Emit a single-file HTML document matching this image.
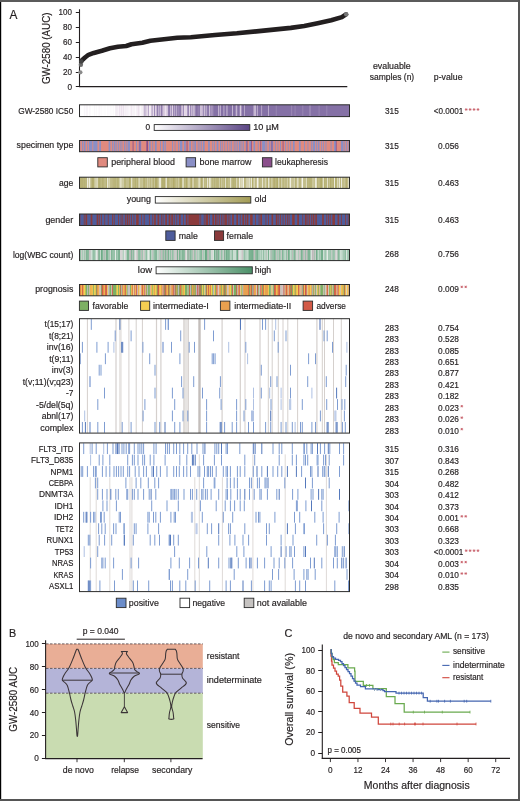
<!DOCTYPE html><html><head><meta charset="utf-8"><style>html,body{margin:0;padding:0;background:#fff}svg{display:block;will-change:transform}text{font-family:"Liberation Sans",sans-serif;stroke:#231f20;stroke-width:0.18px}</style></head><body><svg width="520" height="801" viewBox="0 0 520 801" font-family="Liberation Sans, sans-serif">
<rect width="520" height="801" fill="#ffffff"/>
<text x="9.40" y="19.10" font-size="12.2" textLength="7.90" lengthAdjust="spacingAndGlyphs" fill="#231f20">A</text>
<text transform="translate(50.2,48.3) rotate(-90)" font-size="10.6" text-anchor="middle" textLength="71.5" lengthAdjust="spacingAndGlyphs" fill="#231f20">GW-2580 (AUC)</text>
<text x="72.00" y="89.80" font-size="9.2" text-anchor="end" textLength="4.60" lengthAdjust="spacingAndGlyphs" fill="#231f20">0</text>
<line x1="75.8" y1="86.50" x2="79.5" y2="86.50" stroke="#231f20" stroke-width="1"/>
<text x="72.00" y="74.92" font-size="9.2" text-anchor="end" textLength="9.00" lengthAdjust="spacingAndGlyphs" fill="#231f20">20</text>
<line x1="75.8" y1="72.50" x2="79.5" y2="72.50" stroke="#231f20" stroke-width="1"/>
<text x="72.00" y="60.04" font-size="9.2" text-anchor="end" textLength="9.00" lengthAdjust="spacingAndGlyphs" fill="#231f20">40</text>
<line x1="75.8" y1="57.50" x2="79.5" y2="57.50" stroke="#231f20" stroke-width="1"/>
<text x="72.00" y="45.16" font-size="9.2" text-anchor="end" textLength="9.00" lengthAdjust="spacingAndGlyphs" fill="#231f20">60</text>
<line x1="75.8" y1="42.50" x2="79.5" y2="42.50" stroke="#231f20" stroke-width="1"/>
<text x="72.00" y="30.28" font-size="9.2" text-anchor="end" textLength="9.00" lengthAdjust="spacingAndGlyphs" fill="#231f20">80</text>
<line x1="75.8" y1="27.50" x2="79.5" y2="27.50" stroke="#231f20" stroke-width="1"/>
<text x="72.00" y="15.40" font-size="9.2" text-anchor="end" textLength="13.40" lengthAdjust="spacingAndGlyphs" fill="#231f20">100</text>
<line x1="75.8" y1="12.50" x2="79.5" y2="12.50" stroke="#231f20" stroke-width="1"/>
<line x1="79.5" y1="9.3" x2="79.5" y2="86.9" stroke="#231f20" stroke-width="1.1"/>
<line x1="79" y1="86.6" x2="347.3" y2="86.6" stroke="#231f20" stroke-width="1.1"/>
<path d="M82.0,60.2 L85.0,57.5 L88.5,54.8 L93.8,52.9 L101.9,50.8 L110.0,48.3 L118.0,46.7 L126.2,46.0 L131.5,44.2 L142.3,42.7 L150.4,40.7 L163.9,39.2 L177.3,37.8 L190.8,37.2 L204.2,36.0 L215.0,35.0 L236.9,33.3 L263.8,30.6 L290.8,27.9 L304.2,26.0 L317.7,23.3 L331.2,20.3 L341.9,17.1 L346.0,14.4" fill="none" stroke="#231f20" stroke-width="4.6" stroke-linecap="round" stroke-linejoin="round"/>
<circle cx="80.4" cy="72.3" r="2.1" fill="#8a8a8a"/>
<circle cx="80.9" cy="64.8" r="2.2" fill="#6a6a6a"/>
<circle cx="81.4" cy="61.5" r="2.3" fill="#444"/>
<circle cx="346.2" cy="14.3" r="2.2" fill="#777"/>
<text x="391.80" y="69.10" font-size="9.0" text-anchor="middle" textLength="37.80" lengthAdjust="spacingAndGlyphs" fill="#231f20">evaluable</text>
<text x="392.00" y="79.70" font-size="9.0" text-anchor="middle" textLength="44.40" lengthAdjust="spacingAndGlyphs" fill="#231f20">samples (n)</text>
<text x="448.20" y="79.70" font-size="9.0" text-anchor="middle" textLength="28.70" lengthAdjust="spacingAndGlyphs" fill="#231f20">p-value</text>
<rect x="79.50" y="104.80" width="1.56" height="11.80" fill="#fdfcfd"/><rect x="80.36" y="104.80" width="1.56" height="11.80" fill="#fbf9fc"/><rect x="81.21" y="104.80" width="3.27" height="11.80" fill="#ffffff"/><rect x="83.79" y="104.80" width="1.56" height="11.80" fill="#f8f4f9"/><rect x="84.64" y="104.80" width="1.56" height="11.80" fill="#fbf9fc"/><rect x="85.50" y="104.80" width="1.56" height="11.80" fill="#fefefe"/><rect x="86.36" y="104.80" width="1.56" height="11.80" fill="#f5f0f6"/><rect x="87.21" y="104.80" width="1.56" height="11.80" fill="#faf7fa"/><rect x="88.07" y="104.80" width="1.56" height="11.80" fill="#fefefe"/><rect x="88.93" y="104.80" width="2.41" height="11.80" fill="#faf7fa"/><rect x="90.64" y="104.80" width="2.41" height="11.80" fill="#ffffff"/><rect x="92.36" y="104.80" width="2.41" height="11.80" fill="#fefefe"/><rect x="94.07" y="104.80" width="1.56" height="11.80" fill="#faf7fa"/><rect x="94.93" y="104.80" width="1.56" height="11.80" fill="#fefefe"/><rect x="95.79" y="104.80" width="1.56" height="11.80" fill="#faf7fa"/><rect x="96.64" y="104.80" width="1.56" height="11.80" fill="#fdfcfd"/><rect x="97.50" y="104.80" width="1.56" height="11.80" fill="#ffffff"/><rect x="98.36" y="104.80" width="2.41" height="11.80" fill="#faf7fa"/><rect x="100.07" y="104.80" width="1.56" height="11.80" fill="#fdfcfd"/><rect x="100.93" y="104.80" width="1.56" height="11.80" fill="#fbf9fc"/><rect x="101.79" y="104.80" width="2.41" height="11.80" fill="#fefefe"/><rect x="103.50" y="104.80" width="3.27" height="11.80" fill="#fdfcfd"/><rect x="106.07" y="104.80" width="1.56" height="11.80" fill="#ffffff"/><rect x="106.93" y="104.80" width="1.56" height="11.80" fill="#fbf9fc"/><rect x="107.79" y="104.80" width="1.56" height="11.80" fill="#fdfcfd"/><rect x="108.64" y="104.80" width="1.56" height="11.80" fill="#fbf9fc"/><rect x="109.50" y="104.80" width="1.56" height="11.80" fill="#ffffff"/><rect x="110.36" y="104.80" width="1.56" height="11.80" fill="#faf7fa"/><rect x="111.21" y="104.80" width="2.41" height="11.80" fill="#fdfcfd"/><rect x="112.93" y="104.80" width="1.56" height="11.80" fill="#faf7fa"/><rect x="113.79" y="104.80" width="1.56" height="11.80" fill="#ffffff"/><rect x="114.64" y="104.80" width="1.56" height="11.80" fill="#fdfcfd"/><rect x="115.50" y="104.80" width="1.56" height="11.80" fill="#ebe0ec"/><rect x="116.36" y="104.80" width="1.56" height="11.80" fill="#f6f1f6"/><rect x="117.21" y="104.80" width="1.56" height="11.80" fill="#f3ecf4"/><rect x="118.07" y="104.80" width="1.56" height="11.80" fill="#faf6fa"/><rect x="118.93" y="104.80" width="1.56" height="11.80" fill="#ebdfec"/><rect x="119.79" y="104.80" width="1.56" height="11.80" fill="#f8f4f8"/><rect x="120.64" y="104.80" width="1.56" height="11.80" fill="#f0e7f1"/><rect x="121.50" y="104.80" width="1.56" height="11.80" fill="#eadeeb"/><rect x="122.36" y="104.80" width="1.56" height="11.80" fill="#faf7fa"/><rect x="123.21" y="104.80" width="1.56" height="11.80" fill="#e9ddea"/><rect x="124.07" y="104.80" width="1.56" height="11.80" fill="#f8f4f8"/><rect x="124.93" y="104.80" width="2.41" height="11.80" fill="#f4eef5"/><rect x="126.64" y="104.80" width="1.56" height="11.80" fill="#f8f5f9"/><rect x="127.50" y="104.80" width="1.56" height="11.80" fill="#f4eef5"/><rect x="128.36" y="104.80" width="1.56" height="11.80" fill="#fbf8fb"/><rect x="129.21" y="104.80" width="1.56" height="11.80" fill="#faf7fa"/><rect x="130.07" y="104.80" width="1.56" height="11.80" fill="#f8f4f8"/><rect x="130.93" y="104.80" width="1.56" height="11.80" fill="#efe5ef"/><rect x="131.79" y="104.80" width="1.56" height="11.80" fill="#f8f4f9"/><rect x="132.64" y="104.80" width="1.56" height="11.80" fill="#f7f2f7"/><rect x="133.50" y="104.80" width="1.56" height="11.80" fill="#f6f1f6"/><rect x="134.36" y="104.80" width="1.56" height="11.80" fill="#f7f2f7"/><rect x="135.21" y="104.80" width="1.56" height="11.80" fill="#fcfafc"/><rect x="136.07" y="104.80" width="1.56" height="11.80" fill="#f5eff6"/><rect x="136.93" y="104.80" width="1.56" height="11.80" fill="#f5eff5"/><rect x="137.79" y="104.80" width="1.56" height="11.80" fill="#eee3ee"/><rect x="138.64" y="104.80" width="1.56" height="11.80" fill="#ebe0ec"/><rect x="139.50" y="104.80" width="1.56" height="11.80" fill="#fbf9fc"/><rect x="140.36" y="104.80" width="1.56" height="11.80" fill="#fbf8fb"/><rect x="141.21" y="104.80" width="3.27" height="11.80" fill="#f4eef4"/><rect x="143.79" y="104.80" width="1.56" height="11.80" fill="#b09fc3"/><rect x="144.64" y="104.80" width="1.56" height="11.80" fill="#ede2ee"/><rect x="145.50" y="104.80" width="1.56" height="11.80" fill="#b09fc3"/><rect x="146.36" y="104.80" width="1.56" height="11.80" fill="#f4eef4"/><rect x="147.21" y="104.80" width="1.56" height="11.80" fill="#e2d4e5"/><rect x="148.07" y="104.80" width="1.56" height="11.80" fill="#b09fc3"/><rect x="148.93" y="104.80" width="2.41" height="11.80" fill="#f4eef4"/><rect x="150.64" y="104.80" width="1.56" height="11.80" fill="#ede2ee"/><rect x="151.50" y="104.80" width="1.56" height="11.80" fill="#b09fc3"/><rect x="152.36" y="104.80" width="1.56" height="11.80" fill="#ccbdd7"/><rect x="153.21" y="104.80" width="1.56" height="11.80" fill="#ede2ee"/><rect x="154.07" y="104.80" width="1.56" height="11.80" fill="#9380b0"/><rect x="154.93" y="104.80" width="2.41" height="11.80" fill="#e2d4e5"/><rect x="156.64" y="104.80" width="2.41" height="11.80" fill="#9481b0"/><rect x="158.36" y="104.80" width="1.56" height="11.80" fill="#dccee1"/><rect x="159.21" y="104.80" width="1.56" height="11.80" fill="#9d8bb7"/><rect x="160.07" y="104.80" width="1.56" height="11.80" fill="#cdbed7"/><rect x="160.93" y="104.80" width="1.56" height="11.80" fill="#8e7aac"/><rect x="161.79" y="104.80" width="1.56" height="11.80" fill="#9c89b5"/><rect x="162.64" y="104.80" width="1.56" height="11.80" fill="#e3d5e6"/><rect x="163.50" y="104.80" width="1.56" height="11.80" fill="#c3b3d0"/><rect x="164.36" y="104.80" width="1.56" height="11.80" fill="#e6d9e8"/><rect x="165.21" y="104.80" width="1.56" height="11.80" fill="#eee3ee"/><rect x="166.07" y="104.80" width="1.56" height="11.80" fill="#dacce0"/><rect x="166.93" y="104.80" width="1.56" height="11.80" fill="#e3d6e6"/><rect x="167.79" y="104.80" width="1.56" height="11.80" fill="#927faf"/><rect x="168.64" y="104.80" width="1.56" height="11.80" fill="#8f7cad"/><rect x="169.50" y="104.80" width="1.56" height="11.80" fill="#8b77aa"/><rect x="170.36" y="104.80" width="1.56" height="11.80" fill="#ebdfec"/><rect x="171.21" y="104.80" width="1.56" height="11.80" fill="#9683b2"/><rect x="172.07" y="104.80" width="1.56" height="11.80" fill="#eadeeb"/><rect x="172.93" y="104.80" width="1.56" height="11.80" fill="#8d79ab"/><rect x="173.79" y="104.80" width="1.56" height="11.80" fill="#cabbd5"/><rect x="174.64" y="104.80" width="1.56" height="11.80" fill="#9c8ab6"/><rect x="175.50" y="104.80" width="1.56" height="11.80" fill="#9885b3"/><rect x="176.36" y="104.80" width="1.56" height="11.80" fill="#cebfd8"/><rect x="177.21" y="104.80" width="1.56" height="11.80" fill="#8672a6"/><rect x="178.07" y="104.80" width="1.56" height="11.80" fill="#9f8cb7"/><rect x="178.93" y="104.80" width="1.56" height="11.80" fill="#9885b3"/><rect x="179.79" y="104.80" width="1.56" height="11.80" fill="#8571a6"/><rect x="180.64" y="104.80" width="1.56" height="11.80" fill="#a290b9"/><rect x="181.50" y="104.80" width="1.56" height="11.80" fill="#e4d6e6"/><rect x="182.36" y="104.80" width="1.56" height="11.80" fill="#c8b8d3"/><rect x="183.21" y="104.80" width="1.56" height="11.80" fill="#9684b2"/><rect x="184.07" y="104.80" width="1.56" height="11.80" fill="#eadeeb"/><rect x="184.93" y="104.80" width="1.56" height="11.80" fill="#ded1e3"/><rect x="185.79" y="104.80" width="1.56" height="11.80" fill="#eee4ef"/><rect x="186.64" y="104.80" width="1.56" height="11.80" fill="#cebfd8"/><rect x="187.50" y="104.80" width="1.56" height="11.80" fill="#8c79ab"/><rect x="188.36" y="104.80" width="1.56" height="11.80" fill="#9d8bb6"/><rect x="189.21" y="104.80" width="1.56" height="11.80" fill="#f0e6f0"/><rect x="190.07" y="104.80" width="1.56" height="11.80" fill="#9481b0"/><rect x="190.93" y="104.80" width="1.56" height="11.80" fill="#d4c6dc"/><rect x="191.79" y="104.80" width="1.56" height="11.80" fill="#9481b0"/><rect x="192.64" y="104.80" width="1.56" height="11.80" fill="#ece0ed"/><rect x="193.50" y="104.80" width="1.56" height="11.80" fill="#a18fb9"/><rect x="194.36" y="104.80" width="1.56" height="11.80" fill="#cebfd7"/><rect x="195.21" y="104.80" width="1.56" height="11.80" fill="#8c79ab"/><rect x="196.07" y="104.80" width="1.56" height="11.80" fill="#8571a6"/><rect x="196.93" y="104.80" width="1.56" height="11.80" fill="#8975a8"/><rect x="197.79" y="104.80" width="1.56" height="11.80" fill="#9b89b5"/><rect x="198.64" y="104.80" width="1.56" height="11.80" fill="#8c78ab"/><rect x="199.50" y="104.80" width="1.56" height="11.80" fill="#927faf"/><rect x="200.36" y="104.80" width="1.56" height="11.80" fill="#efe5ef"/><rect x="201.21" y="104.80" width="1.56" height="11.80" fill="#c4b4d1"/><rect x="202.07" y="104.80" width="1.56" height="11.80" fill="#c9b9d4"/><rect x="202.93" y="104.80" width="1.56" height="11.80" fill="#8a76a9"/><rect x="203.79" y="104.80" width="1.56" height="11.80" fill="#ece2ed"/><rect x="204.64" y="104.80" width="1.56" height="11.80" fill="#9380b0"/><rect x="205.50" y="104.80" width="2.41" height="11.80" fill="#b7a7c8"/><rect x="207.21" y="104.80" width="2.41" height="11.80" fill="#8571a6"/><rect x="208.93" y="104.80" width="1.56" height="11.80" fill="#e1d4e5"/><rect x="209.79" y="104.80" width="1.56" height="11.80" fill="#8571a6"/><rect x="210.64" y="104.80" width="1.56" height="11.80" fill="#c7b7d3"/><rect x="211.50" y="104.80" width="1.56" height="11.80" fill="#8571a6"/><rect x="212.36" y="104.80" width="1.56" height="11.80" fill="#b09fc3"/><rect x="213.21" y="104.80" width="5.84" height="11.80" fill="#8571a6"/><rect x="218.36" y="104.80" width="1.56" height="11.80" fill="#e5d8e7"/><rect x="219.21" y="104.80" width="1.56" height="11.80" fill="#8571a6"/><rect x="220.07" y="104.80" width="1.56" height="11.80" fill="#c2b2d0"/><rect x="220.93" y="104.80" width="3.27" height="11.80" fill="#8571a6"/><rect x="223.50" y="104.80" width="1.56" height="11.80" fill="#c8b9d4"/><rect x="224.36" y="104.80" width="2.41" height="11.80" fill="#8571a6"/><rect x="226.07" y="104.80" width="1.56" height="11.80" fill="#ad9cc1"/><rect x="226.93" y="104.80" width="1.56" height="11.80" fill="#b09fc3"/><rect x="227.79" y="104.80" width="4.99" height="11.80" fill="#8571a6"/><rect x="232.07" y="104.80" width="1.56" height="11.80" fill="#cdbfd7"/><rect x="232.93" y="104.80" width="3.27" height="11.80" fill="#8571a6"/><rect x="235.50" y="104.80" width="1.56" height="11.80" fill="#ad9bc1"/><rect x="236.36" y="104.80" width="1.56" height="11.80" fill="#d1c3da"/><rect x="237.21" y="104.80" width="3.27" height="11.80" fill="#8571a6"/><rect x="239.79" y="104.80" width="1.56" height="11.80" fill="#e3d6e6"/><rect x="240.64" y="104.80" width="1.56" height="11.80" fill="#c5b6d2"/><rect x="241.50" y="104.80" width="3.27" height="11.80" fill="#8571a6"/><rect x="244.07" y="104.80" width="1.56" height="11.80" fill="#bbabcb"/><rect x="244.93" y="104.80" width="9.27" height="11.80" fill="#8571a6"/><rect x="253.50" y="104.80" width="1.56" height="11.80" fill="#c8b8d3"/><rect x="254.36" y="104.80" width="1.56" height="11.80" fill="#c3b3d0"/><rect x="255.21" y="104.80" width="1.56" height="11.80" fill="#c9bad4"/><rect x="256.07" y="104.80" width="1.56" height="11.80" fill="#8571a6"/><rect x="256.93" y="104.80" width="1.56" height="11.80" fill="#c5b5d1"/><rect x="257.79" y="104.80" width="4.13" height="11.80" fill="#8571a6"/><rect x="261.21" y="104.80" width="1.56" height="11.80" fill="#bbabcb"/><rect x="262.07" y="104.80" width="6.70" height="11.80" fill="#8571a6"/><rect x="268.07" y="104.80" width="1.56" height="11.80" fill="#c1b1cf"/><rect x="268.93" y="104.80" width="7.56" height="11.80" fill="#8571a6"/><rect x="275.79" y="104.80" width="1.56" height="11.80" fill="#9a88b5"/><rect x="276.64" y="104.80" width="15.27" height="11.80" fill="#8571a6"/><rect x="291.21" y="104.80" width="1.56" height="11.80" fill="#9a88b5"/><rect x="292.07" y="104.80" width="3.27" height="11.80" fill="#8571a6"/><rect x="294.64" y="104.80" width="1.56" height="11.80" fill="#9a88b5"/><rect x="295.50" y="104.80" width="7.56" height="11.80" fill="#8571a6"/><rect x="302.36" y="104.80" width="1.56" height="11.80" fill="#9a88b5"/><rect x="303.21" y="104.80" width="6.70" height="11.80" fill="#8571a6"/><rect x="309.21" y="104.80" width="2.41" height="11.80" fill="#9a88b5"/><rect x="310.93" y="104.80" width="8.41" height="11.80" fill="#8571a6"/><rect x="318.64" y="104.80" width="1.56" height="11.80" fill="#9a88b5"/><rect x="319.50" y="104.80" width="7.56" height="11.80" fill="#8571a6"/><rect x="326.36" y="104.80" width="1.56" height="11.80" fill="#9a88b5"/><rect x="327.21" y="104.80" width="22.29" height="11.80" fill="#8571a6"/>
<rect x="79.50" y="104.80" width="270.00" height="11.80" fill="none" stroke="#2b2b2b" stroke-width="1"/>
<text x="73.30" y="114.00" font-size="9.0" text-anchor="end" textLength="55.10" lengthAdjust="spacingAndGlyphs" fill="#231f20">GW-2580 IC50</text>
<text x="391.90" y="114.20" font-size="9.4" text-anchor="middle" textLength="13.80" lengthAdjust="spacingAndGlyphs" fill="#231f20">315</text>
<text x="433.70" y="114.20" font-size="9.4" textLength="29.60" lengthAdjust="spacingAndGlyphs" fill="#231f20">&lt;0.0001</text>
<g stroke="#c65a64" stroke-width="0.75" stroke-linecap="butt"><line x1="464.85" y1="109.50" x2="467.55" y2="109.50"/><line x1="465.52" y1="108.33" x2="466.88" y2="110.67"/><line x1="466.88" y1="108.33" x2="465.52" y2="110.67"/></g>
<g stroke="#c65a64" stroke-width="0.75" stroke-linecap="butt"><line x1="468.78" y1="109.50" x2="471.48" y2="109.50"/><line x1="469.45" y1="108.33" x2="470.81" y2="110.67"/><line x1="470.81" y1="108.33" x2="469.45" y2="110.67"/></g>
<g stroke="#c65a64" stroke-width="0.75" stroke-linecap="butt"><line x1="472.71" y1="109.50" x2="475.41" y2="109.50"/><line x1="473.38" y1="108.33" x2="474.74" y2="110.67"/><line x1="474.74" y1="108.33" x2="473.38" y2="110.67"/></g>
<g stroke="#c65a64" stroke-width="0.75" stroke-linecap="butt"><line x1="476.64" y1="109.50" x2="479.34" y2="109.50"/><line x1="477.31" y1="108.33" x2="478.67" y2="110.67"/><line x1="478.67" y1="108.33" x2="477.31" y2="110.67"/></g>
<text x="150.00" y="130.00" font-size="8.3" text-anchor="end" fill="#231f20">0</text>
<defs><linearGradient id="gIC" x1="0" x2="1"><stop offset="0" stop-color="#ffffff"/><stop offset="1" stop-color="#5b4585"/></linearGradient><linearGradient id="gAge" x1="0" x2="1"><stop offset="0" stop-color="#ffffff"/><stop offset="1" stop-color="#a39c55"/></linearGradient><linearGradient id="gWBC" x1="0" x2="1"><stop offset="0" stop-color="#ffffff"/><stop offset="1" stop-color="#4b9068"/></linearGradient></defs>
<rect x="154.2" y="124.6" width="95.6" height="5.8" fill="url(#gIC)" stroke="#2b2b2b" stroke-width="0.9"/>
<text x="253.30" y="130.00" font-size="8.3" textLength="25.50" lengthAdjust="spacingAndGlyphs" fill="#231f20">10 µM</text>
<rect x="79.50" y="140.50" width="1.56" height="11.20" fill="#8a8fc6"/><rect x="80.36" y="140.50" width="2.41" height="11.20" fill="#e08a7f"/><rect x="82.07" y="140.50" width="1.56" height="11.20" fill="#8a8fc6"/><rect x="82.93" y="140.50" width="1.56" height="11.20" fill="#e08a7f"/><rect x="83.79" y="140.50" width="2.41" height="11.20" fill="#8a8fc6"/><rect x="85.50" y="140.50" width="2.41" height="11.20" fill="#e08a7f"/><rect x="87.21" y="140.50" width="1.56" height="11.20" fill="#8a8fc6"/><rect x="88.07" y="140.50" width="1.56" height="11.20" fill="#e08a7f"/><rect x="88.93" y="140.50" width="4.13" height="11.20" fill="#8a8fc6"/><rect x="92.36" y="140.50" width="1.56" height="11.20" fill="#e08a7f"/><rect x="93.21" y="140.50" width="4.99" height="11.20" fill="#8a8fc6"/><rect x="97.50" y="140.50" width="2.41" height="11.20" fill="#e08a7f"/><rect x="99.21" y="140.50" width="2.41" height="11.20" fill="#8a8fc6"/><rect x="100.93" y="140.50" width="8.41" height="11.20" fill="#e08a7f"/><rect x="108.64" y="140.50" width="2.41" height="11.20" fill="#8a8fc6"/><rect x="110.36" y="140.50" width="2.41" height="11.20" fill="#e08a7f"/><rect x="112.07" y="140.50" width="1.56" height="11.20" fill="#8a8fc6"/><rect x="112.93" y="140.50" width="1.56" height="11.20" fill="#e08a7f"/><rect x="113.79" y="140.50" width="2.41" height="11.20" fill="#8a8fc6"/><rect x="115.50" y="140.50" width="1.56" height="11.20" fill="#e08a7f"/><rect x="116.36" y="140.50" width="1.56" height="11.20" fill="#8a8fc6"/><rect x="117.21" y="140.50" width="1.56" height="11.20" fill="#e08a7f"/><rect x="118.07" y="140.50" width="1.56" height="11.20" fill="#8a8fc6"/><rect x="118.93" y="140.50" width="1.56" height="11.20" fill="#e08a7f"/><rect x="119.79" y="140.50" width="1.56" height="11.20" fill="#8a8fc6"/><rect x="120.64" y="140.50" width="1.56" height="11.20" fill="#e08a7f"/><rect x="121.50" y="140.50" width="1.56" height="11.20" fill="#8a8fc6"/><rect x="122.36" y="140.50" width="2.41" height="11.20" fill="#e08a7f"/><rect x="124.07" y="140.50" width="1.56" height="11.20" fill="#8a8fc6"/><rect x="124.93" y="140.50" width="1.56" height="11.20" fill="#e08a7f"/><rect x="125.79" y="140.50" width="1.56" height="11.20" fill="#8a8fc6"/><rect x="126.64" y="140.50" width="1.56" height="11.20" fill="#e08a7f"/><rect x="127.50" y="140.50" width="3.27" height="11.20" fill="#8a8fc6"/><rect x="130.07" y="140.50" width="3.27" height="11.20" fill="#e08a7f"/><rect x="132.64" y="140.50" width="1.56" height="11.20" fill="#8b4f8c"/><rect x="133.50" y="140.50" width="3.27" height="11.20" fill="#e08a7f"/><rect x="136.07" y="140.50" width="1.56" height="11.20" fill="#8a8fc6"/><rect x="136.93" y="140.50" width="2.41" height="11.20" fill="#e08a7f"/><rect x="138.64" y="140.50" width="1.56" height="11.20" fill="#8a8fc6"/><rect x="139.50" y="140.50" width="1.56" height="11.20" fill="#8b4f8c"/><rect x="140.36" y="140.50" width="1.56" height="11.20" fill="#8a8fc6"/><rect x="141.21" y="140.50" width="5.84" height="11.20" fill="#e08a7f"/><rect x="146.36" y="140.50" width="2.41" height="11.20" fill="#8b4f8c"/><rect x="148.07" y="140.50" width="1.56" height="11.20" fill="#e08a7f"/><rect x="148.93" y="140.50" width="2.41" height="11.20" fill="#8a8fc6"/><rect x="150.64" y="140.50" width="2.41" height="11.20" fill="#e08a7f"/><rect x="152.36" y="140.50" width="1.56" height="11.20" fill="#8a8fc6"/><rect x="153.21" y="140.50" width="2.41" height="11.20" fill="#e08a7f"/><rect x="154.93" y="140.50" width="2.41" height="11.20" fill="#8a8fc6"/><rect x="156.64" y="140.50" width="4.13" height="11.20" fill="#e08a7f"/><rect x="160.07" y="140.50" width="1.56" height="11.20" fill="#8a8fc6"/><rect x="160.93" y="140.50" width="2.41" height="11.20" fill="#e08a7f"/><rect x="162.64" y="140.50" width="2.41" height="11.20" fill="#8a8fc6"/><rect x="164.36" y="140.50" width="1.56" height="11.20" fill="#e08a7f"/><rect x="165.21" y="140.50" width="1.56" height="11.20" fill="#8a8fc6"/><rect x="166.07" y="140.50" width="6.70" height="11.20" fill="#e08a7f"/><rect x="172.07" y="140.50" width="1.56" height="11.20" fill="#8a8fc6"/><rect x="172.93" y="140.50" width="2.41" height="11.20" fill="#e08a7f"/><rect x="174.64" y="140.50" width="1.56" height="11.20" fill="#8a8fc6"/><rect x="175.50" y="140.50" width="3.27" height="11.20" fill="#e08a7f"/><rect x="178.07" y="140.50" width="1.56" height="11.20" fill="#8a8fc6"/><rect x="178.93" y="140.50" width="1.56" height="11.20" fill="#e08a7f"/><rect x="179.79" y="140.50" width="3.27" height="11.20" fill="#8a8fc6"/><rect x="182.36" y="140.50" width="2.41" height="11.20" fill="#e08a7f"/><rect x="184.07" y="140.50" width="2.41" height="11.20" fill="#8a8fc6"/><rect x="185.79" y="140.50" width="1.56" height="11.20" fill="#e08a7f"/><rect x="186.64" y="140.50" width="1.56" height="11.20" fill="#8b4f8c"/><rect x="187.50" y="140.50" width="2.41" height="11.20" fill="#e08a7f"/><rect x="189.21" y="140.50" width="2.41" height="11.20" fill="#8a8fc6"/><rect x="190.93" y="140.50" width="2.41" height="11.20" fill="#e08a7f"/><rect x="192.64" y="140.50" width="1.56" height="11.20" fill="#8a8fc6"/><rect x="193.50" y="140.50" width="1.56" height="11.20" fill="#e08a7f"/><rect x="194.36" y="140.50" width="2.41" height="11.20" fill="#8a8fc6"/><rect x="196.07" y="140.50" width="2.41" height="11.20" fill="#e08a7f"/><rect x="197.79" y="140.50" width="1.56" height="11.20" fill="#8a8fc6"/><rect x="198.64" y="140.50" width="1.56" height="11.20" fill="#e08a7f"/><rect x="199.50" y="140.50" width="1.56" height="11.20" fill="#8a8fc6"/><rect x="200.36" y="140.50" width="1.56" height="11.20" fill="#e08a7f"/><rect x="201.21" y="140.50" width="1.56" height="11.20" fill="#8a8fc6"/><rect x="202.07" y="140.50" width="1.56" height="11.20" fill="#e08a7f"/><rect x="202.93" y="140.50" width="2.41" height="11.20" fill="#8a8fc6"/><rect x="204.64" y="140.50" width="4.13" height="11.20" fill="#e08a7f"/><rect x="208.07" y="140.50" width="2.41" height="11.20" fill="#8a8fc6"/><rect x="209.79" y="140.50" width="3.27" height="11.20" fill="#e08a7f"/><rect x="212.36" y="140.50" width="1.56" height="11.20" fill="#8a8fc6"/><rect x="213.21" y="140.50" width="1.56" height="11.20" fill="#e08a7f"/><rect x="214.07" y="140.50" width="1.56" height="11.20" fill="#8a8fc6"/><rect x="214.93" y="140.50" width="2.41" height="11.20" fill="#e08a7f"/><rect x="216.64" y="140.50" width="2.41" height="11.20" fill="#8a8fc6"/><rect x="218.36" y="140.50" width="2.41" height="11.20" fill="#e08a7f"/><rect x="220.07" y="140.50" width="1.56" height="11.20" fill="#8a8fc6"/><rect x="220.93" y="140.50" width="1.56" height="11.20" fill="#e08a7f"/><rect x="221.79" y="140.50" width="1.56" height="11.20" fill="#8a8fc6"/><rect x="222.64" y="140.50" width="2.41" height="11.20" fill="#e08a7f"/><rect x="224.36" y="140.50" width="1.56" height="11.20" fill="#8a8fc6"/><rect x="225.21" y="140.50" width="2.41" height="11.20" fill="#e08a7f"/><rect x="226.93" y="140.50" width="1.56" height="11.20" fill="#8a8fc6"/><rect x="227.79" y="140.50" width="2.41" height="11.20" fill="#e08a7f"/><rect x="229.50" y="140.50" width="1.56" height="11.20" fill="#8a8fc6"/><rect x="230.36" y="140.50" width="1.56" height="11.20" fill="#e08a7f"/><rect x="231.21" y="140.50" width="1.56" height="11.20" fill="#8a8fc6"/><rect x="232.07" y="140.50" width="2.41" height="11.20" fill="#e08a7f"/><rect x="233.79" y="140.50" width="1.56" height="11.20" fill="#8a8fc6"/><rect x="234.64" y="140.50" width="1.56" height="11.20" fill="#e08a7f"/><rect x="235.50" y="140.50" width="1.56" height="11.20" fill="#8a8fc6"/><rect x="236.36" y="140.50" width="1.56" height="11.20" fill="#e08a7f"/><rect x="237.21" y="140.50" width="1.56" height="11.20" fill="#8a8fc6"/><rect x="238.07" y="140.50" width="1.56" height="11.20" fill="#e08a7f"/><rect x="238.93" y="140.50" width="2.41" height="11.20" fill="#8a8fc6"/><rect x="240.64" y="140.50" width="1.56" height="11.20" fill="#e08a7f"/><rect x="241.50" y="140.50" width="1.56" height="11.20" fill="#8a8fc6"/><rect x="242.36" y="140.50" width="1.56" height="11.20" fill="#e08a7f"/><rect x="243.21" y="140.50" width="1.56" height="11.20" fill="#8a8fc6"/><rect x="244.07" y="140.50" width="2.41" height="11.20" fill="#e08a7f"/><rect x="245.79" y="140.50" width="1.56" height="11.20" fill="#8a8fc6"/><rect x="246.64" y="140.50" width="1.56" height="11.20" fill="#8b4f8c"/><rect x="247.50" y="140.50" width="2.41" height="11.20" fill="#e08a7f"/><rect x="249.21" y="140.50" width="2.41" height="11.20" fill="#8a8fc6"/><rect x="250.93" y="140.50" width="1.56" height="11.20" fill="#8b4f8c"/><rect x="251.79" y="140.50" width="2.41" height="11.20" fill="#e08a7f"/><rect x="253.50" y="140.50" width="2.41" height="11.20" fill="#8a8fc6"/><rect x="255.21" y="140.50" width="3.27" height="11.20" fill="#e08a7f"/><rect x="257.79" y="140.50" width="1.56" height="11.20" fill="#8a8fc6"/><rect x="258.64" y="140.50" width="2.41" height="11.20" fill="#e08a7f"/><rect x="260.36" y="140.50" width="1.56" height="11.20" fill="#8b4f8c"/><rect x="261.21" y="140.50" width="1.56" height="11.20" fill="#e08a7f"/><rect x="262.07" y="140.50" width="4.13" height="11.20" fill="#8a8fc6"/><rect x="265.50" y="140.50" width="1.56" height="11.20" fill="#e08a7f"/><rect x="266.36" y="140.50" width="1.56" height="11.20" fill="#8a8fc6"/><rect x="267.21" y="140.50" width="2.41" height="11.20" fill="#e08a7f"/><rect x="268.93" y="140.50" width="1.56" height="11.20" fill="#8a8fc6"/><rect x="269.79" y="140.50" width="1.56" height="11.20" fill="#e08a7f"/><rect x="270.64" y="140.50" width="1.56" height="11.20" fill="#8a8fc6"/><rect x="271.50" y="140.50" width="1.56" height="11.20" fill="#8b4f8c"/><rect x="272.36" y="140.50" width="1.56" height="11.20" fill="#8a8fc6"/><rect x="273.21" y="140.50" width="2.41" height="11.20" fill="#e08a7f"/><rect x="274.93" y="140.50" width="1.56" height="11.20" fill="#8a8fc6"/><rect x="275.79" y="140.50" width="2.41" height="11.20" fill="#e08a7f"/><rect x="277.50" y="140.50" width="1.56" height="11.20" fill="#8a8fc6"/><rect x="278.36" y="140.50" width="2.41" height="11.20" fill="#e08a7f"/><rect x="280.07" y="140.50" width="1.56" height="11.20" fill="#8a8fc6"/><rect x="280.93" y="140.50" width="2.41" height="11.20" fill="#e08a7f"/><rect x="282.64" y="140.50" width="1.56" height="11.20" fill="#8b4f8c"/><rect x="283.50" y="140.50" width="2.41" height="11.20" fill="#e08a7f"/><rect x="285.21" y="140.50" width="1.56" height="11.20" fill="#8a8fc6"/><rect x="286.07" y="140.50" width="2.41" height="11.20" fill="#e08a7f"/><rect x="287.79" y="140.50" width="1.56" height="11.20" fill="#8a8fc6"/><rect x="288.64" y="140.50" width="2.41" height="11.20" fill="#e08a7f"/><rect x="290.36" y="140.50" width="1.56" height="11.20" fill="#8a8fc6"/><rect x="291.21" y="140.50" width="2.41" height="11.20" fill="#e08a7f"/><rect x="292.93" y="140.50" width="2.41" height="11.20" fill="#8a8fc6"/><rect x="294.64" y="140.50" width="4.99" height="11.20" fill="#e08a7f"/><rect x="298.93" y="140.50" width="2.41" height="11.20" fill="#8a8fc6"/><rect x="300.64" y="140.50" width="4.13" height="11.20" fill="#e08a7f"/><rect x="304.07" y="140.50" width="1.56" height="11.20" fill="#8a8fc6"/><rect x="304.93" y="140.50" width="3.27" height="11.20" fill="#e08a7f"/><rect x="307.50" y="140.50" width="1.56" height="11.20" fill="#8a8fc6"/><rect x="308.36" y="140.50" width="3.27" height="11.20" fill="#e08a7f"/><rect x="310.93" y="140.50" width="1.56" height="11.20" fill="#8a8fc6"/><rect x="311.79" y="140.50" width="1.56" height="11.20" fill="#e08a7f"/><rect x="312.64" y="140.50" width="3.27" height="11.20" fill="#8a8fc6"/><rect x="315.21" y="140.50" width="1.56" height="11.20" fill="#e08a7f"/><rect x="316.07" y="140.50" width="1.56" height="11.20" fill="#8a8fc6"/><rect x="316.93" y="140.50" width="1.56" height="11.20" fill="#e08a7f"/><rect x="317.79" y="140.50" width="2.41" height="11.20" fill="#8a8fc6"/><rect x="319.50" y="140.50" width="2.41" height="11.20" fill="#e08a7f"/><rect x="321.21" y="140.50" width="1.56" height="11.20" fill="#8a8fc6"/><rect x="322.07" y="140.50" width="1.56" height="11.20" fill="#e08a7f"/><rect x="322.93" y="140.50" width="1.56" height="11.20" fill="#8a8fc6"/><rect x="323.79" y="140.50" width="2.41" height="11.20" fill="#e08a7f"/><rect x="325.50" y="140.50" width="1.56" height="11.20" fill="#8a8fc6"/><rect x="326.36" y="140.50" width="4.99" height="11.20" fill="#e08a7f"/><rect x="330.64" y="140.50" width="1.56" height="11.20" fill="#8a8fc6"/><rect x="331.50" y="140.50" width="3.27" height="11.20" fill="#e08a7f"/><rect x="334.07" y="140.50" width="2.41" height="11.20" fill="#8a8fc6"/><rect x="335.79" y="140.50" width="1.56" height="11.20" fill="#8b4f8c"/><rect x="336.64" y="140.50" width="4.99" height="11.20" fill="#e08a7f"/><rect x="340.93" y="140.50" width="3.27" height="11.20" fill="#8a8fc6"/><rect x="343.50" y="140.50" width="1.56" height="11.20" fill="#e08a7f"/><rect x="344.36" y="140.50" width="1.56" height="11.20" fill="#8a8fc6"/><rect x="345.21" y="140.50" width="1.56" height="11.20" fill="#e08a7f"/><rect x="346.07" y="140.50" width="1.56" height="11.20" fill="#8a8fc6"/><rect x="346.93" y="140.50" width="1.56" height="11.20" fill="#e08a7f"/><rect x="347.79" y="140.50" width="1.56" height="11.20" fill="#8a8fc6"/><rect x="348.64" y="140.50" width="0.86" height="11.20" fill="#e08a7f"/>
<rect x="79.50" y="140.50" width="270.00" height="11.20" fill="none" stroke="#2b2b2b" stroke-width="1"/>
<text x="73.30" y="148.00" font-size="9.0" text-anchor="end" textLength="56.70" lengthAdjust="spacingAndGlyphs" fill="#231f20">specimen type</text>
<text x="391.90" y="148.60" font-size="9.4" text-anchor="middle" textLength="13.80" lengthAdjust="spacingAndGlyphs" fill="#231f20">315</text>
<text x="438.10" y="148.60" font-size="9.4" textLength="20.80" lengthAdjust="spacingAndGlyphs" fill="#231f20">0.056</text>
<rect x="97.80" y="157.70" width="9.50" height="9.20" fill="#e08a7f" stroke="#2b2b2b" stroke-width="0.9"/>
<text x="111.20" y="165.20" font-size="9.0" textLength="63.80" lengthAdjust="spacingAndGlyphs" fill="#231f20">peripheral blood</text>
<rect x="186.10" y="157.70" width="9.50" height="9.20" fill="#8a8fc6" stroke="#2b2b2b" stroke-width="0.9"/>
<text x="199.50" y="165.20" font-size="9.0" textLength="52.00" lengthAdjust="spacingAndGlyphs" fill="#231f20">bone marrow</text>
<rect x="262.40" y="157.70" width="9.50" height="9.20" fill="#8b4f8c" stroke="#2b2b2b" stroke-width="0.9"/>
<text x="275.10" y="165.20" font-size="9.0" textLength="52.90" lengthAdjust="spacingAndGlyphs" fill="#231f20">leukapheresis</text>
<rect x="79.50" y="177.20" width="1.56" height="11.20" fill="#bbb57c"/><rect x="80.36" y="177.20" width="1.56" height="11.20" fill="#b4ae70"/><rect x="81.21" y="177.20" width="2.41" height="11.20" fill="#b7b174"/><rect x="82.93" y="177.20" width="1.56" height="11.20" fill="#bcb77e"/><rect x="83.79" y="177.20" width="1.56" height="11.20" fill="#b3ad6d"/><rect x="84.64" y="177.20" width="1.56" height="11.20" fill="#c0bb86"/><rect x="85.50" y="177.20" width="1.56" height="11.20" fill="#b7b175"/><rect x="86.36" y="177.20" width="1.56" height="11.20" fill="#bdb880"/><rect x="87.21" y="177.20" width="1.56" height="11.20" fill="#faf9f5"/><rect x="88.07" y="177.20" width="1.56" height="11.20" fill="#ccc89d"/><rect x="88.93" y="177.20" width="1.56" height="11.20" fill="#f4f3ea"/><rect x="89.79" y="177.20" width="1.56" height="11.20" fill="#cdcaa0"/><rect x="90.64" y="177.20" width="1.56" height="11.20" fill="#c7c394"/><rect x="91.50" y="177.20" width="1.56" height="11.20" fill="#b3ac6c"/><rect x="92.36" y="177.20" width="1.56" height="11.20" fill="#b5af71"/><rect x="93.21" y="177.20" width="1.56" height="11.20" fill="#b4ae6e"/><rect x="94.07" y="177.20" width="1.56" height="11.20" fill="#c8c495"/><rect x="94.93" y="177.20" width="1.56" height="11.20" fill="#d6d2af"/><rect x="95.79" y="177.20" width="1.56" height="11.20" fill="#c4bf8d"/><rect x="96.64" y="177.20" width="1.56" height="11.20" fill="#f4f3ea"/><rect x="97.50" y="177.20" width="1.56" height="11.20" fill="#c1bc87"/><rect x="98.36" y="177.20" width="1.56" height="11.20" fill="#b2ac6b"/><rect x="99.21" y="177.20" width="1.56" height="11.20" fill="#b3ad6e"/><rect x="100.07" y="177.20" width="1.56" height="11.20" fill="#b9b479"/><rect x="100.93" y="177.20" width="1.56" height="11.20" fill="#c1bb87"/><rect x="101.79" y="177.20" width="1.56" height="11.20" fill="#b6b073"/><rect x="102.64" y="177.20" width="1.56" height="11.20" fill="#b8b378"/><rect x="103.50" y="177.20" width="1.56" height="11.20" fill="#bbb57c"/><rect x="104.36" y="177.20" width="1.56" height="11.20" fill="#c2bd8b"/><rect x="105.21" y="177.20" width="1.56" height="11.20" fill="#bfba85"/><rect x="106.07" y="177.20" width="1.56" height="11.20" fill="#afa966"/><rect x="106.93" y="177.20" width="1.56" height="11.20" fill="#f7f6ef"/><rect x="107.79" y="177.20" width="1.56" height="11.20" fill="#bab57b"/><rect x="108.64" y="177.20" width="1.56" height="11.20" fill="#f6f5ed"/><rect x="109.50" y="177.20" width="1.56" height="11.20" fill="#b4ae6e"/><rect x="110.36" y="177.20" width="1.56" height="11.20" fill="#cac69a"/><rect x="111.21" y="177.20" width="1.56" height="11.20" fill="#beb982"/><rect x="112.07" y="177.20" width="1.56" height="11.20" fill="#bfb983"/><rect x="112.93" y="177.20" width="1.56" height="11.20" fill="#bbb57c"/><rect x="113.79" y="177.20" width="1.56" height="11.20" fill="#bfba84"/><rect x="114.64" y="177.20" width="1.56" height="11.20" fill="#b1ab69"/><rect x="115.50" y="177.20" width="1.56" height="11.20" fill="#c2be8b"/><rect x="116.36" y="177.20" width="1.56" height="11.20" fill="#bfba84"/><rect x="117.21" y="177.20" width="1.56" height="11.20" fill="#b6b073"/><rect x="118.07" y="177.20" width="1.56" height="11.20" fill="#bab57b"/><rect x="118.93" y="177.20" width="1.56" height="11.20" fill="#c4bf8d"/><rect x="119.79" y="177.20" width="1.56" height="11.20" fill="#f6f5ed"/><rect x="120.64" y="177.20" width="1.56" height="11.20" fill="#bcb77e"/><rect x="121.50" y="177.20" width="1.56" height="11.20" fill="#f6f5ed"/><rect x="122.36" y="177.20" width="1.56" height="11.20" fill="#b7b275"/><rect x="123.21" y="177.20" width="1.56" height="11.20" fill="#d4d1ad"/><rect x="124.07" y="177.20" width="1.56" height="11.20" fill="#b9b479"/><rect x="124.93" y="177.20" width="1.56" height="11.20" fill="#b7b175"/><rect x="125.79" y="177.20" width="1.56" height="11.20" fill="#ccc89e"/><rect x="126.64" y="177.20" width="1.56" height="11.20" fill="#b7b174"/><rect x="127.50" y="177.20" width="1.56" height="11.20" fill="#d2cea8"/><rect x="128.36" y="177.20" width="1.56" height="11.20" fill="#bdb780"/><rect x="129.21" y="177.20" width="1.56" height="11.20" fill="#afa965"/><rect x="130.07" y="177.20" width="1.56" height="11.20" fill="#b5af70"/><rect x="130.93" y="177.20" width="1.56" height="11.20" fill="#e9e7d5"/><rect x="131.79" y="177.20" width="1.56" height="11.20" fill="#d1cda6"/><rect x="132.64" y="177.20" width="1.56" height="11.20" fill="#b7b175"/><rect x="133.50" y="177.20" width="1.56" height="11.20" fill="#c3be8c"/><rect x="134.36" y="177.20" width="1.56" height="11.20" fill="#bab47a"/><rect x="135.21" y="177.20" width="1.56" height="11.20" fill="#b3ad6e"/><rect x="136.07" y="177.20" width="1.56" height="11.20" fill="#c1bc87"/><rect x="136.93" y="177.20" width="1.56" height="11.20" fill="#b6b073"/><rect x="137.79" y="177.20" width="1.56" height="11.20" fill="#beb983"/><rect x="138.64" y="177.20" width="1.56" height="11.20" fill="#ecebdb"/><rect x="139.50" y="177.20" width="1.56" height="11.20" fill="#c3be8b"/><rect x="140.36" y="177.20" width="1.56" height="11.20" fill="#c8c496"/><rect x="141.21" y="177.20" width="1.56" height="11.20" fill="#c3bf8d"/><rect x="142.07" y="177.20" width="1.56" height="11.20" fill="#cac699"/><rect x="142.93" y="177.20" width="1.56" height="11.20" fill="#bcb67e"/><rect x="143.79" y="177.20" width="1.56" height="11.20" fill="#b0aa68"/><rect x="144.64" y="177.20" width="1.56" height="11.20" fill="#c1bc87"/><rect x="145.50" y="177.20" width="1.56" height="11.20" fill="#c2bd8a"/><rect x="146.36" y="177.20" width="1.56" height="11.20" fill="#bcb77f"/><rect x="147.21" y="177.20" width="1.56" height="11.20" fill="#d6d2b0"/><rect x="148.07" y="177.20" width="1.56" height="11.20" fill="#c1bc88"/><rect x="148.93" y="177.20" width="1.56" height="11.20" fill="#d1cda7"/><rect x="149.79" y="177.20" width="1.56" height="11.20" fill="#b0aa68"/><rect x="150.64" y="177.20" width="1.56" height="11.20" fill="#d5d1ae"/><rect x="151.50" y="177.20" width="1.56" height="11.20" fill="#c0bb87"/><rect x="152.36" y="177.20" width="1.56" height="11.20" fill="#c2be8b"/><rect x="153.21" y="177.20" width="1.56" height="11.20" fill="#b4ae6f"/><rect x="154.07" y="177.20" width="1.56" height="11.20" fill="#cac699"/><rect x="154.93" y="177.20" width="1.56" height="11.20" fill="#b2ac6c"/><rect x="155.79" y="177.20" width="1.56" height="11.20" fill="#b1aa69"/><rect x="156.64" y="177.20" width="1.56" height="11.20" fill="#b7b175"/><rect x="157.50" y="177.20" width="1.56" height="11.20" fill="#c2bd8a"/><rect x="158.36" y="177.20" width="1.56" height="11.20" fill="#ccc89d"/><rect x="159.21" y="177.20" width="1.56" height="11.20" fill="#edebdc"/><rect x="160.07" y="177.20" width="1.56" height="11.20" fill="#edecdd"/><rect x="160.93" y="177.20" width="1.56" height="11.20" fill="#c0bb86"/><rect x="161.79" y="177.20" width="1.56" height="11.20" fill="#b8b277"/><rect x="162.64" y="177.20" width="1.56" height="11.20" fill="#b0aa68"/><rect x="163.50" y="177.20" width="1.56" height="11.20" fill="#bcb77f"/><rect x="164.36" y="177.20" width="1.56" height="11.20" fill="#b0a967"/><rect x="165.21" y="177.20" width="1.56" height="11.20" fill="#d4d1ad"/><rect x="166.07" y="177.20" width="1.56" height="11.20" fill="#e8e7d3"/><rect x="166.93" y="177.20" width="1.56" height="11.20" fill="#b6b073"/><rect x="167.79" y="177.20" width="1.56" height="11.20" fill="#bcb67e"/><rect x="168.64" y="177.20" width="1.56" height="11.20" fill="#b2ac6b"/><rect x="169.50" y="177.20" width="1.56" height="11.20" fill="#cdc89e"/><rect x="170.36" y="177.20" width="1.56" height="11.20" fill="#bfb983"/><rect x="171.21" y="177.20" width="1.56" height="11.20" fill="#bcb77f"/><rect x="172.07" y="177.20" width="1.56" height="11.20" fill="#c0bb86"/><rect x="172.93" y="177.20" width="1.56" height="11.20" fill="#afa966"/><rect x="173.79" y="177.20" width="1.56" height="11.20" fill="#bbb57c"/><rect x="174.64" y="177.20" width="1.56" height="11.20" fill="#b3ad6d"/><rect x="175.50" y="177.20" width="1.56" height="11.20" fill="#cac599"/><rect x="176.36" y="177.20" width="1.56" height="11.20" fill="#c2be8b"/><rect x="177.21" y="177.20" width="1.56" height="11.20" fill="#bcb77f"/><rect x="178.07" y="177.20" width="1.56" height="11.20" fill="#cfcba3"/><rect x="178.93" y="177.20" width="1.56" height="11.20" fill="#c3be8c"/><rect x="179.79" y="177.20" width="1.56" height="11.20" fill="#b1aa68"/><rect x="180.64" y="177.20" width="1.56" height="11.20" fill="#b5af71"/><rect x="181.50" y="177.20" width="1.56" height="11.20" fill="#b4ae6f"/><rect x="182.36" y="177.20" width="1.56" height="11.20" fill="#ecebdb"/><rect x="183.21" y="177.20" width="1.56" height="11.20" fill="#d7d4b3"/><rect x="184.07" y="177.20" width="1.56" height="11.20" fill="#b7b175"/><rect x="184.93" y="177.20" width="1.56" height="11.20" fill="#c2bd89"/><rect x="185.79" y="177.20" width="1.56" height="11.20" fill="#b1ab6a"/><rect x="186.64" y="177.20" width="1.56" height="11.20" fill="#b3ad6d"/><rect x="187.50" y="177.20" width="1.56" height="11.20" fill="#ccc89d"/><rect x="188.36" y="177.20" width="1.56" height="11.20" fill="#d4d1ac"/><rect x="189.21" y="177.20" width="1.56" height="11.20" fill="#cdc99f"/><rect x="190.07" y="177.20" width="1.56" height="11.20" fill="#bdb880"/><rect x="190.93" y="177.20" width="1.56" height="11.20" fill="#b1ab69"/><rect x="191.79" y="177.20" width="1.56" height="11.20" fill="#bfb983"/><rect x="192.64" y="177.20" width="1.56" height="11.20" fill="#f0efe3"/><rect x="193.50" y="177.20" width="1.56" height="11.20" fill="#b7b175"/><rect x="194.36" y="177.20" width="1.56" height="11.20" fill="#bcb77f"/><rect x="195.21" y="177.20" width="1.56" height="11.20" fill="#bbb67d"/><rect x="196.07" y="177.20" width="1.56" height="11.20" fill="#beb982"/><rect x="196.93" y="177.20" width="1.56" height="11.20" fill="#bcb77e"/><rect x="197.79" y="177.20" width="1.56" height="11.20" fill="#d3d0ab"/><rect x="198.64" y="177.20" width="1.56" height="11.20" fill="#d7d4b2"/><rect x="199.50" y="177.20" width="1.56" height="11.20" fill="#e6e4ce"/><rect x="200.36" y="177.20" width="1.56" height="11.20" fill="#b9b379"/><rect x="201.21" y="177.20" width="1.56" height="11.20" fill="#b1ab6a"/><rect x="202.07" y="177.20" width="1.56" height="11.20" fill="#b9b378"/><rect x="202.93" y="177.20" width="1.56" height="11.20" fill="#ebe9d8"/><rect x="203.79" y="177.20" width="1.56" height="11.20" fill="#bcb77e"/><rect x="204.64" y="177.20" width="1.56" height="11.20" fill="#c1bc88"/><rect x="205.50" y="177.20" width="1.56" height="11.20" fill="#c2bd8a"/><rect x="206.36" y="177.20" width="1.56" height="11.20" fill="#b7b175"/><rect x="207.21" y="177.20" width="1.56" height="11.20" fill="#f4f3ea"/><rect x="208.07" y="177.20" width="1.56" height="11.20" fill="#bdb881"/><rect x="208.93" y="177.20" width="1.56" height="11.20" fill="#e8e6d2"/><rect x="209.79" y="177.20" width="1.56" height="11.20" fill="#e7e5d1"/><rect x="210.64" y="177.20" width="1.56" height="11.20" fill="#cbc79b"/><rect x="211.50" y="177.20" width="1.56" height="11.20" fill="#beb982"/><rect x="212.36" y="177.20" width="1.56" height="11.20" fill="#bbb67d"/><rect x="213.21" y="177.20" width="1.56" height="11.20" fill="#c3be8c"/><rect x="214.07" y="177.20" width="1.56" height="11.20" fill="#b7b175"/><rect x="214.93" y="177.20" width="1.56" height="11.20" fill="#c3be8b"/><rect x="215.79" y="177.20" width="1.56" height="11.20" fill="#bdb881"/><rect x="216.64" y="177.20" width="1.56" height="11.20" fill="#b9b378"/><rect x="217.50" y="177.20" width="1.56" height="11.20" fill="#beb881"/><rect x="218.36" y="177.20" width="1.56" height="11.20" fill="#bcb77f"/><rect x="219.21" y="177.20" width="1.56" height="11.20" fill="#d5d2af"/><rect x="220.07" y="177.20" width="1.56" height="11.20" fill="#b3ad6d"/><rect x="220.93" y="177.20" width="1.56" height="11.20" fill="#d0cca5"/><rect x="221.79" y="177.20" width="1.56" height="11.20" fill="#c1bc88"/><rect x="222.64" y="177.20" width="1.56" height="11.20" fill="#beb983"/><rect x="223.50" y="177.20" width="1.56" height="11.20" fill="#c7c394"/><rect x="224.36" y="177.20" width="1.56" height="11.20" fill="#b3ad6d"/><rect x="225.21" y="177.20" width="1.56" height="11.20" fill="#eeecde"/><rect x="226.07" y="177.20" width="1.56" height="11.20" fill="#b7b275"/><rect x="226.93" y="177.20" width="1.56" height="11.20" fill="#bab47a"/><rect x="227.79" y="177.20" width="1.56" height="11.20" fill="#c4bf8d"/><rect x="228.64" y="177.20" width="1.56" height="11.20" fill="#c3bf8c"/><rect x="229.50" y="177.20" width="1.56" height="11.20" fill="#c1bb87"/><rect x="230.36" y="177.20" width="1.56" height="11.20" fill="#f8f8f2"/><rect x="231.21" y="177.20" width="1.56" height="11.20" fill="#b6b073"/><rect x="232.07" y="177.20" width="1.56" height="11.20" fill="#bbb67d"/><rect x="232.93" y="177.20" width="1.56" height="11.20" fill="#b6b174"/><rect x="233.79" y="177.20" width="1.56" height="11.20" fill="#bbb67d"/><rect x="234.64" y="177.20" width="1.56" height="11.20" fill="#b9b479"/><rect x="235.50" y="177.20" width="1.56" height="11.20" fill="#b7b174"/><rect x="236.36" y="177.20" width="1.56" height="11.20" fill="#ebe9d8"/><rect x="237.21" y="177.20" width="1.56" height="11.20" fill="#b9b378"/><rect x="238.07" y="177.20" width="1.56" height="11.20" fill="#bbb57c"/><rect x="238.93" y="177.20" width="1.56" height="11.20" fill="#f9f8f3"/><rect x="239.79" y="177.20" width="1.56" height="11.20" fill="#c0bb86"/><rect x="240.64" y="177.20" width="1.56" height="11.20" fill="#f5f4ec"/><rect x="241.50" y="177.20" width="1.56" height="11.20" fill="#c1bc88"/><rect x="242.36" y="177.20" width="1.56" height="11.20" fill="#e7e5d0"/><rect x="243.21" y="177.20" width="1.56" height="11.20" fill="#f5f4ec"/><rect x="244.07" y="177.20" width="1.56" height="11.20" fill="#b7b174"/><rect x="244.93" y="177.20" width="1.56" height="11.20" fill="#b6b072"/><rect x="245.79" y="177.20" width="1.56" height="11.20" fill="#e6e3ce"/><rect x="246.64" y="177.20" width="1.56" height="11.20" fill="#b0aa68"/><rect x="247.50" y="177.20" width="1.56" height="11.20" fill="#f9f8f3"/><rect x="248.36" y="177.20" width="1.56" height="11.20" fill="#c0bb87"/><rect x="249.21" y="177.20" width="1.56" height="11.20" fill="#e8e7d4"/><rect x="250.07" y="177.20" width="1.56" height="11.20" fill="#c1bb87"/><rect x="250.93" y="177.20" width="1.56" height="11.20" fill="#f6f6ef"/><rect x="251.79" y="177.20" width="1.56" height="11.20" fill="#b7b275"/><rect x="252.64" y="177.20" width="1.56" height="11.20" fill="#b2ac6b"/><rect x="253.50" y="177.20" width="1.56" height="11.20" fill="#e5e3ce"/><rect x="254.36" y="177.20" width="1.56" height="11.20" fill="#cfcba2"/><rect x="255.21" y="177.20" width="1.56" height="11.20" fill="#b9b378"/><rect x="256.07" y="177.20" width="1.56" height="11.20" fill="#c3be8c"/><rect x="256.93" y="177.20" width="1.56" height="11.20" fill="#f6f5ed"/><rect x="257.79" y="177.20" width="1.56" height="11.20" fill="#e9e8d6"/><rect x="258.64" y="177.20" width="1.56" height="11.20" fill="#b8b276"/><rect x="259.50" y="177.20" width="1.56" height="11.20" fill="#c0bb87"/><rect x="260.36" y="177.20" width="1.56" height="11.20" fill="#c2bd89"/><rect x="261.21" y="177.20" width="1.56" height="11.20" fill="#c0bb87"/><rect x="262.07" y="177.20" width="1.56" height="11.20" fill="#ebead9"/><rect x="262.93" y="177.20" width="1.56" height="11.20" fill="#c1bc88"/><rect x="263.79" y="177.20" width="2.41" height="11.20" fill="#c3be8c"/><rect x="265.50" y="177.20" width="1.56" height="11.20" fill="#eae8d7"/><rect x="266.36" y="177.20" width="1.56" height="11.20" fill="#b0aa67"/><rect x="267.21" y="177.20" width="1.56" height="11.20" fill="#b6b073"/><rect x="268.07" y="177.20" width="1.56" height="11.20" fill="#eae9d7"/><rect x="268.93" y="177.20" width="1.56" height="11.20" fill="#d1cda7"/><rect x="269.79" y="177.20" width="1.56" height="11.20" fill="#c0ba85"/><rect x="270.64" y="177.20" width="1.56" height="11.20" fill="#b0aa67"/><rect x="271.50" y="177.20" width="1.56" height="11.20" fill="#eae9d7"/><rect x="272.36" y="177.20" width="1.56" height="11.20" fill="#b4ae6f"/><rect x="273.21" y="177.20" width="1.56" height="11.20" fill="#bab47a"/><rect x="274.07" y="177.20" width="1.56" height="11.20" fill="#b3ad6e"/><rect x="274.93" y="177.20" width="1.56" height="11.20" fill="#beb882"/><rect x="275.79" y="177.20" width="1.56" height="11.20" fill="#beb983"/><rect x="276.64" y="177.20" width="1.56" height="11.20" fill="#b0aa68"/><rect x="277.50" y="177.20" width="1.56" height="11.20" fill="#b4ae6f"/><rect x="278.36" y="177.20" width="1.56" height="11.20" fill="#eae8d7"/><rect x="279.21" y="177.20" width="1.56" height="11.20" fill="#bab47a"/><rect x="280.07" y="177.20" width="1.56" height="11.20" fill="#b4ae70"/><rect x="280.93" y="177.20" width="1.56" height="11.20" fill="#d7d4b3"/><rect x="281.79" y="177.20" width="1.56" height="11.20" fill="#c2bd8a"/><rect x="282.64" y="177.20" width="1.56" height="11.20" fill="#c3be8c"/><rect x="283.50" y="177.20" width="1.56" height="11.20" fill="#b5af71"/><rect x="284.36" y="177.20" width="1.56" height="11.20" fill="#cecaa1"/><rect x="285.21" y="177.20" width="1.56" height="11.20" fill="#bbb57c"/><rect x="286.07" y="177.20" width="1.56" height="11.20" fill="#beb982"/><rect x="286.93" y="177.20" width="1.56" height="11.20" fill="#d7d4b2"/><rect x="287.79" y="177.20" width="1.56" height="11.20" fill="#c2bd8a"/><rect x="288.64" y="177.20" width="1.56" height="11.20" fill="#b3ac6c"/><rect x="289.50" y="177.20" width="1.56" height="11.20" fill="#eeecde"/><rect x="290.36" y="177.20" width="1.56" height="11.20" fill="#efeee1"/><rect x="291.21" y="177.20" width="1.56" height="11.20" fill="#c1bb87"/><rect x="292.07" y="177.20" width="1.56" height="11.20" fill="#c8c395"/><rect x="292.93" y="177.20" width="1.56" height="11.20" fill="#c0bb87"/><rect x="293.79" y="177.20" width="1.56" height="11.20" fill="#eae8d7"/><rect x="294.64" y="177.20" width="1.56" height="11.20" fill="#afa966"/><rect x="295.50" y="177.20" width="1.56" height="11.20" fill="#c2bd89"/><rect x="296.36" y="177.20" width="1.56" height="11.20" fill="#c2bd8a"/><rect x="297.21" y="177.20" width="1.56" height="11.20" fill="#e7e5d1"/><rect x="298.07" y="177.20" width="1.56" height="11.20" fill="#d1cda6"/><rect x="298.93" y="177.20" width="1.56" height="11.20" fill="#bcb77f"/><rect x="299.79" y="177.20" width="1.56" height="11.20" fill="#bbb57c"/><rect x="300.64" y="177.20" width="1.56" height="11.20" fill="#c0bb87"/><rect x="301.50" y="177.20" width="1.56" height="11.20" fill="#edebdc"/><rect x="302.36" y="177.20" width="1.56" height="11.20" fill="#f8f7f1"/><rect x="303.21" y="177.20" width="1.56" height="11.20" fill="#b5b072"/><rect x="304.07" y="177.20" width="1.56" height="11.20" fill="#c3be8c"/><rect x="304.93" y="177.20" width="1.56" height="11.20" fill="#b9b379"/><rect x="305.79" y="177.20" width="1.56" height="11.20" fill="#f1f0e4"/><rect x="306.64" y="177.20" width="1.56" height="11.20" fill="#bdb880"/><rect x="307.50" y="177.20" width="1.56" height="11.20" fill="#b5b072"/><rect x="308.36" y="177.20" width="1.56" height="11.20" fill="#bfba84"/><rect x="309.21" y="177.20" width="1.56" height="11.20" fill="#b6b174"/><rect x="310.07" y="177.20" width="1.56" height="11.20" fill="#b9b479"/><rect x="310.93" y="177.20" width="1.56" height="11.20" fill="#b4ae6f"/><rect x="311.79" y="177.20" width="1.56" height="11.20" fill="#cdc99f"/><rect x="312.64" y="177.20" width="1.56" height="11.20" fill="#c7c293"/><rect x="313.50" y="177.20" width="1.56" height="11.20" fill="#cdc9a0"/><rect x="314.36" y="177.20" width="1.56" height="11.20" fill="#bfba84"/><rect x="315.21" y="177.20" width="1.56" height="11.20" fill="#f5f4ec"/><rect x="316.07" y="177.20" width="1.56" height="11.20" fill="#e5e3cd"/><rect x="316.93" y="177.20" width="1.56" height="11.20" fill="#b6b073"/><rect x="317.79" y="177.20" width="1.56" height="11.20" fill="#c1bc87"/><rect x="318.64" y="177.20" width="1.56" height="11.20" fill="#beb881"/><rect x="319.50" y="177.20" width="1.56" height="11.20" fill="#beb982"/><rect x="320.36" y="177.20" width="1.56" height="11.20" fill="#b1ab69"/><rect x="321.21" y="177.20" width="1.56" height="11.20" fill="#b1ab6a"/><rect x="322.07" y="177.20" width="1.56" height="11.20" fill="#c4bf8d"/><rect x="322.93" y="177.20" width="1.56" height="11.20" fill="#f1f0e4"/><rect x="323.79" y="177.20" width="1.56" height="11.20" fill="#afa966"/><rect x="324.64" y="177.20" width="1.56" height="11.20" fill="#c3bf8d"/><rect x="325.50" y="177.20" width="1.56" height="11.20" fill="#b4ae70"/><rect x="326.36" y="177.20" width="1.56" height="11.20" fill="#bfba84"/><rect x="327.21" y="177.20" width="1.56" height="11.20" fill="#ebead9"/><rect x="328.07" y="177.20" width="1.56" height="11.20" fill="#b6b074"/><rect x="328.93" y="177.20" width="1.56" height="11.20" fill="#ccc89e"/><rect x="329.79" y="177.20" width="1.56" height="11.20" fill="#b2ab6a"/><rect x="330.64" y="177.20" width="1.56" height="11.20" fill="#b8b276"/><rect x="331.50" y="177.20" width="1.56" height="11.20" fill="#c0bb86"/><rect x="332.36" y="177.20" width="1.56" height="11.20" fill="#bbb57c"/><rect x="333.21" y="177.20" width="1.56" height="11.20" fill="#b5af71"/><rect x="334.07" y="177.20" width="1.56" height="11.20" fill="#f5f5ed"/><rect x="334.93" y="177.20" width="1.56" height="11.20" fill="#b5af71"/><rect x="335.79" y="177.20" width="1.56" height="11.20" fill="#b2ac6b"/><rect x="336.64" y="177.20" width="1.56" height="11.20" fill="#c3bf8d"/><rect x="337.50" y="177.20" width="1.56" height="11.20" fill="#efeee1"/><rect x="338.36" y="177.20" width="1.56" height="11.20" fill="#b2ab6a"/><rect x="339.21" y="177.20" width="1.56" height="11.20" fill="#f4f3e9"/><rect x="340.07" y="177.20" width="1.56" height="11.20" fill="#b2ac6c"/><rect x="340.93" y="177.20" width="1.56" height="11.20" fill="#f8f8f2"/><rect x="341.79" y="177.20" width="1.56" height="11.20" fill="#bfba85"/><rect x="342.64" y="177.20" width="1.56" height="11.20" fill="#c7c394"/><rect x="343.50" y="177.20" width="1.56" height="11.20" fill="#bdb77f"/><rect x="344.36" y="177.20" width="1.56" height="11.20" fill="#d0cca5"/><rect x="345.21" y="177.20" width="1.56" height="11.20" fill="#bab47a"/><rect x="346.07" y="177.20" width="1.56" height="11.20" fill="#b3ad6e"/><rect x="346.93" y="177.20" width="1.56" height="11.20" fill="#bdb780"/><rect x="347.79" y="177.20" width="1.56" height="11.20" fill="#d0cca5"/><rect x="348.64" y="177.20" width="0.86" height="11.20" fill="#f7f6ef"/>
<rect x="79.50" y="177.20" width="270.00" height="11.20" fill="none" stroke="#2b2b2b" stroke-width="1"/>
<text x="73.30" y="185.90" font-size="9.0" text-anchor="end" textLength="14.30" lengthAdjust="spacingAndGlyphs" fill="#231f20">age</text>
<text x="391.90" y="185.80" font-size="9.4" text-anchor="middle" textLength="13.80" lengthAdjust="spacingAndGlyphs" fill="#231f20">315</text>
<text x="438.10" y="185.80" font-size="9.4" textLength="20.80" lengthAdjust="spacingAndGlyphs" fill="#231f20">0.463</text>
<text x="151.00" y="202.40" font-size="9.0" text-anchor="end" textLength="24.30" lengthAdjust="spacingAndGlyphs" fill="#231f20">young</text>
<rect x="155.3" y="196.6" width="95.5" height="6.5" fill="url(#gAge)" stroke="#2b2b2b" stroke-width="0.9"/>
<text x="254.60" y="202.40" font-size="9.0" textLength="12.00" lengthAdjust="spacingAndGlyphs" fill="#231f20">old</text>
<rect x="79.50" y="214.00" width="1.56" height="11.50" fill="#8a3a3b"/><rect x="80.36" y="214.00" width="4.13" height="11.50" fill="#4e5c9c"/><rect x="83.79" y="214.00" width="1.56" height="11.50" fill="#8a3a3b"/><rect x="84.64" y="214.00" width="1.56" height="11.50" fill="#4e5c9c"/><rect x="85.50" y="214.00" width="2.41" height="11.50" fill="#8a3a3b"/><rect x="87.21" y="214.00" width="4.13" height="11.50" fill="#4e5c9c"/><rect x="90.64" y="214.00" width="2.41" height="11.50" fill="#8a3a3b"/><rect x="92.36" y="214.00" width="4.99" height="11.50" fill="#4e5c9c"/><rect x="96.64" y="214.00" width="2.41" height="11.50" fill="#8a3a3b"/><rect x="98.36" y="214.00" width="1.56" height="11.50" fill="#4e5c9c"/><rect x="99.21" y="214.00" width="1.56" height="11.50" fill="#8a3a3b"/><rect x="100.07" y="214.00" width="1.56" height="11.50" fill="#4e5c9c"/><rect x="100.93" y="214.00" width="1.56" height="11.50" fill="#8a3a3b"/><rect x="101.79" y="214.00" width="3.27" height="11.50" fill="#4e5c9c"/><rect x="104.36" y="214.00" width="1.56" height="11.50" fill="#8a3a3b"/><rect x="105.21" y="214.00" width="3.27" height="11.50" fill="#4e5c9c"/><rect x="107.79" y="214.00" width="1.56" height="11.50" fill="#8a3a3b"/><rect x="108.64" y="214.00" width="4.13" height="11.50" fill="#4e5c9c"/><rect x="112.07" y="214.00" width="1.56" height="11.50" fill="#8a3a3b"/><rect x="112.93" y="214.00" width="1.56" height="11.50" fill="#4e5c9c"/><rect x="113.79" y="214.00" width="1.56" height="11.50" fill="#8a3a3b"/><rect x="114.64" y="214.00" width="4.13" height="11.50" fill="#4e5c9c"/><rect x="118.07" y="214.00" width="1.56" height="11.50" fill="#8a3a3b"/><rect x="118.93" y="214.00" width="2.41" height="11.50" fill="#4e5c9c"/><rect x="120.64" y="214.00" width="1.56" height="11.50" fill="#8a3a3b"/><rect x="121.50" y="214.00" width="1.56" height="11.50" fill="#4e5c9c"/><rect x="122.36" y="214.00" width="1.56" height="11.50" fill="#8a3a3b"/><rect x="123.21" y="214.00" width="2.41" height="11.50" fill="#4e5c9c"/><rect x="124.93" y="214.00" width="1.56" height="11.50" fill="#8a3a3b"/><rect x="125.79" y="214.00" width="1.56" height="11.50" fill="#4e5c9c"/><rect x="126.64" y="214.00" width="2.41" height="11.50" fill="#8a3a3b"/><rect x="128.36" y="214.00" width="1.56" height="11.50" fill="#4e5c9c"/><rect x="129.21" y="214.00" width="1.56" height="11.50" fill="#8a3a3b"/><rect x="130.07" y="214.00" width="1.56" height="11.50" fill="#4e5c9c"/><rect x="130.93" y="214.00" width="1.56" height="11.50" fill="#8a3a3b"/><rect x="131.79" y="214.00" width="2.41" height="11.50" fill="#4e5c9c"/><rect x="133.50" y="214.00" width="1.56" height="11.50" fill="#8a3a3b"/><rect x="134.36" y="214.00" width="2.41" height="11.50" fill="#4e5c9c"/><rect x="136.07" y="214.00" width="3.27" height="11.50" fill="#8a3a3b"/><rect x="138.64" y="214.00" width="3.27" height="11.50" fill="#4e5c9c"/><rect x="141.21" y="214.00" width="1.56" height="11.50" fill="#8a3a3b"/><rect x="142.07" y="214.00" width="2.41" height="11.50" fill="#4e5c9c"/><rect x="143.79" y="214.00" width="1.56" height="11.50" fill="#8a3a3b"/><rect x="144.64" y="214.00" width="4.99" height="11.50" fill="#4e5c9c"/><rect x="148.93" y="214.00" width="1.56" height="11.50" fill="#8a3a3b"/><rect x="149.79" y="214.00" width="3.27" height="11.50" fill="#4e5c9c"/><rect x="152.36" y="214.00" width="1.56" height="11.50" fill="#8a3a3b"/><rect x="153.21" y="214.00" width="1.56" height="11.50" fill="#4e5c9c"/><rect x="154.07" y="214.00" width="2.41" height="11.50" fill="#8a3a3b"/><rect x="155.79" y="214.00" width="2.41" height="11.50" fill="#4e5c9c"/><rect x="157.50" y="214.00" width="2.41" height="11.50" fill="#8a3a3b"/><rect x="159.21" y="214.00" width="2.41" height="11.50" fill="#4e5c9c"/><rect x="160.93" y="214.00" width="1.56" height="11.50" fill="#8a3a3b"/><rect x="161.79" y="214.00" width="1.56" height="11.50" fill="#4e5c9c"/><rect x="162.64" y="214.00" width="1.56" height="11.50" fill="#8a3a3b"/><rect x="163.50" y="214.00" width="2.41" height="11.50" fill="#4e5c9c"/><rect x="165.21" y="214.00" width="2.41" height="11.50" fill="#8a3a3b"/><rect x="166.93" y="214.00" width="2.41" height="11.50" fill="#4e5c9c"/><rect x="168.64" y="214.00" width="2.41" height="11.50" fill="#8a3a3b"/><rect x="170.36" y="214.00" width="1.56" height="11.50" fill="#4e5c9c"/><rect x="171.21" y="214.00" width="2.41" height="11.50" fill="#8a3a3b"/><rect x="172.93" y="214.00" width="1.56" height="11.50" fill="#4e5c9c"/><rect x="173.79" y="214.00" width="1.56" height="11.50" fill="#8a3a3b"/><rect x="174.64" y="214.00" width="2.41" height="11.50" fill="#4e5c9c"/><rect x="176.36" y="214.00" width="1.56" height="11.50" fill="#8a3a3b"/><rect x="177.21" y="214.00" width="2.41" height="11.50" fill="#4e5c9c"/><rect x="178.93" y="214.00" width="2.41" height="11.50" fill="#8a3a3b"/><rect x="180.64" y="214.00" width="3.27" height="11.50" fill="#4e5c9c"/><rect x="183.21" y="214.00" width="1.56" height="11.50" fill="#8a3a3b"/><rect x="184.07" y="214.00" width="2.41" height="11.50" fill="#4e5c9c"/><rect x="185.79" y="214.00" width="2.41" height="11.50" fill="#8a3a3b"/><rect x="187.50" y="214.00" width="1.56" height="11.50" fill="#4e5c9c"/><rect x="188.36" y="214.00" width="11.84" height="11.50" fill="#8a3a3b"/><rect x="199.50" y="214.00" width="1.56" height="11.50" fill="#4e5c9c"/><rect x="200.36" y="214.00" width="1.56" height="11.50" fill="#8a3a3b"/><rect x="201.21" y="214.00" width="3.27" height="11.50" fill="#4e5c9c"/><rect x="203.79" y="214.00" width="1.56" height="11.50" fill="#8a3a3b"/><rect x="204.64" y="214.00" width="1.56" height="11.50" fill="#4e5c9c"/><rect x="205.50" y="214.00" width="3.27" height="11.50" fill="#8a3a3b"/><rect x="208.07" y="214.00" width="1.56" height="11.50" fill="#4e5c9c"/><rect x="208.93" y="214.00" width="1.56" height="11.50" fill="#8a3a3b"/><rect x="209.79" y="214.00" width="3.27" height="11.50" fill="#4e5c9c"/><rect x="212.36" y="214.00" width="2.41" height="11.50" fill="#8a3a3b"/><rect x="214.07" y="214.00" width="1.56" height="11.50" fill="#4e5c9c"/><rect x="214.93" y="214.00" width="2.41" height="11.50" fill="#8a3a3b"/><rect x="216.64" y="214.00" width="1.56" height="11.50" fill="#4e5c9c"/><rect x="217.50" y="214.00" width="1.56" height="11.50" fill="#8a3a3b"/><rect x="218.36" y="214.00" width="1.56" height="11.50" fill="#4e5c9c"/><rect x="219.21" y="214.00" width="1.56" height="11.50" fill="#8a3a3b"/><rect x="220.07" y="214.00" width="1.56" height="11.50" fill="#4e5c9c"/><rect x="220.93" y="214.00" width="1.56" height="11.50" fill="#8a3a3b"/><rect x="221.79" y="214.00" width="1.56" height="11.50" fill="#4e5c9c"/><rect x="222.64" y="214.00" width="1.56" height="11.50" fill="#8a3a3b"/><rect x="223.50" y="214.00" width="1.56" height="11.50" fill="#4e5c9c"/><rect x="224.36" y="214.00" width="3.27" height="11.50" fill="#8a3a3b"/><rect x="226.93" y="214.00" width="1.56" height="11.50" fill="#4e5c9c"/><rect x="227.79" y="214.00" width="1.56" height="11.50" fill="#8a3a3b"/><rect x="228.64" y="214.00" width="1.56" height="11.50" fill="#4e5c9c"/><rect x="229.50" y="214.00" width="1.56" height="11.50" fill="#8a3a3b"/><rect x="230.36" y="214.00" width="2.41" height="11.50" fill="#4e5c9c"/><rect x="232.07" y="214.00" width="2.41" height="11.50" fill="#8a3a3b"/><rect x="233.79" y="214.00" width="3.27" height="11.50" fill="#4e5c9c"/><rect x="236.36" y="214.00" width="2.41" height="11.50" fill="#8a3a3b"/><rect x="238.07" y="214.00" width="2.41" height="11.50" fill="#4e5c9c"/><rect x="239.79" y="214.00" width="1.56" height="11.50" fill="#8a3a3b"/><rect x="240.64" y="214.00" width="2.41" height="11.50" fill="#4e5c9c"/><rect x="242.36" y="214.00" width="2.41" height="11.50" fill="#8a3a3b"/><rect x="244.07" y="214.00" width="1.56" height="11.50" fill="#4e5c9c"/><rect x="244.93" y="214.00" width="1.56" height="11.50" fill="#8a3a3b"/><rect x="245.79" y="214.00" width="1.56" height="11.50" fill="#4e5c9c"/><rect x="246.64" y="214.00" width="2.41" height="11.50" fill="#8a3a3b"/><rect x="248.36" y="214.00" width="2.41" height="11.50" fill="#4e5c9c"/><rect x="250.07" y="214.00" width="3.27" height="11.50" fill="#8a3a3b"/><rect x="252.64" y="214.00" width="3.27" height="11.50" fill="#4e5c9c"/><rect x="255.21" y="214.00" width="1.56" height="11.50" fill="#8a3a3b"/><rect x="256.07" y="214.00" width="3.27" height="11.50" fill="#4e5c9c"/><rect x="258.64" y="214.00" width="1.56" height="11.50" fill="#8a3a3b"/><rect x="259.50" y="214.00" width="1.56" height="11.50" fill="#4e5c9c"/><rect x="260.36" y="214.00" width="2.41" height="11.50" fill="#8a3a3b"/><rect x="262.07" y="214.00" width="4.13" height="11.50" fill="#4e5c9c"/><rect x="265.50" y="214.00" width="1.56" height="11.50" fill="#8a3a3b"/><rect x="266.36" y="214.00" width="2.41" height="11.50" fill="#4e5c9c"/><rect x="268.07" y="214.00" width="1.56" height="11.50" fill="#8a3a3b"/><rect x="268.93" y="214.00" width="3.27" height="11.50" fill="#4e5c9c"/><rect x="271.50" y="214.00" width="2.41" height="11.50" fill="#8a3a3b"/><rect x="273.21" y="214.00" width="3.27" height="11.50" fill="#4e5c9c"/><rect x="275.79" y="214.00" width="2.41" height="11.50" fill="#8a3a3b"/><rect x="277.50" y="214.00" width="1.56" height="11.50" fill="#4e5c9c"/><rect x="278.36" y="214.00" width="1.56" height="11.50" fill="#8a3a3b"/><rect x="279.21" y="214.00" width="1.56" height="11.50" fill="#4e5c9c"/><rect x="280.07" y="214.00" width="1.56" height="11.50" fill="#8a3a3b"/><rect x="280.93" y="214.00" width="2.41" height="11.50" fill="#4e5c9c"/><rect x="282.64" y="214.00" width="1.56" height="11.50" fill="#8a3a3b"/><rect x="283.50" y="214.00" width="2.41" height="11.50" fill="#4e5c9c"/><rect x="285.21" y="214.00" width="1.56" height="11.50" fill="#8a3a3b"/><rect x="286.07" y="214.00" width="1.56" height="11.50" fill="#4e5c9c"/><rect x="286.93" y="214.00" width="1.56" height="11.50" fill="#8a3a3b"/><rect x="287.79" y="214.00" width="1.56" height="11.50" fill="#4e5c9c"/><rect x="288.64" y="214.00" width="1.56" height="11.50" fill="#8a3a3b"/><rect x="289.50" y="214.00" width="3.27" height="11.50" fill="#4e5c9c"/><rect x="292.07" y="214.00" width="3.27" height="11.50" fill="#8a3a3b"/><rect x="294.64" y="214.00" width="3.27" height="11.50" fill="#4e5c9c"/><rect x="297.21" y="214.00" width="2.41" height="11.50" fill="#8a3a3b"/><rect x="298.93" y="214.00" width="4.13" height="11.50" fill="#4e5c9c"/><rect x="302.36" y="214.00" width="1.56" height="11.50" fill="#8a3a3b"/><rect x="303.21" y="214.00" width="2.41" height="11.50" fill="#4e5c9c"/><rect x="304.93" y="214.00" width="2.41" height="11.50" fill="#8a3a3b"/><rect x="306.64" y="214.00" width="1.56" height="11.50" fill="#4e5c9c"/><rect x="307.50" y="214.00" width="1.56" height="11.50" fill="#8a3a3b"/><rect x="308.36" y="214.00" width="1.56" height="11.50" fill="#4e5c9c"/><rect x="309.21" y="214.00" width="1.56" height="11.50" fill="#8a3a3b"/><rect x="310.07" y="214.00" width="1.56" height="11.50" fill="#4e5c9c"/><rect x="310.93" y="214.00" width="1.56" height="11.50" fill="#8a3a3b"/><rect x="311.79" y="214.00" width="1.56" height="11.50" fill="#4e5c9c"/><rect x="312.64" y="214.00" width="2.41" height="11.50" fill="#8a3a3b"/><rect x="314.36" y="214.00" width="1.56" height="11.50" fill="#4e5c9c"/><rect x="315.21" y="214.00" width="2.41" height="11.50" fill="#8a3a3b"/><rect x="316.93" y="214.00" width="5.84" height="11.50" fill="#4e5c9c"/><rect x="322.07" y="214.00" width="2.41" height="11.50" fill="#8a3a3b"/><rect x="323.79" y="214.00" width="3.27" height="11.50" fill="#4e5c9c"/><rect x="326.36" y="214.00" width="1.56" height="11.50" fill="#8a3a3b"/><rect x="327.21" y="214.00" width="1.56" height="11.50" fill="#4e5c9c"/><rect x="328.07" y="214.00" width="1.56" height="11.50" fill="#8a3a3b"/><rect x="328.93" y="214.00" width="1.56" height="11.50" fill="#4e5c9c"/><rect x="329.79" y="214.00" width="1.56" height="11.50" fill="#8a3a3b"/><rect x="330.64" y="214.00" width="2.41" height="11.50" fill="#4e5c9c"/><rect x="332.36" y="214.00" width="3.27" height="11.50" fill="#8a3a3b"/><rect x="334.93" y="214.00" width="3.27" height="11.50" fill="#4e5c9c"/><rect x="337.50" y="214.00" width="2.41" height="11.50" fill="#8a3a3b"/><rect x="339.21" y="214.00" width="2.41" height="11.50" fill="#4e5c9c"/><rect x="340.93" y="214.00" width="1.56" height="11.50" fill="#8a3a3b"/><rect x="341.79" y="214.00" width="4.13" height="11.50" fill="#4e5c9c"/><rect x="345.21" y="214.00" width="1.56" height="11.50" fill="#8a3a3b"/><rect x="346.07" y="214.00" width="2.41" height="11.50" fill="#4e5c9c"/><rect x="347.79" y="214.00" width="1.56" height="11.50" fill="#8a3a3b"/><rect x="348.64" y="214.00" width="0.86" height="11.50" fill="#4e5c9c"/>
<rect x="79.50" y="214.00" width="270.00" height="11.50" fill="none" stroke="#2b2b2b" stroke-width="1"/>
<text x="73.30" y="223.00" font-size="9.0" text-anchor="end" textLength="27.90" lengthAdjust="spacingAndGlyphs" fill="#231f20">gender</text>
<text x="391.90" y="222.70" font-size="9.4" text-anchor="middle" textLength="13.80" lengthAdjust="spacingAndGlyphs" fill="#231f20">315</text>
<text x="438.10" y="222.70" font-size="9.4" textLength="20.80" lengthAdjust="spacingAndGlyphs" fill="#231f20">0.463</text>
<rect x="165.80" y="230.90" width="9.30" height="9.50" fill="#4e5c9c" stroke="#2b2b2b" stroke-width="0.9"/>
<text x="178.80" y="238.60" font-size="9.0" textLength="19.00" lengthAdjust="spacingAndGlyphs" fill="#231f20">male</text>
<rect x="214.50" y="230.90" width="9.10" height="9.50" fill="#8a3a3b" stroke="#2b2b2b" stroke-width="0.9"/>
<text x="226.60" y="238.60" font-size="9.0" textLength="26.60" lengthAdjust="spacingAndGlyphs" fill="#231f20">female</text>
<rect x="79.50" y="249.50" width="1.56" height="11.10" fill="#7cb393"/><rect x="80.36" y="249.50" width="1.56" height="11.10" fill="#9bc3ac"/><rect x="81.21" y="249.50" width="1.56" height="11.10" fill="#d2cece"/><rect x="82.07" y="249.50" width="1.56" height="11.10" fill="#a3c8b2"/><rect x="82.93" y="249.50" width="1.56" height="11.10" fill="#cddfd4"/><rect x="83.79" y="249.50" width="1.56" height="11.10" fill="#90bda3"/><rect x="84.64" y="249.50" width="1.56" height="11.10" fill="#d2cece"/><rect x="85.50" y="249.50" width="1.56" height="11.10" fill="#a1c7b0"/><rect x="86.36" y="249.50" width="1.56" height="11.10" fill="#6fac88"/><rect x="87.21" y="249.50" width="1.56" height="11.10" fill="#8bbb9f"/><rect x="88.07" y="249.50" width="1.56" height="11.10" fill="#86b89b"/><rect x="88.93" y="249.50" width="1.56" height="11.10" fill="#c9c5c5"/><rect x="89.79" y="249.50" width="1.56" height="11.10" fill="#bdbaba"/><rect x="90.64" y="249.50" width="1.56" height="11.10" fill="#d4e2da"/><rect x="91.50" y="249.50" width="1.56" height="11.10" fill="#ccded3"/><rect x="92.36" y="249.50" width="1.56" height="11.10" fill="#a0c6b0"/><rect x="93.21" y="249.50" width="1.56" height="11.10" fill="#8dbca1"/><rect x="94.07" y="249.50" width="1.56" height="11.10" fill="#96c1a8"/><rect x="94.93" y="249.50" width="1.56" height="11.10" fill="#accdb9"/><rect x="95.79" y="249.50" width="1.56" height="11.10" fill="#eaefec"/><rect x="96.64" y="249.50" width="1.56" height="11.10" fill="#d3e2d9"/><rect x="97.50" y="249.50" width="1.56" height="11.10" fill="#c9c5c5"/><rect x="98.36" y="249.50" width="1.56" height="11.10" fill="#72ad8a"/><rect x="99.21" y="249.50" width="1.56" height="11.10" fill="#88b99c"/><rect x="100.07" y="249.50" width="1.56" height="11.10" fill="#ccded3"/><rect x="100.93" y="249.50" width="1.56" height="11.10" fill="#6caa85"/><rect x="101.79" y="249.50" width="1.56" height="11.10" fill="#75af8d"/><rect x="102.64" y="249.50" width="1.56" height="11.10" fill="#9fc6af"/><rect x="103.50" y="249.50" width="1.56" height="11.10" fill="#c9c5c5"/><rect x="104.36" y="249.50" width="1.56" height="11.10" fill="#96c1a8"/><rect x="105.21" y="249.50" width="1.56" height="11.10" fill="#c9c5c5"/><rect x="106.07" y="249.50" width="1.56" height="11.10" fill="#71ad8a"/><rect x="106.93" y="249.50" width="1.56" height="11.10" fill="#6caa85"/><rect x="107.79" y="249.50" width="1.56" height="11.10" fill="#adcdbb"/><rect x="108.64" y="249.50" width="1.56" height="11.10" fill="#94c0a6"/><rect x="109.50" y="249.50" width="1.56" height="11.10" fill="#c9c5c5"/><rect x="110.36" y="249.50" width="1.56" height="11.10" fill="#d4e3da"/><rect x="111.21" y="249.50" width="1.56" height="11.10" fill="#6ba985"/><rect x="112.07" y="249.50" width="1.56" height="11.10" fill="#95c0a7"/><rect x="112.93" y="249.50" width="1.56" height="11.10" fill="#a6cab5"/><rect x="113.79" y="249.50" width="1.56" height="11.10" fill="#68a883"/><rect x="114.64" y="249.50" width="1.56" height="11.10" fill="#eaefec"/><rect x="115.50" y="249.50" width="1.56" height="11.10" fill="#dde8e2"/><rect x="116.36" y="249.50" width="1.56" height="11.10" fill="#6fab88"/><rect x="117.21" y="249.50" width="1.56" height="11.10" fill="#afcebc"/><rect x="118.07" y="249.50" width="1.56" height="11.10" fill="#7db394"/><rect x="118.93" y="249.50" width="1.56" height="11.10" fill="#69a883"/><rect x="119.79" y="249.50" width="1.56" height="11.10" fill="#c9c5c5"/><rect x="120.64" y="249.50" width="1.56" height="11.10" fill="#ecefed"/><rect x="121.50" y="249.50" width="1.56" height="11.10" fill="#bdbaba"/><rect x="122.36" y="249.50" width="1.56" height="11.10" fill="#d3e2d9"/><rect x="123.21" y="249.50" width="1.56" height="11.10" fill="#aaccb8"/><rect x="124.07" y="249.50" width="1.56" height="11.10" fill="#e1eae5"/><rect x="124.93" y="249.50" width="1.56" height="11.10" fill="#d2cece"/><rect x="125.79" y="249.50" width="1.56" height="11.10" fill="#dae6df"/><rect x="126.64" y="249.50" width="1.56" height="11.10" fill="#6eab87"/><rect x="127.50" y="249.50" width="1.56" height="11.10" fill="#8fbda2"/><rect x="128.36" y="249.50" width="1.56" height="11.10" fill="#77b08e"/><rect x="129.21" y="249.50" width="1.56" height="11.10" fill="#c9c5c5"/><rect x="130.07" y="249.50" width="1.56" height="11.10" fill="#bdbaba"/><rect x="130.93" y="249.50" width="1.56" height="11.10" fill="#70ac89"/><rect x="131.79" y="249.50" width="1.56" height="11.10" fill="#d2cece"/><rect x="132.64" y="249.50" width="1.56" height="11.10" fill="#6daa87"/><rect x="133.50" y="249.50" width="1.56" height="11.10" fill="#b0cfbd"/><rect x="134.36" y="249.50" width="1.56" height="11.10" fill="#d2cece"/><rect x="135.21" y="249.50" width="1.56" height="11.10" fill="#e2eae5"/><rect x="136.07" y="249.50" width="1.56" height="11.10" fill="#d2cece"/><rect x="136.93" y="249.50" width="1.56" height="11.10" fill="#c9c5c5"/><rect x="137.79" y="249.50" width="1.56" height="11.10" fill="#a5c9b4"/><rect x="138.64" y="249.50" width="1.56" height="11.10" fill="#70ac89"/><rect x="139.50" y="249.50" width="1.56" height="11.10" fill="#a7cab5"/><rect x="140.36" y="249.50" width="1.56" height="11.10" fill="#a0c6b0"/><rect x="141.21" y="249.50" width="1.56" height="11.10" fill="#bdbaba"/><rect x="142.07" y="249.50" width="1.56" height="11.10" fill="#99c2aa"/><rect x="142.93" y="249.50" width="2.41" height="11.10" fill="#d2cece"/><rect x="144.64" y="249.50" width="1.56" height="11.10" fill="#aacbb8"/><rect x="145.50" y="249.50" width="1.56" height="11.10" fill="#aecebb"/><rect x="146.36" y="249.50" width="1.56" height="11.10" fill="#80b596"/><rect x="147.21" y="249.50" width="1.56" height="11.10" fill="#d8e5dd"/><rect x="148.07" y="249.50" width="1.56" height="11.10" fill="#e1eae5"/><rect x="148.93" y="249.50" width="1.56" height="11.10" fill="#dde7e1"/><rect x="149.79" y="249.50" width="1.56" height="11.10" fill="#68a882"/><rect x="150.64" y="249.50" width="1.56" height="11.10" fill="#abccb9"/><rect x="151.50" y="249.50" width="1.56" height="11.10" fill="#c7dbcf"/><rect x="152.36" y="249.50" width="1.56" height="11.10" fill="#bdbaba"/><rect x="153.21" y="249.50" width="1.56" height="11.10" fill="#a7cab6"/><rect x="154.07" y="249.50" width="1.56" height="11.10" fill="#91bea4"/><rect x="154.93" y="249.50" width="1.56" height="11.10" fill="#8cbba0"/><rect x="155.79" y="249.50" width="1.56" height="11.10" fill="#77b08f"/><rect x="156.64" y="249.50" width="1.56" height="11.10" fill="#9dc4ad"/><rect x="157.50" y="249.50" width="1.56" height="11.10" fill="#eaefec"/><rect x="158.36" y="249.50" width="1.56" height="11.10" fill="#9dc5ae"/><rect x="159.21" y="249.50" width="1.56" height="11.10" fill="#c9c5c5"/><rect x="160.07" y="249.50" width="1.56" height="11.10" fill="#a1c7b1"/><rect x="160.93" y="249.50" width="1.56" height="11.10" fill="#bdbaba"/><rect x="161.79" y="249.50" width="1.56" height="11.10" fill="#c9c5c5"/><rect x="162.64" y="249.50" width="1.56" height="11.10" fill="#7cb292"/><rect x="163.50" y="249.50" width="1.56" height="11.10" fill="#a5c9b4"/><rect x="164.36" y="249.50" width="1.56" height="11.10" fill="#bdbaba"/><rect x="165.21" y="249.50" width="1.56" height="11.10" fill="#76af8d"/><rect x="166.07" y="249.50" width="1.56" height="11.10" fill="#a3c8b2"/><rect x="166.93" y="249.50" width="1.56" height="11.10" fill="#bdbaba"/><rect x="167.79" y="249.50" width="1.56" height="11.10" fill="#74ae8c"/><rect x="168.64" y="249.50" width="1.56" height="11.10" fill="#8cbb9f"/><rect x="169.50" y="249.50" width="1.56" height="11.10" fill="#e0e9e4"/><rect x="170.36" y="249.50" width="1.56" height="11.10" fill="#6caa85"/><rect x="171.21" y="249.50" width="1.56" height="11.10" fill="#d2cece"/><rect x="172.07" y="249.50" width="1.56" height="11.10" fill="#8fbda2"/><rect x="172.93" y="249.50" width="1.56" height="11.10" fill="#9ec5ae"/><rect x="173.79" y="249.50" width="1.56" height="11.10" fill="#d2cece"/><rect x="174.64" y="249.50" width="1.56" height="11.10" fill="#bdbaba"/><rect x="175.50" y="249.50" width="1.56" height="11.10" fill="#d3e2d9"/><rect x="176.36" y="249.50" width="1.56" height="11.10" fill="#bdbaba"/><rect x="177.21" y="249.50" width="1.56" height="11.10" fill="#6aa984"/><rect x="178.07" y="249.50" width="1.56" height="11.10" fill="#d2cece"/><rect x="178.93" y="249.50" width="1.56" height="11.10" fill="#75af8d"/><rect x="179.79" y="249.50" width="1.56" height="11.10" fill="#9ac3ab"/><rect x="180.64" y="249.50" width="1.56" height="11.10" fill="#96c1a7"/><rect x="181.50" y="249.50" width="1.56" height="11.10" fill="#adcebb"/><rect x="182.36" y="249.50" width="1.56" height="11.10" fill="#6ba985"/><rect x="183.21" y="249.50" width="1.56" height="11.10" fill="#8cbb9f"/><rect x="184.07" y="249.50" width="1.56" height="11.10" fill="#8aba9e"/><rect x="184.93" y="249.50" width="1.56" height="11.10" fill="#c9c5c5"/><rect x="185.79" y="249.50" width="1.56" height="11.10" fill="#e4ebe7"/><rect x="186.64" y="249.50" width="1.56" height="11.10" fill="#d2cece"/><rect x="187.50" y="249.50" width="1.56" height="11.10" fill="#6ba985"/><rect x="188.36" y="249.50" width="1.56" height="11.10" fill="#bdbaba"/><rect x="189.21" y="249.50" width="1.56" height="11.10" fill="#9fc5af"/><rect x="190.07" y="249.50" width="1.56" height="11.10" fill="#83b698"/><rect x="190.93" y="249.50" width="1.56" height="11.10" fill="#a0c6b0"/><rect x="191.79" y="249.50" width="1.56" height="11.10" fill="#98c2a9"/><rect x="192.64" y="249.50" width="2.41" height="11.10" fill="#c9c5c5"/><rect x="194.36" y="249.50" width="1.56" height="11.10" fill="#86b89b"/><rect x="195.21" y="249.50" width="1.56" height="11.10" fill="#aaccb8"/><rect x="196.07" y="249.50" width="1.56" height="11.10" fill="#c9c5c5"/><rect x="196.93" y="249.50" width="1.56" height="11.10" fill="#a1c7b1"/><rect x="197.79" y="249.50" width="1.56" height="11.10" fill="#d0e0d7"/><rect x="198.64" y="249.50" width="1.56" height="11.10" fill="#95c0a6"/><rect x="199.50" y="249.50" width="1.56" height="11.10" fill="#b1cfbd"/><rect x="200.36" y="249.50" width="1.56" height="11.10" fill="#7eb495"/><rect x="201.21" y="249.50" width="1.56" height="11.10" fill="#85b89a"/><rect x="202.07" y="249.50" width="1.56" height="11.10" fill="#c9c5c5"/><rect x="202.93" y="249.50" width="1.56" height="11.10" fill="#99c2aa"/><rect x="203.79" y="249.50" width="1.56" height="11.10" fill="#dee8e2"/><rect x="204.64" y="249.50" width="1.56" height="11.10" fill="#69a883"/><rect x="205.50" y="249.50" width="1.56" height="11.10" fill="#6eab87"/><rect x="206.36" y="249.50" width="1.56" height="11.10" fill="#73ae8b"/><rect x="207.21" y="249.50" width="2.41" height="11.10" fill="#bdbaba"/><rect x="208.93" y="249.50" width="1.56" height="11.10" fill="#9fc6af"/><rect x="209.79" y="249.50" width="1.56" height="11.10" fill="#83b698"/><rect x="210.64" y="249.50" width="1.56" height="11.10" fill="#d6e4dc"/><rect x="211.50" y="249.50" width="1.56" height="11.10" fill="#d2cece"/><rect x="212.36" y="249.50" width="1.56" height="11.10" fill="#d0e0d7"/><rect x="213.21" y="249.50" width="1.56" height="11.10" fill="#dae6df"/><rect x="214.07" y="249.50" width="1.56" height="11.10" fill="#68a882"/><rect x="214.93" y="249.50" width="1.56" height="11.10" fill="#afcebc"/><rect x="215.79" y="249.50" width="1.56" height="11.10" fill="#6aa984"/><rect x="216.64" y="249.50" width="1.56" height="11.10" fill="#bdbaba"/><rect x="217.50" y="249.50" width="1.56" height="11.10" fill="#6eab87"/><rect x="218.36" y="249.50" width="1.56" height="11.10" fill="#83b799"/><rect x="219.21" y="249.50" width="1.56" height="11.10" fill="#afcfbc"/><rect x="220.07" y="249.50" width="1.56" height="11.10" fill="#c9c5c5"/><rect x="220.93" y="249.50" width="1.56" height="11.10" fill="#92bea4"/><rect x="221.79" y="249.50" width="1.56" height="11.10" fill="#9dc4ad"/><rect x="222.64" y="249.50" width="1.56" height="11.10" fill="#d1e1d8"/><rect x="223.50" y="249.50" width="1.56" height="11.10" fill="#bdbaba"/><rect x="224.36" y="249.50" width="1.56" height="11.10" fill="#6eab87"/><rect x="225.21" y="249.50" width="1.56" height="11.10" fill="#accdb9"/><rect x="226.07" y="249.50" width="1.56" height="11.10" fill="#6daa86"/><rect x="226.93" y="249.50" width="1.56" height="11.10" fill="#8cbba0"/><rect x="227.79" y="249.50" width="1.56" height="11.10" fill="#6eab87"/><rect x="228.64" y="249.50" width="1.56" height="11.10" fill="#9ec5ae"/><rect x="229.50" y="249.50" width="1.56" height="11.10" fill="#7bb292"/><rect x="230.36" y="249.50" width="1.56" height="11.10" fill="#d9e5de"/><rect x="231.21" y="249.50" width="1.56" height="11.10" fill="#a2c7b1"/><rect x="232.07" y="249.50" width="1.56" height="11.10" fill="#89ba9d"/><rect x="232.93" y="249.50" width="1.56" height="11.10" fill="#c7dbcf"/><rect x="233.79" y="249.50" width="1.56" height="11.10" fill="#d8e5dd"/><rect x="234.64" y="249.50" width="1.56" height="11.10" fill="#b0cfbd"/><rect x="235.50" y="249.50" width="1.56" height="11.10" fill="#e4ebe7"/><rect x="236.36" y="249.50" width="1.56" height="11.10" fill="#6aa984"/><rect x="237.21" y="249.50" width="1.56" height="11.10" fill="#6dab87"/><rect x="238.07" y="249.50" width="1.56" height="11.10" fill="#c9c5c5"/><rect x="238.93" y="249.50" width="1.56" height="11.10" fill="#dee8e2"/><rect x="239.79" y="249.50" width="1.56" height="11.10" fill="#c8dcd0"/><rect x="240.64" y="249.50" width="1.56" height="11.10" fill="#e9eeeb"/><rect x="241.50" y="249.50" width="1.56" height="11.10" fill="#bdbaba"/><rect x="242.36" y="249.50" width="1.56" height="11.10" fill="#d2cece"/><rect x="243.21" y="249.50" width="1.56" height="11.10" fill="#adcdbb"/><rect x="244.07" y="249.50" width="1.56" height="11.10" fill="#91bea4"/><rect x="244.93" y="249.50" width="1.56" height="11.10" fill="#aaccb8"/><rect x="245.79" y="249.50" width="1.56" height="11.10" fill="#c4dacd"/><rect x="246.64" y="249.50" width="1.56" height="11.10" fill="#a7cab5"/><rect x="247.50" y="249.50" width="1.56" height="11.10" fill="#dde8e1"/><rect x="248.36" y="249.50" width="1.56" height="11.10" fill="#84b799"/><rect x="249.21" y="249.50" width="1.56" height="11.10" fill="#75af8d"/><rect x="250.07" y="249.50" width="1.56" height="11.10" fill="#7bb292"/><rect x="250.93" y="249.50" width="1.56" height="11.10" fill="#7ab191"/><rect x="251.79" y="249.50" width="1.56" height="11.10" fill="#78b08f"/><rect x="252.64" y="249.50" width="1.56" height="11.10" fill="#6eab87"/><rect x="253.50" y="249.50" width="1.56" height="11.10" fill="#c9c5c5"/><rect x="254.36" y="249.50" width="1.56" height="11.10" fill="#bdbaba"/><rect x="255.21" y="249.50" width="1.56" height="11.10" fill="#8dbca0"/><rect x="256.07" y="249.50" width="1.56" height="11.10" fill="#88b99c"/><rect x="256.93" y="249.50" width="1.56" height="11.10" fill="#78b08f"/><rect x="257.79" y="249.50" width="1.56" height="11.10" fill="#85b79a"/><rect x="258.64" y="249.50" width="1.56" height="11.10" fill="#d9e5de"/><rect x="259.50" y="249.50" width="1.56" height="11.10" fill="#7cb393"/><rect x="260.36" y="249.50" width="1.56" height="11.10" fill="#dce7e0"/><rect x="261.21" y="249.50" width="1.56" height="11.10" fill="#95c0a7"/><rect x="262.07" y="249.50" width="1.56" height="11.10" fill="#cbded3"/><rect x="262.93" y="249.50" width="1.56" height="11.10" fill="#8dbca0"/><rect x="263.79" y="249.50" width="1.56" height="11.10" fill="#a4c9b3"/><rect x="264.64" y="249.50" width="1.56" height="11.10" fill="#e6ece8"/><rect x="265.50" y="249.50" width="1.56" height="11.10" fill="#87b89b"/><rect x="266.36" y="249.50" width="1.56" height="11.10" fill="#d2cece"/><rect x="267.21" y="249.50" width="1.56" height="11.10" fill="#c9ddd1"/><rect x="268.07" y="249.50" width="1.56" height="11.10" fill="#6ba985"/><rect x="268.93" y="249.50" width="1.56" height="11.10" fill="#dae6df"/><rect x="269.79" y="249.50" width="1.56" height="11.10" fill="#b1d0be"/><rect x="270.64" y="249.50" width="1.56" height="11.10" fill="#bdbaba"/><rect x="271.50" y="249.50" width="1.56" height="11.10" fill="#9cc4ac"/><rect x="272.36" y="249.50" width="1.56" height="11.10" fill="#9bc3ac"/><rect x="273.21" y="249.50" width="1.56" height="11.10" fill="#92bea4"/><rect x="274.07" y="249.50" width="1.56" height="11.10" fill="#7cb393"/><rect x="274.93" y="249.50" width="1.56" height="11.10" fill="#90bda2"/><rect x="275.79" y="249.50" width="1.56" height="11.10" fill="#bdbaba"/><rect x="276.64" y="249.50" width="1.56" height="11.10" fill="#c5dace"/><rect x="277.50" y="249.50" width="1.56" height="11.10" fill="#8bbb9f"/><rect x="278.36" y="249.50" width="1.56" height="11.10" fill="#d2cece"/><rect x="279.21" y="249.50" width="1.56" height="11.10" fill="#82b697"/><rect x="280.07" y="249.50" width="1.56" height="11.10" fill="#a7cab5"/><rect x="280.93" y="249.50" width="1.56" height="11.10" fill="#d2cece"/><rect x="281.79" y="249.50" width="1.56" height="11.10" fill="#91bea4"/><rect x="282.64" y="249.50" width="1.56" height="11.10" fill="#68a882"/><rect x="283.50" y="249.50" width="1.56" height="11.10" fill="#d6e4dc"/><rect x="284.36" y="249.50" width="1.56" height="11.10" fill="#a5c9b4"/><rect x="285.21" y="249.50" width="1.56" height="11.10" fill="#c3d9cd"/><rect x="286.07" y="249.50" width="1.56" height="11.10" fill="#8cbb9f"/><rect x="286.93" y="249.50" width="1.56" height="11.10" fill="#d2cece"/><rect x="287.79" y="249.50" width="1.56" height="11.10" fill="#75af8d"/><rect x="288.64" y="249.50" width="1.56" height="11.10" fill="#70ac89"/><rect x="289.50" y="249.50" width="1.56" height="11.10" fill="#a6cab5"/><rect x="290.36" y="249.50" width="1.56" height="11.10" fill="#d7e4dc"/><rect x="291.21" y="249.50" width="1.56" height="11.10" fill="#a4c8b3"/><rect x="292.07" y="249.50" width="1.56" height="11.10" fill="#bdbaba"/><rect x="292.93" y="249.50" width="1.56" height="11.10" fill="#aaccb8"/><rect x="293.79" y="249.50" width="1.56" height="11.10" fill="#83b698"/><rect x="294.64" y="249.50" width="1.56" height="11.10" fill="#7fb495"/><rect x="295.50" y="249.50" width="1.56" height="11.10" fill="#c9c5c5"/><rect x="296.36" y="249.50" width="1.56" height="11.10" fill="#cfe0d6"/><rect x="297.21" y="249.50" width="1.56" height="11.10" fill="#d2cece"/><rect x="298.07" y="249.50" width="1.56" height="11.10" fill="#abccb8"/><rect x="298.93" y="249.50" width="1.56" height="11.10" fill="#c9c5c5"/><rect x="299.79" y="249.50" width="1.56" height="11.10" fill="#d2cece"/><rect x="300.64" y="249.50" width="1.56" height="11.10" fill="#88b99c"/><rect x="301.50" y="249.50" width="1.56" height="11.10" fill="#70ac88"/><rect x="302.36" y="249.50" width="1.56" height="11.10" fill="#a7cab6"/><rect x="303.21" y="249.50" width="1.56" height="11.10" fill="#bdbaba"/><rect x="304.07" y="249.50" width="1.56" height="11.10" fill="#c9c5c5"/><rect x="304.93" y="249.50" width="1.56" height="11.10" fill="#8cbba0"/><rect x="305.79" y="249.50" width="1.56" height="11.10" fill="#c9c5c5"/><rect x="306.64" y="249.50" width="1.56" height="11.10" fill="#bdbaba"/><rect x="307.50" y="249.50" width="1.56" height="11.10" fill="#8fbda2"/><rect x="308.36" y="249.50" width="1.56" height="11.10" fill="#77b08e"/><rect x="309.21" y="249.50" width="1.56" height="11.10" fill="#7fb495"/><rect x="310.07" y="249.50" width="1.56" height="11.10" fill="#a7cab6"/><rect x="310.93" y="249.50" width="1.56" height="11.10" fill="#e0e9e4"/><rect x="311.79" y="249.50" width="2.41" height="11.10" fill="#bdbaba"/><rect x="313.50" y="249.50" width="1.56" height="11.10" fill="#c9c5c5"/><rect x="314.36" y="249.50" width="1.56" height="11.10" fill="#95c0a7"/><rect x="315.21" y="249.50" width="1.56" height="11.10" fill="#d2cece"/><rect x="316.07" y="249.50" width="1.56" height="11.10" fill="#6ba985"/><rect x="316.93" y="249.50" width="1.56" height="11.10" fill="#84b799"/><rect x="317.79" y="249.50" width="1.56" height="11.10" fill="#eaefec"/><rect x="318.64" y="249.50" width="1.56" height="11.10" fill="#73ad8b"/><rect x="319.50" y="249.50" width="1.56" height="11.10" fill="#c7dbcf"/><rect x="320.36" y="249.50" width="1.56" height="11.10" fill="#9bc4ac"/><rect x="321.21" y="249.50" width="1.56" height="11.10" fill="#6ba985"/><rect x="322.07" y="249.50" width="1.56" height="11.10" fill="#6baa85"/><rect x="322.93" y="249.50" width="1.56" height="11.10" fill="#dce7e0"/><rect x="323.79" y="249.50" width="1.56" height="11.10" fill="#a2c7b1"/><rect x="324.64" y="249.50" width="1.56" height="11.10" fill="#c8dcd0"/><rect x="325.50" y="249.50" width="1.56" height="11.10" fill="#77b08f"/><rect x="326.36" y="249.50" width="1.56" height="11.10" fill="#e5ece7"/><rect x="327.21" y="249.50" width="1.56" height="11.10" fill="#e4ebe7"/><rect x="328.07" y="249.50" width="1.56" height="11.10" fill="#9cc4ad"/><rect x="328.93" y="249.50" width="1.56" height="11.10" fill="#a9cbb7"/><rect x="329.79" y="249.50" width="1.56" height="11.10" fill="#95c0a7"/><rect x="330.64" y="249.50" width="1.56" height="11.10" fill="#adcdba"/><rect x="331.50" y="249.50" width="1.56" height="11.10" fill="#d2cece"/><rect x="332.36" y="249.50" width="1.56" height="11.10" fill="#95c0a7"/><rect x="333.21" y="249.50" width="1.56" height="11.10" fill="#98c2aa"/><rect x="334.07" y="249.50" width="1.56" height="11.10" fill="#9dc5ae"/><rect x="334.93" y="249.50" width="1.56" height="11.10" fill="#c9c5c5"/><rect x="335.79" y="249.50" width="1.56" height="11.10" fill="#e6ede9"/><rect x="336.64" y="249.50" width="1.56" height="11.10" fill="#bdbaba"/><rect x="337.50" y="249.50" width="1.56" height="11.10" fill="#a9cbb7"/><rect x="338.36" y="249.50" width="1.56" height="11.10" fill="#74ae8c"/><rect x="339.21" y="249.50" width="1.56" height="11.10" fill="#a6cab5"/><rect x="340.07" y="249.50" width="1.56" height="11.10" fill="#cedfd5"/><rect x="340.93" y="249.50" width="1.56" height="11.10" fill="#c4dacd"/><rect x="341.79" y="249.50" width="1.56" height="11.10" fill="#c5dacd"/><rect x="342.64" y="249.50" width="1.56" height="11.10" fill="#a1c7b1"/><rect x="343.50" y="249.50" width="1.56" height="11.10" fill="#a8cbb7"/><rect x="344.36" y="249.50" width="1.56" height="11.10" fill="#9fc5af"/><rect x="345.21" y="249.50" width="1.56" height="11.10" fill="#86b89b"/><rect x="346.07" y="249.50" width="1.56" height="11.10" fill="#e2eae5"/><rect x="346.93" y="249.50" width="1.56" height="11.10" fill="#a2c7b2"/><rect x="347.79" y="249.50" width="1.56" height="11.10" fill="#a9cbb7"/><rect x="348.64" y="249.50" width="0.86" height="11.10" fill="#8aba9e"/>
<rect x="79.50" y="249.50" width="270.00" height="11.10" fill="none" stroke="#2b2b2b" stroke-width="1"/>
<text x="73.30" y="258.20" font-size="9.0" text-anchor="end" textLength="60.40" lengthAdjust="spacingAndGlyphs" fill="#231f20">log(WBC count)</text>
<text x="391.90" y="257.20" font-size="9.4" text-anchor="middle" textLength="13.80" lengthAdjust="spacingAndGlyphs" fill="#231f20">268</text>
<text x="438.10" y="257.20" font-size="9.4" textLength="20.80" lengthAdjust="spacingAndGlyphs" fill="#231f20">0.756</text>
<text x="152.00" y="272.80" font-size="9.0" text-anchor="end" textLength="14.20" lengthAdjust="spacingAndGlyphs" fill="#231f20">low</text>
<rect x="156.1" y="266.8" width="96.2" height="7.0" fill="url(#gWBC)" stroke="#2b2b2b" stroke-width="0.9"/>
<text x="254.70" y="272.80" font-size="9.0" textLength="16.50" lengthAdjust="spacingAndGlyphs" fill="#231f20">high</text>
<rect x="79.50" y="284.50" width="1.56" height="11.30" fill="#f5cf52"/><rect x="80.36" y="284.50" width="1.56" height="11.30" fill="#d25a47"/><rect x="81.21" y="284.50" width="1.56" height="11.30" fill="#f5cf52"/><rect x="82.07" y="284.50" width="1.56" height="11.30" fill="#d25a47"/><rect x="82.93" y="284.50" width="1.56" height="11.30" fill="#e8a04f"/><rect x="83.79" y="284.50" width="2.41" height="11.30" fill="#f5cf52"/><rect x="85.50" y="284.50" width="2.41" height="11.30" fill="#7db064"/><rect x="87.21" y="284.50" width="1.56" height="11.30" fill="#c5bccb"/><rect x="88.07" y="284.50" width="1.56" height="11.30" fill="#7db064"/><rect x="88.93" y="284.50" width="1.56" height="11.30" fill="#c9c3bb"/><rect x="89.79" y="284.50" width="1.56" height="11.30" fill="#e8a04f"/><rect x="90.64" y="284.50" width="1.56" height="11.30" fill="#f5cf52"/><rect x="91.50" y="284.50" width="1.56" height="11.30" fill="#e8a04f"/><rect x="92.36" y="284.50" width="1.56" height="11.30" fill="#f5cf52"/><rect x="93.21" y="284.50" width="1.56" height="11.30" fill="#7db064"/><rect x="94.07" y="284.50" width="2.41" height="11.30" fill="#f5cf52"/><rect x="95.79" y="284.50" width="1.56" height="11.30" fill="#7db064"/><rect x="96.64" y="284.50" width="1.56" height="11.30" fill="#d25a47"/><rect x="97.50" y="284.50" width="1.56" height="11.30" fill="#f5cf52"/><rect x="98.36" y="284.50" width="1.56" height="11.30" fill="#e8a04f"/><rect x="99.21" y="284.50" width="2.41" height="11.30" fill="#d9c2c0"/><rect x="100.93" y="284.50" width="1.56" height="11.30" fill="#7db064"/><rect x="101.79" y="284.50" width="2.41" height="11.30" fill="#d25a47"/><rect x="103.50" y="284.50" width="1.56" height="11.30" fill="#f5cf52"/><rect x="104.36" y="284.50" width="1.56" height="11.30" fill="#e8a04f"/><rect x="105.21" y="284.50" width="2.41" height="11.30" fill="#d25a47"/><rect x="106.93" y="284.50" width="1.56" height="11.30" fill="#f5cf52"/><rect x="107.79" y="284.50" width="1.56" height="11.30" fill="#c5bccb"/><rect x="108.64" y="284.50" width="1.56" height="11.30" fill="#c9c3bb"/><rect x="109.50" y="284.50" width="2.41" height="11.30" fill="#7db064"/><rect x="111.21" y="284.50" width="1.56" height="11.30" fill="#d9c2c0"/><rect x="112.07" y="284.50" width="1.56" height="11.30" fill="#d25a47"/><rect x="112.93" y="284.50" width="4.13" height="11.30" fill="#7db064"/><rect x="116.36" y="284.50" width="2.41" height="11.30" fill="#f5cf52"/><rect x="118.07" y="284.50" width="1.56" height="11.30" fill="#7db064"/><rect x="118.93" y="284.50" width="1.56" height="11.30" fill="#f5cf52"/><rect x="119.79" y="284.50" width="1.56" height="11.30" fill="#d25a47"/><rect x="120.64" y="284.50" width="1.56" height="11.30" fill="#7db064"/><rect x="121.50" y="284.50" width="1.56" height="11.30" fill="#ddd0c8"/><rect x="122.36" y="284.50" width="1.56" height="11.30" fill="#d25a47"/><rect x="123.21" y="284.50" width="1.56" height="11.30" fill="#f5cf52"/><rect x="124.07" y="284.50" width="1.56" height="11.30" fill="#e8a04f"/><rect x="124.93" y="284.50" width="1.56" height="11.30" fill="#d25a47"/><rect x="125.79" y="284.50" width="1.56" height="11.30" fill="#f5cf52"/><rect x="126.64" y="284.50" width="1.56" height="11.30" fill="#7db064"/><rect x="127.50" y="284.50" width="1.56" height="11.30" fill="#c5bccb"/><rect x="128.36" y="284.50" width="2.41" height="11.30" fill="#c9c3bb"/><rect x="130.07" y="284.50" width="1.56" height="11.30" fill="#7db064"/><rect x="130.93" y="284.50" width="1.56" height="11.30" fill="#f5cf52"/><rect x="131.79" y="284.50" width="1.56" height="11.30" fill="#d25a47"/><rect x="132.64" y="284.50" width="1.56" height="11.30" fill="#f5cf52"/><rect x="133.50" y="284.50" width="1.56" height="11.30" fill="#ddd0c8"/><rect x="134.36" y="284.50" width="1.56" height="11.30" fill="#d25a47"/><rect x="135.21" y="284.50" width="1.56" height="11.30" fill="#f5cf52"/><rect x="136.07" y="284.50" width="1.56" height="11.30" fill="#d25a47"/><rect x="136.93" y="284.50" width="1.56" height="11.30" fill="#c5bccb"/><rect x="137.79" y="284.50" width="1.56" height="11.30" fill="#e8a04f"/><rect x="138.64" y="284.50" width="1.56" height="11.30" fill="#f5cf52"/><rect x="139.50" y="284.50" width="2.41" height="11.30" fill="#ddd0c8"/><rect x="141.21" y="284.50" width="1.56" height="11.30" fill="#e8a04f"/><rect x="142.07" y="284.50" width="1.56" height="11.30" fill="#d25a47"/><rect x="142.93" y="284.50" width="1.56" height="11.30" fill="#f5cf52"/><rect x="143.79" y="284.50" width="1.56" height="11.30" fill="#d25a47"/><rect x="144.64" y="284.50" width="1.56" height="11.30" fill="#d9c2c0"/><rect x="145.50" y="284.50" width="1.56" height="11.30" fill="#e8a04f"/><rect x="146.36" y="284.50" width="1.56" height="11.30" fill="#7db064"/><rect x="147.21" y="284.50" width="1.56" height="11.30" fill="#c5bccb"/><rect x="148.07" y="284.50" width="2.41" height="11.30" fill="#7db064"/><rect x="149.79" y="284.50" width="1.56" height="11.30" fill="#d9c2c0"/><rect x="150.64" y="284.50" width="1.56" height="11.30" fill="#e8a04f"/><rect x="151.50" y="284.50" width="1.56" height="11.30" fill="#f5cf52"/><rect x="152.36" y="284.50" width="1.56" height="11.30" fill="#7db064"/><rect x="153.21" y="284.50" width="1.56" height="11.30" fill="#f5cf52"/><rect x="154.07" y="284.50" width="1.56" height="11.30" fill="#e8a04f"/><rect x="154.93" y="284.50" width="2.41" height="11.30" fill="#f5cf52"/><rect x="156.64" y="284.50" width="1.56" height="11.30" fill="#7db064"/><rect x="157.50" y="284.50" width="2.41" height="11.30" fill="#d25a47"/><rect x="159.21" y="284.50" width="2.41" height="11.30" fill="#f5cf52"/><rect x="160.93" y="284.50" width="2.41" height="11.30" fill="#e8a04f"/><rect x="162.64" y="284.50" width="1.56" height="11.30" fill="#c5bccb"/><rect x="163.50" y="284.50" width="1.56" height="11.30" fill="#d25a47"/><rect x="164.36" y="284.50" width="1.56" height="11.30" fill="#7db064"/><rect x="165.21" y="284.50" width="1.56" height="11.30" fill="#d25a47"/><rect x="166.07" y="284.50" width="1.56" height="11.30" fill="#e8a04f"/><rect x="166.93" y="284.50" width="1.56" height="11.30" fill="#f5cf52"/><rect x="167.79" y="284.50" width="1.56" height="11.30" fill="#d25a47"/><rect x="168.64" y="284.50" width="1.56" height="11.30" fill="#7db064"/><rect x="169.50" y="284.50" width="1.56" height="11.30" fill="#e8a04f"/><rect x="170.36" y="284.50" width="1.56" height="11.30" fill="#d9c2c0"/><rect x="171.21" y="284.50" width="2.41" height="11.30" fill="#e8a04f"/><rect x="172.93" y="284.50" width="1.56" height="11.30" fill="#d25a47"/><rect x="173.79" y="284.50" width="1.56" height="11.30" fill="#c9c3bb"/><rect x="174.64" y="284.50" width="1.56" height="11.30" fill="#d25a47"/><rect x="175.50" y="284.50" width="1.56" height="11.30" fill="#7db064"/><rect x="176.36" y="284.50" width="1.56" height="11.30" fill="#e8a04f"/><rect x="177.21" y="284.50" width="1.56" height="11.30" fill="#7db064"/><rect x="178.07" y="284.50" width="1.56" height="11.30" fill="#c5bccb"/><rect x="178.93" y="284.50" width="1.56" height="11.30" fill="#7db064"/><rect x="179.79" y="284.50" width="1.56" height="11.30" fill="#d25a47"/><rect x="180.64" y="284.50" width="1.56" height="11.30" fill="#e8a04f"/><rect x="181.50" y="284.50" width="1.56" height="11.30" fill="#7db064"/><rect x="182.36" y="284.50" width="1.56" height="11.30" fill="#f5cf52"/><rect x="183.21" y="284.50" width="1.56" height="11.30" fill="#e8a04f"/><rect x="184.07" y="284.50" width="1.56" height="11.30" fill="#f5cf52"/><rect x="184.93" y="284.50" width="3.27" height="11.30" fill="#7db064"/><rect x="187.50" y="284.50" width="1.56" height="11.30" fill="#ddd0c8"/><rect x="188.36" y="284.50" width="1.56" height="11.30" fill="#7db064"/><rect x="189.21" y="284.50" width="1.56" height="11.30" fill="#d25a47"/><rect x="190.07" y="284.50" width="1.56" height="11.30" fill="#c5bccb"/><rect x="190.93" y="284.50" width="1.56" height="11.30" fill="#7db064"/><rect x="191.79" y="284.50" width="2.41" height="11.30" fill="#e8a04f"/><rect x="193.50" y="284.50" width="1.56" height="11.30" fill="#7db064"/><rect x="194.36" y="284.50" width="1.56" height="11.30" fill="#e8a04f"/><rect x="195.21" y="284.50" width="1.56" height="11.30" fill="#7db064"/><rect x="196.07" y="284.50" width="1.56" height="11.30" fill="#c5bccb"/><rect x="196.93" y="284.50" width="1.56" height="11.30" fill="#d25a47"/><rect x="197.79" y="284.50" width="1.56" height="11.30" fill="#c5bccb"/><rect x="198.64" y="284.50" width="1.56" height="11.30" fill="#d25a47"/><rect x="199.50" y="284.50" width="1.56" height="11.30" fill="#7db064"/><rect x="200.36" y="284.50" width="1.56" height="11.30" fill="#d25a47"/><rect x="201.21" y="284.50" width="1.56" height="11.30" fill="#7db064"/><rect x="202.07" y="284.50" width="1.56" height="11.30" fill="#f5cf52"/><rect x="202.93" y="284.50" width="1.56" height="11.30" fill="#7db064"/><rect x="203.79" y="284.50" width="1.56" height="11.30" fill="#f5cf52"/><rect x="204.64" y="284.50" width="1.56" height="11.30" fill="#d9c2c0"/><rect x="205.50" y="284.50" width="1.56" height="11.30" fill="#7db064"/><rect x="206.36" y="284.50" width="1.56" height="11.30" fill="#d25a47"/><rect x="207.21" y="284.50" width="1.56" height="11.30" fill="#f5cf52"/><rect x="208.07" y="284.50" width="1.56" height="11.30" fill="#d25a47"/><rect x="208.93" y="284.50" width="1.56" height="11.30" fill="#f5cf52"/><rect x="209.79" y="284.50" width="1.56" height="11.30" fill="#d25a47"/><rect x="210.64" y="284.50" width="2.41" height="11.30" fill="#f5cf52"/><rect x="212.36" y="284.50" width="1.56" height="11.30" fill="#7db064"/><rect x="213.21" y="284.50" width="1.56" height="11.30" fill="#c5bccb"/><rect x="214.07" y="284.50" width="1.56" height="11.30" fill="#f5cf52"/><rect x="214.93" y="284.50" width="1.56" height="11.30" fill="#7db064"/><rect x="215.79" y="284.50" width="1.56" height="11.30" fill="#e8a04f"/><rect x="216.64" y="284.50" width="1.56" height="11.30" fill="#d25a47"/><rect x="217.50" y="284.50" width="1.56" height="11.30" fill="#ddd0c8"/><rect x="218.36" y="284.50" width="1.56" height="11.30" fill="#d9c2c0"/><rect x="219.21" y="284.50" width="2.41" height="11.30" fill="#e8a04f"/><rect x="220.93" y="284.50" width="1.56" height="11.30" fill="#7db064"/><rect x="221.79" y="284.50" width="1.56" height="11.30" fill="#f5cf52"/><rect x="222.64" y="284.50" width="1.56" height="11.30" fill="#e8a04f"/><rect x="223.50" y="284.50" width="1.56" height="11.30" fill="#7db064"/><rect x="224.36" y="284.50" width="1.56" height="11.30" fill="#d25a47"/><rect x="225.21" y="284.50" width="1.56" height="11.30" fill="#7db064"/><rect x="226.07" y="284.50" width="1.56" height="11.30" fill="#e8a04f"/><rect x="226.93" y="284.50" width="1.56" height="11.30" fill="#c9c3bb"/><rect x="227.79" y="284.50" width="1.56" height="11.30" fill="#ddd0c8"/><rect x="228.64" y="284.50" width="1.56" height="11.30" fill="#e8a04f"/><rect x="229.50" y="284.50" width="2.41" height="11.30" fill="#f5cf52"/><rect x="231.21" y="284.50" width="1.56" height="11.30" fill="#7db064"/><rect x="232.07" y="284.50" width="1.56" height="11.30" fill="#d25a47"/><rect x="232.93" y="284.50" width="1.56" height="11.30" fill="#ddd0c8"/><rect x="233.79" y="284.50" width="3.27" height="11.30" fill="#7db064"/><rect x="236.36" y="284.50" width="1.56" height="11.30" fill="#d25a47"/><rect x="237.21" y="284.50" width="1.56" height="11.30" fill="#c9c3bb"/><rect x="238.07" y="284.50" width="1.56" height="11.30" fill="#e8a04f"/><rect x="238.93" y="284.50" width="1.56" height="11.30" fill="#d25a47"/><rect x="239.79" y="284.50" width="1.56" height="11.30" fill="#d9c2c0"/><rect x="240.64" y="284.50" width="1.56" height="11.30" fill="#f5cf52"/><rect x="241.50" y="284.50" width="1.56" height="11.30" fill="#7db064"/><rect x="242.36" y="284.50" width="1.56" height="11.30" fill="#c5bccb"/><rect x="243.21" y="284.50" width="5.84" height="11.30" fill="#e8a04f"/><rect x="248.36" y="284.50" width="1.56" height="11.30" fill="#d25a47"/><rect x="249.21" y="284.50" width="1.56" height="11.30" fill="#7db064"/><rect x="250.07" y="284.50" width="1.56" height="11.30" fill="#e8a04f"/><rect x="250.93" y="284.50" width="1.56" height="11.30" fill="#d25a47"/><rect x="251.79" y="284.50" width="1.56" height="11.30" fill="#7db064"/><rect x="252.64" y="284.50" width="1.56" height="11.30" fill="#c5bccb"/><rect x="253.50" y="284.50" width="1.56" height="11.30" fill="#d25a47"/><rect x="254.36" y="284.50" width="1.56" height="11.30" fill="#f5cf52"/><rect x="255.21" y="284.50" width="1.56" height="11.30" fill="#e8a04f"/><rect x="256.07" y="284.50" width="1.56" height="11.30" fill="#ddd0c8"/><rect x="256.93" y="284.50" width="1.56" height="11.30" fill="#d25a47"/><rect x="257.79" y="284.50" width="1.56" height="11.30" fill="#7db064"/><rect x="258.64" y="284.50" width="1.56" height="11.30" fill="#c9c3bb"/><rect x="259.50" y="284.50" width="1.56" height="11.30" fill="#d9c2c0"/><rect x="260.36" y="284.50" width="1.56" height="11.30" fill="#d25a47"/><rect x="261.21" y="284.50" width="1.56" height="11.30" fill="#e8a04f"/><rect x="262.07" y="284.50" width="1.56" height="11.30" fill="#7db064"/><rect x="262.93" y="284.50" width="1.56" height="11.30" fill="#d25a47"/><rect x="263.79" y="284.50" width="1.56" height="11.30" fill="#f5cf52"/><rect x="264.64" y="284.50" width="4.13" height="11.30" fill="#e8a04f"/><rect x="268.07" y="284.50" width="1.56" height="11.30" fill="#f5cf52"/><rect x="268.93" y="284.50" width="2.41" height="11.30" fill="#7db064"/><rect x="270.64" y="284.50" width="1.56" height="11.30" fill="#c9c3bb"/><rect x="271.50" y="284.50" width="1.56" height="11.30" fill="#f5cf52"/><rect x="272.36" y="284.50" width="1.56" height="11.30" fill="#c9c3bb"/><rect x="273.21" y="284.50" width="1.56" height="11.30" fill="#7db064"/><rect x="274.07" y="284.50" width="2.41" height="11.30" fill="#d25a47"/><rect x="275.79" y="284.50" width="1.56" height="11.30" fill="#f5cf52"/><rect x="276.64" y="284.50" width="2.41" height="11.30" fill="#e8a04f"/><rect x="278.36" y="284.50" width="2.41" height="11.30" fill="#d25a47"/><rect x="280.07" y="284.50" width="2.41" height="11.30" fill="#c9c3bb"/><rect x="281.79" y="284.50" width="1.56" height="11.30" fill="#d9c2c0"/><rect x="282.64" y="284.50" width="1.56" height="11.30" fill="#c9c3bb"/><rect x="283.50" y="284.50" width="1.56" height="11.30" fill="#d25a47"/><rect x="284.36" y="284.50" width="1.56" height="11.30" fill="#c9c3bb"/><rect x="285.21" y="284.50" width="1.56" height="11.30" fill="#e8a04f"/><rect x="286.07" y="284.50" width="1.56" height="11.30" fill="#d25a47"/><rect x="286.93" y="284.50" width="1.56" height="11.30" fill="#e8a04f"/><rect x="287.79" y="284.50" width="1.56" height="11.30" fill="#d9c2c0"/><rect x="288.64" y="284.50" width="1.56" height="11.30" fill="#e8a04f"/><rect x="289.50" y="284.50" width="1.56" height="11.30" fill="#d25a47"/><rect x="290.36" y="284.50" width="1.56" height="11.30" fill="#7db064"/><rect x="291.21" y="284.50" width="1.56" height="11.30" fill="#d25a47"/><rect x="292.07" y="284.50" width="1.56" height="11.30" fill="#7db064"/><rect x="292.93" y="284.50" width="2.41" height="11.30" fill="#f5cf52"/><rect x="294.64" y="284.50" width="1.56" height="11.30" fill="#7db064"/><rect x="295.50" y="284.50" width="1.56" height="11.30" fill="#e8a04f"/><rect x="296.36" y="284.50" width="2.41" height="11.30" fill="#f5cf52"/><rect x="298.07" y="284.50" width="1.56" height="11.30" fill="#d25a47"/><rect x="298.93" y="284.50" width="1.56" height="11.30" fill="#e8a04f"/><rect x="299.79" y="284.50" width="1.56" height="11.30" fill="#d9c2c0"/><rect x="300.64" y="284.50" width="1.56" height="11.30" fill="#e8a04f"/><rect x="301.50" y="284.50" width="1.56" height="11.30" fill="#c5bccb"/><rect x="302.36" y="284.50" width="1.56" height="11.30" fill="#7db064"/><rect x="303.21" y="284.50" width="1.56" height="11.30" fill="#d25a47"/><rect x="304.07" y="284.50" width="1.56" height="11.30" fill="#f5cf52"/><rect x="304.93" y="284.50" width="2.41" height="11.30" fill="#d25a47"/><rect x="306.64" y="284.50" width="1.56" height="11.30" fill="#c9c3bb"/><rect x="307.50" y="284.50" width="1.56" height="11.30" fill="#f5cf52"/><rect x="308.36" y="284.50" width="2.41" height="11.30" fill="#e8a04f"/><rect x="310.07" y="284.50" width="1.56" height="11.30" fill="#f5cf52"/><rect x="310.93" y="284.50" width="1.56" height="11.30" fill="#e8a04f"/><rect x="311.79" y="284.50" width="1.56" height="11.30" fill="#c5bccb"/><rect x="312.64" y="284.50" width="1.56" height="11.30" fill="#7db064"/><rect x="313.50" y="284.50" width="1.56" height="11.30" fill="#e8a04f"/><rect x="314.36" y="284.50" width="1.56" height="11.30" fill="#c9c3bb"/><rect x="315.21" y="284.50" width="1.56" height="11.30" fill="#7db064"/><rect x="316.07" y="284.50" width="1.56" height="11.30" fill="#d9c2c0"/><rect x="316.93" y="284.50" width="1.56" height="11.30" fill="#f5cf52"/><rect x="317.79" y="284.50" width="1.56" height="11.30" fill="#7db064"/><rect x="318.64" y="284.50" width="1.56" height="11.30" fill="#e8a04f"/><rect x="319.50" y="284.50" width="1.56" height="11.30" fill="#ddd0c8"/><rect x="320.36" y="284.50" width="3.27" height="11.30" fill="#7db064"/><rect x="322.93" y="284.50" width="1.56" height="11.30" fill="#d9c2c0"/><rect x="323.79" y="284.50" width="1.56" height="11.30" fill="#7db064"/><rect x="324.64" y="284.50" width="1.56" height="11.30" fill="#ddd0c8"/><rect x="325.50" y="284.50" width="1.56" height="11.30" fill="#c5bccb"/><rect x="326.36" y="284.50" width="1.56" height="11.30" fill="#e8a04f"/><rect x="327.21" y="284.50" width="1.56" height="11.30" fill="#d25a47"/><rect x="328.07" y="284.50" width="1.56" height="11.30" fill="#ddd0c8"/><rect x="328.93" y="284.50" width="1.56" height="11.30" fill="#7db064"/><rect x="329.79" y="284.50" width="1.56" height="11.30" fill="#f5cf52"/><rect x="330.64" y="284.50" width="1.56" height="11.30" fill="#7db064"/><rect x="331.50" y="284.50" width="1.56" height="11.30" fill="#e8a04f"/><rect x="332.36" y="284.50" width="1.56" height="11.30" fill="#c9c3bb"/><rect x="333.21" y="284.50" width="1.56" height="11.30" fill="#7db064"/><rect x="334.07" y="284.50" width="2.41" height="11.30" fill="#d25a47"/><rect x="335.79" y="284.50" width="1.56" height="11.30" fill="#e8a04f"/><rect x="336.64" y="284.50" width="1.56" height="11.30" fill="#d9c2c0"/><rect x="337.50" y="284.50" width="1.56" height="11.30" fill="#d25a47"/><rect x="338.36" y="284.50" width="1.56" height="11.30" fill="#e8a04f"/><rect x="339.21" y="284.50" width="1.56" height="11.30" fill="#f5cf52"/><rect x="340.07" y="284.50" width="1.56" height="11.30" fill="#c9c3bb"/><rect x="340.93" y="284.50" width="1.56" height="11.30" fill="#f5cf52"/><rect x="341.79" y="284.50" width="1.56" height="11.30" fill="#e8a04f"/><rect x="342.64" y="284.50" width="1.56" height="11.30" fill="#f5cf52"/><rect x="343.50" y="284.50" width="1.56" height="11.30" fill="#7db064"/><rect x="344.36" y="284.50" width="1.56" height="11.30" fill="#d25a47"/><rect x="345.21" y="284.50" width="1.56" height="11.30" fill="#f5cf52"/><rect x="346.07" y="284.50" width="1.56" height="11.30" fill="#ddd0c8"/><rect x="346.93" y="284.50" width="1.56" height="11.30" fill="#f5cf52"/><rect x="347.79" y="284.50" width="1.56" height="11.30" fill="#e8a04f"/><rect x="348.64" y="284.50" width="0.86" height="11.30" fill="#c5bccb"/>
<rect x="79.50" y="284.50" width="270.00" height="11.30" fill="none" stroke="#2b2b2b" stroke-width="1"/>
<text x="73.30" y="292.40" font-size="9.0" text-anchor="end" textLength="38.10" lengthAdjust="spacingAndGlyphs" fill="#231f20">prognosis</text>
<text x="391.90" y="291.60" font-size="9.4" text-anchor="middle" textLength="13.80" lengthAdjust="spacingAndGlyphs" fill="#231f20">248</text>
<text x="438.10" y="291.60" font-size="9.4" textLength="20.80" lengthAdjust="spacingAndGlyphs" fill="#231f20">0.009</text>
<g stroke="#c65a64" stroke-width="0.75" stroke-linecap="butt"><line x1="460.45" y1="286.90" x2="463.15" y2="286.90"/><line x1="461.12" y1="285.73" x2="462.48" y2="288.07"/><line x1="462.48" y1="285.73" x2="461.12" y2="288.07"/></g>
<g stroke="#c65a64" stroke-width="0.75" stroke-linecap="butt"><line x1="464.38" y1="286.90" x2="467.08" y2="286.90"/><line x1="465.05" y1="285.73" x2="466.41" y2="288.07"/><line x1="466.41" y1="285.73" x2="465.05" y2="288.07"/></g>
<rect x="79.40" y="301.10" width="9.10" height="9.30" fill="#7db064" stroke="#2b2b2b" stroke-width="0.9"/>
<text x="92.50" y="308.60" font-size="9.0" textLength="35.80" lengthAdjust="spacingAndGlyphs" fill="#231f20">favorable</text>
<rect x="140.60" y="301.10" width="9.10" height="9.30" fill="#f5cf52" stroke="#2b2b2b" stroke-width="0.9"/>
<text x="153.00" y="308.60" font-size="9.0" textLength="55.80" lengthAdjust="spacingAndGlyphs" fill="#231f20">intermediate-I</text>
<rect x="220.40" y="301.10" width="9.50" height="9.30" fill="#e8a04f" stroke="#2b2b2b" stroke-width="0.9"/>
<text x="234.20" y="308.60" font-size="9.0" textLength="57.10" lengthAdjust="spacingAndGlyphs" fill="#231f20">intermediate-II</text>
<rect x="303.10" y="301.10" width="9.50" height="9.30" fill="#d25a47" stroke="#2b2b2b" stroke-width="0.9"/>
<text x="316.40" y="308.60" font-size="9.0" textLength="29.60" lengthAdjust="spacingAndGlyphs" fill="#231f20">adverse</text>
<rect x="86.90" y="318.70" width="1.00" height="114.40" fill="#d5d0cd"/>
<rect x="115.40" y="318.70" width="1.20" height="114.40" fill="#d5d0cd"/>
<rect x="119.10" y="318.70" width="2.60" height="114.40" fill="#e7e4e2"/>
<rect x="128.40" y="318.70" width="1.00" height="114.40" fill="#d5d0cd"/>
<rect x="135.70" y="318.70" width="1.00" height="114.40" fill="#d5d0cd"/>
<rect x="141.90" y="318.70" width="1.00" height="114.40" fill="#d5d0cd"/>
<rect x="155.90" y="318.70" width="1.20" height="114.40" fill="#d5d0cd"/>
<rect x="160.30" y="318.70" width="1.20" height="114.40" fill="#d5d0cd"/>
<rect x="183.10" y="318.70" width="5.80" height="114.40" fill="#e7e4e2"/>
<rect x="183.60" y="318.70" width="0.80" height="114.40" fill="#d5d0cd"/>
<rect x="188.20" y="318.70" width="0.80" height="114.40" fill="#d5d0cd"/>
<rect x="198.30" y="318.70" width="2.40" height="114.40" fill="#c4bebb"/>
<rect x="221.50" y="318.70" width="1.20" height="114.40" fill="#d5d0cd"/>
<rect x="239.70" y="318.70" width="1.20" height="114.40" fill="#d5d0cd"/>
<rect x="244.50" y="318.70" width="1.00" height="114.40" fill="#d5d0cd"/>
<rect x="259.40" y="318.70" width="1.20" height="114.40" fill="#d5d0cd"/>
<rect x="267.80" y="318.70" width="1.00" height="114.40" fill="#d5d0cd"/>
<rect x="271.70" y="318.70" width="1.00" height="114.40" fill="#d5d0cd"/>
<rect x="277.80" y="318.70" width="1.00" height="114.40" fill="#d5d0cd"/>
<rect x="282.50" y="318.70" width="1.00" height="114.40" fill="#d5d0cd"/>
<rect x="287.30" y="318.70" width="1.00" height="114.40" fill="#d5d0cd"/>
<rect x="297.10" y="318.70" width="1.00" height="114.40" fill="#d5d0cd"/>
<rect x="316.30" y="318.70" width="1.20" height="114.40" fill="#d5d0cd"/>
<rect x="321.80" y="318.70" width="1.00" height="114.40" fill="#d5d0cd"/>
<rect x="324.00" y="318.70" width="1.00" height="114.40" fill="#d5d0cd"/>
<rect x="333.00" y="318.70" width="1.00" height="114.40" fill="#d5d0cd"/>
<rect x="340.80" y="318.70" width="1.00" height="114.40" fill="#d5d0cd"/>
<rect x="90.80" y="319.00" width="1.0" height="10.84" fill="#7f9dd2"/>
<rect x="119.40" y="319.00" width="1.0" height="10.84" fill="#5579bc"/>
<rect x="165.10" y="319.00" width="1.0" height="10.84" fill="#7f9dd2"/>
<rect x="167.70" y="319.00" width="1.0" height="10.84" fill="#7f9dd2"/>
<rect x="167.90" y="319.00" width="1.0" height="10.84" fill="#7f9dd2"/>
<rect x="204.10" y="319.00" width="1.0" height="10.84" fill="#7f9dd2"/>
<rect x="240.00" y="319.00" width="1.0" height="10.84" fill="#5579bc"/>
<rect x="262.00" y="319.00" width="1.0" height="10.84" fill="#7f9dd2"/>
<rect x="265.10" y="319.00" width="1.0" height="10.84" fill="#7f9dd2"/>
<rect x="275.20" y="319.00" width="1.0" height="10.84" fill="#afc1e3"/>
<rect x="319.50" y="319.00" width="1.0" height="10.84" fill="#4a6db4"/>
<rect x="114.70" y="330.44" width="1.0" height="10.84" fill="#7f9dd2"/>
<rect x="130.60" y="330.44" width="1.0" height="10.84" fill="#7f9dd2"/>
<rect x="180.20" y="330.44" width="1.0" height="10.84" fill="#7f9dd2"/>
<rect x="213.00" y="330.44" width="1.0" height="10.84" fill="#7f9dd2"/>
<rect x="273.80" y="330.44" width="1.0" height="10.84" fill="#7f9dd2"/>
<rect x="285.50" y="330.44" width="1.0" height="10.84" fill="#7f9dd2"/>
<rect x="323.50" y="330.44" width="1.0" height="10.84" fill="#7f9dd2"/>
<rect x="326.70" y="330.44" width="1.0" height="10.84" fill="#7f9dd2"/>
<rect x="81.90" y="341.88" width="1.0" height="10.84" fill="#7f9dd2"/>
<rect x="96.40" y="341.88" width="1.0" height="10.84" fill="#7f9dd2"/>
<rect x="107.60" y="341.88" width="1.0" height="10.84" fill="#7f9dd2"/>
<rect x="113.40" y="341.88" width="1.0" height="10.84" fill="#afc1e3"/>
<rect x="121.20" y="341.88" width="1.0" height="10.84" fill="#5579bc"/>
<rect x="122.20" y="341.88" width="1.0" height="10.84" fill="#5579bc"/>
<rect x="142.40" y="341.88" width="1.0" height="10.84" fill="#7f9dd2"/>
<rect x="162.00" y="341.88" width="1.0" height="10.84" fill="#afc1e3"/>
<rect x="163.00" y="341.88" width="1.0" height="10.84" fill="#afc1e3"/>
<rect x="171.00" y="341.88" width="1.0" height="10.84" fill="#7f9dd2"/>
<rect x="188.70" y="341.88" width="1.0" height="10.84" fill="#7f9dd2"/>
<rect x="194.00" y="341.88" width="1.0" height="10.84" fill="#7f9dd2"/>
<rect x="228.20" y="341.88" width="1.0" height="10.84" fill="#afc1e3"/>
<rect x="245.30" y="341.88" width="1.0" height="10.84" fill="#7f9dd2"/>
<rect x="277.70" y="341.88" width="1.0" height="10.84" fill="#7f9dd2"/>
<rect x="332.00" y="341.88" width="1.0" height="10.84" fill="#7f9dd2"/>
<rect x="346.40" y="341.88" width="1.0" height="10.84" fill="#afc1e3"/>
<rect x="79.60" y="353.32" width="1.0" height="10.84" fill="#5579bc"/>
<rect x="104.90" y="353.32" width="1.0" height="10.84" fill="#7f9dd2"/>
<rect x="149.20" y="353.32" width="1.0" height="10.84" fill="#7f9dd2"/>
<rect x="179.40" y="353.32" width="1.0" height="10.84" fill="#7f9dd2"/>
<rect x="211.70" y="353.32" width="1.0" height="10.84" fill="#7f9dd2"/>
<rect x="213.10" y="353.32" width="1.0" height="10.84" fill="#7f9dd2"/>
<rect x="214.60" y="353.32" width="1.0" height="10.84" fill="#7f9dd2"/>
<rect x="247.10" y="353.32" width="1.0" height="10.84" fill="#afc1e3"/>
<rect x="308.10" y="353.32" width="1.0" height="10.84" fill="#7f9dd2"/>
<rect x="315.00" y="353.32" width="1.0" height="10.84" fill="#7f9dd2"/>
<rect x="98.70" y="364.76" width="1.0" height="10.84" fill="#7f9dd2"/>
<rect x="100.50" y="364.76" width="1.0" height="10.84" fill="#7f9dd2"/>
<rect x="154.50" y="364.76" width="1.0" height="10.84" fill="#7f9dd2"/>
<rect x="260.80" y="364.76" width="1.0" height="10.84" fill="#7f9dd2"/>
<rect x="290.00" y="364.76" width="1.0" height="10.84" fill="#7f9dd2"/>
<rect x="345.70" y="364.76" width="1.0" height="10.84" fill="#7f9dd2"/>
<rect x="89.00" y="376.20" width="1.0" height="10.84" fill="#afc1e3"/>
<rect x="90.00" y="376.20" width="1.0" height="10.84" fill="#afc1e3"/>
<rect x="181.10" y="376.20" width="1.0" height="10.84" fill="#7f9dd2"/>
<rect x="193.20" y="376.20" width="1.0" height="10.84" fill="#7f9dd2"/>
<rect x="219.90" y="376.20" width="1.0" height="10.84" fill="#7f9dd2"/>
<rect x="270.20" y="376.20" width="1.0" height="10.84" fill="#7f9dd2"/>
<rect x="276.50" y="376.20" width="1.0" height="10.84" fill="#7f9dd2"/>
<rect x="307.20" y="376.20" width="1.0" height="10.84" fill="#7f9dd2"/>
<rect x="325.80" y="376.20" width="1.0" height="10.84" fill="#7f9dd2"/>
<rect x="345.20" y="376.20" width="1.0" height="10.84" fill="#7f9dd2"/>
<rect x="104.00" y="387.64" width="1.0" height="10.84" fill="#7f9dd2"/>
<rect x="154.50" y="387.64" width="1.0" height="10.84" fill="#7f9dd2"/>
<rect x="171.90" y="387.64" width="1.0" height="10.84" fill="#7f9dd2"/>
<rect x="182.50" y="387.64" width="1.0" height="10.84" fill="#7f9dd2"/>
<rect x="202.00" y="387.64" width="1.0" height="10.84" fill="#7f9dd2"/>
<rect x="219.20" y="387.64" width="1.0" height="10.84" fill="#7f9dd2"/>
<rect x="253.00" y="387.64" width="1.0" height="10.84" fill="#afc1e3"/>
<rect x="260.80" y="387.64" width="1.0" height="10.84" fill="#7f9dd2"/>
<rect x="269.20" y="387.64" width="1.0" height="10.84" fill="#afc1e3"/>
<rect x="280.60" y="387.64" width="1.0" height="10.84" fill="#afc1e3"/>
<rect x="290.00" y="387.64" width="1.0" height="10.84" fill="#7f9dd2"/>
<rect x="311.40" y="387.64" width="1.0" height="10.84" fill="#afc1e3"/>
<rect x="336.10" y="387.64" width="1.0" height="10.84" fill="#5579bc"/>
<rect x="97.30" y="399.08" width="1.0" height="10.84" fill="#7f9dd2"/>
<rect x="144.40" y="399.08" width="1.0" height="10.84" fill="#7f9dd2"/>
<rect x="174.20" y="399.08" width="1.0" height="10.84" fill="#7f9dd2"/>
<rect x="206.10" y="399.08" width="1.0" height="10.84" fill="#7f9dd2"/>
<rect x="220.60" y="399.08" width="1.0" height="10.84" fill="#7f9dd2"/>
<rect x="236.10" y="399.08" width="1.0" height="10.84" fill="#7f9dd2"/>
<rect x="245.30" y="399.08" width="1.0" height="10.84" fill="#7f9dd2"/>
<rect x="253.00" y="399.08" width="1.0" height="10.84" fill="#afc1e3"/>
<rect x="270.50" y="399.08" width="1.0" height="10.84" fill="#7f9dd2"/>
<rect x="280.60" y="399.08" width="1.0" height="10.84" fill="#afc1e3"/>
<rect x="289.20" y="399.08" width="1.0" height="10.84" fill="#afc1e3"/>
<rect x="290.20" y="399.08" width="1.0" height="10.84" fill="#afc1e3"/>
<rect x="301.80" y="399.08" width="1.0" height="10.84" fill="#7f9dd2"/>
<rect x="326.20" y="399.08" width="1.0" height="10.84" fill="#7f9dd2"/>
<rect x="337.00" y="399.08" width="1.0" height="10.84" fill="#7f9dd2"/>
<rect x="341.50" y="399.08" width="1.0" height="10.84" fill="#7f9dd2"/>
<rect x="344.30" y="399.08" width="1.0" height="10.84" fill="#7f9dd2"/>
<rect x="84.20" y="410.52" width="1.0" height="10.84" fill="#afc1e3"/>
<rect x="142.60" y="410.52" width="1.0" height="10.84" fill="#7f9dd2"/>
<rect x="171.90" y="410.52" width="1.0" height="10.84" fill="#7f9dd2"/>
<rect x="182.50" y="410.52" width="1.0" height="10.84" fill="#7f9dd2"/>
<rect x="187.30" y="410.52" width="1.0" height="10.84" fill="#7f9dd2"/>
<rect x="206.10" y="410.52" width="1.0" height="10.84" fill="#7f9dd2"/>
<rect x="236.10" y="410.52" width="1.0" height="10.84" fill="#7f9dd2"/>
<rect x="243.50" y="410.52" width="1.0" height="10.84" fill="#7f9dd2"/>
<rect x="251.00" y="410.52" width="1.0" height="10.84" fill="#afc1e3"/>
<rect x="252.00" y="410.52" width="1.0" height="10.84" fill="#afc1e3"/>
<rect x="253.00" y="410.52" width="1.0" height="10.84" fill="#afc1e3"/>
<rect x="270.20" y="410.52" width="1.0" height="10.84" fill="#5579bc"/>
<rect x="319.90" y="410.52" width="1.0" height="10.84" fill="#7f9dd2"/>
<rect x="334.40" y="410.52" width="1.0" height="10.84" fill="#afc1e3"/>
<rect x="335.40" y="410.52" width="1.0" height="10.84" fill="#afc1e3"/>
<rect x="343.90" y="410.52" width="1.0" height="10.84" fill="#7f9dd2"/>
<rect x="81.90" y="421.96" width="1.0" height="10.84" fill="#7f9dd2"/>
<rect x="84.90" y="421.96" width="1.0" height="10.84" fill="#5579bc"/>
<rect x="89.00" y="421.96" width="1.0" height="10.84" fill="#afc1e3"/>
<rect x="90.00" y="421.96" width="1.0" height="10.84" fill="#afc1e3"/>
<rect x="97.30" y="421.96" width="1.0" height="10.84" fill="#7f9dd2"/>
<rect x="104.00" y="421.96" width="1.0" height="10.84" fill="#7f9dd2"/>
<rect x="121.70" y="421.96" width="1.0" height="10.84" fill="#7f9dd2"/>
<rect x="130.60" y="421.96" width="1.0" height="10.84" fill="#7f9dd2"/>
<rect x="154.50" y="421.96" width="1.0" height="10.84" fill="#7f9dd2"/>
<rect x="159.20" y="421.96" width="1.0" height="10.84" fill="#7f9dd2"/>
<rect x="164.50" y="421.96" width="1.0" height="10.84" fill="#5579bc"/>
<rect x="174.20" y="421.96" width="1.0" height="10.84" fill="#7f9dd2"/>
<rect x="179.40" y="421.96" width="1.0" height="10.84" fill="#7f9dd2"/>
<rect x="206.10" y="421.96" width="1.0" height="10.84" fill="#7f9dd2"/>
<rect x="219.70" y="421.96" width="1.0" height="10.84" fill="#5579bc"/>
<rect x="220.70" y="421.96" width="1.0" height="10.84" fill="#5579bc"/>
<rect x="224.10" y="421.96" width="1.0" height="10.84" fill="#7f9dd2"/>
<rect x="231.70" y="421.96" width="1.0" height="10.84" fill="#7f9dd2"/>
<rect x="236.10" y="421.96" width="1.0" height="10.84" fill="#7f9dd2"/>
<rect x="248.00" y="421.96" width="1.0" height="10.84" fill="#7f9dd2"/>
<rect x="253.00" y="421.96" width="1.0" height="10.84" fill="#7f9dd2"/>
<rect x="265.10" y="421.96" width="1.0" height="10.84" fill="#7f9dd2"/>
<rect x="270.20" y="421.96" width="1.0" height="10.84" fill="#7f9dd2"/>
<rect x="280.60" y="421.96" width="1.0" height="10.84" fill="#7f9dd2"/>
<rect x="285.50" y="421.96" width="1.0" height="10.84" fill="#7f9dd2"/>
<rect x="291.80" y="421.96" width="1.0" height="10.84" fill="#7f9dd2"/>
<rect x="294.60" y="421.96" width="1.0" height="10.84" fill="#afc1e3"/>
<rect x="300.00" y="421.96" width="1.0" height="10.84" fill="#7f9dd2"/>
<rect x="301.80" y="421.96" width="1.0" height="10.84" fill="#7f9dd2"/>
<rect x="311.40" y="421.96" width="1.0" height="10.84" fill="#7f9dd2"/>
<rect x="315.00" y="421.96" width="1.0" height="10.84" fill="#7f9dd2"/>
<rect x="326.60" y="421.96" width="1.0" height="10.84" fill="#5579bc"/>
<rect x="327.60" y="421.96" width="1.0" height="10.84" fill="#5579bc"/>
<rect x="335.60" y="421.96" width="1.0" height="10.84" fill="#5579bc"/>
<rect x="336.60" y="421.96" width="1.0" height="10.84" fill="#5579bc"/>
<rect x="341.90" y="421.96" width="1.0" height="10.84" fill="#7f9dd2"/>
<rect x="344.80" y="421.96" width="1.0" height="10.84" fill="#7f9dd2"/>
<rect x="79.50" y="318.70" width="270.00" height="114.40" fill="none" stroke="#2b2b2b" stroke-width="1"/>
<text x="73.40" y="327.00" font-size="9.0" text-anchor="end" textLength="28.80" lengthAdjust="spacingAndGlyphs" fill="#231f20">t(15;17)</text>
<text x="391.90" y="330.60" font-size="9.4" text-anchor="middle" textLength="13.80" lengthAdjust="spacingAndGlyphs" fill="#231f20">283</text>
<text x="438.10" y="330.60" font-size="9.4" textLength="20.80" lengthAdjust="spacingAndGlyphs" fill="#231f20">0.754</text>
<text x="73.40" y="338.50" font-size="9.0" text-anchor="end" textLength="24.40" lengthAdjust="spacingAndGlyphs" fill="#231f20">t(8;21)</text>
<text x="391.90" y="342.07" font-size="9.4" text-anchor="middle" textLength="13.80" lengthAdjust="spacingAndGlyphs" fill="#231f20">283</text>
<text x="438.10" y="342.07" font-size="9.4" textLength="20.80" lengthAdjust="spacingAndGlyphs" fill="#231f20">0.528</text>
<text x="73.40" y="350.00" font-size="9.0" text-anchor="end" textLength="26.60" lengthAdjust="spacingAndGlyphs" fill="#231f20">inv(16)</text>
<text x="391.90" y="353.54" font-size="9.4" text-anchor="middle" textLength="13.80" lengthAdjust="spacingAndGlyphs" fill="#231f20">283</text>
<text x="438.10" y="353.54" font-size="9.4" textLength="20.80" lengthAdjust="spacingAndGlyphs" fill="#231f20">0.085</text>
<text x="73.40" y="361.50" font-size="9.0" text-anchor="end" textLength="24.20" lengthAdjust="spacingAndGlyphs" fill="#231f20">t(9;11)</text>
<text x="391.90" y="365.01" font-size="9.4" text-anchor="middle" textLength="13.80" lengthAdjust="spacingAndGlyphs" fill="#231f20">283</text>
<text x="438.10" y="365.01" font-size="9.4" textLength="20.80" lengthAdjust="spacingAndGlyphs" fill="#231f20">0.651</text>
<text x="73.40" y="373.00" font-size="9.0" text-anchor="end" textLength="21.60" lengthAdjust="spacingAndGlyphs" fill="#231f20">inv(3)</text>
<text x="391.90" y="376.48" font-size="9.4" text-anchor="middle" textLength="13.80" lengthAdjust="spacingAndGlyphs" fill="#231f20">283</text>
<text x="438.10" y="376.48" font-size="9.4" textLength="20.80" lengthAdjust="spacingAndGlyphs" fill="#231f20">0.877</text>
<text x="73.40" y="384.50" font-size="9.0" text-anchor="end" textLength="50.70" lengthAdjust="spacingAndGlyphs" fill="#231f20">t(v;11)(v;q23)</text>
<text x="391.90" y="387.95" font-size="9.4" text-anchor="middle" textLength="13.80" lengthAdjust="spacingAndGlyphs" fill="#231f20">283</text>
<text x="438.10" y="387.95" font-size="9.4" textLength="20.80" lengthAdjust="spacingAndGlyphs" fill="#231f20">0.421</text>
<text x="73.40" y="396.00" font-size="9.0" text-anchor="end" textLength="7.40" lengthAdjust="spacingAndGlyphs" fill="#231f20">-7</text>
<text x="391.90" y="399.42" font-size="9.4" text-anchor="middle" textLength="13.80" lengthAdjust="spacingAndGlyphs" fill="#231f20">283</text>
<text x="438.10" y="399.42" font-size="9.4" textLength="20.80" lengthAdjust="spacingAndGlyphs" fill="#231f20">0.182</text>
<text x="73.40" y="407.50" font-size="9.0" text-anchor="end" textLength="37.40" lengthAdjust="spacingAndGlyphs" fill="#231f20">-5/del(5q)</text>
<text x="391.90" y="410.89" font-size="9.4" text-anchor="middle" textLength="13.80" lengthAdjust="spacingAndGlyphs" fill="#231f20">283</text>
<text x="438.10" y="410.89" font-size="9.4" textLength="20.80" lengthAdjust="spacingAndGlyphs" fill="#231f20">0.023</text>
<g stroke="#c65a64" stroke-width="0.75" stroke-linecap="butt"><line x1="460.45" y1="406.19" x2="463.15" y2="406.19"/><line x1="461.12" y1="405.02" x2="462.48" y2="407.36"/><line x1="462.48" y1="405.02" x2="461.12" y2="407.36"/></g>
<text x="73.40" y="419.00" font-size="9.0" text-anchor="end" textLength="31.70" lengthAdjust="spacingAndGlyphs" fill="#231f20">abnl(17)</text>
<text x="391.90" y="422.36" font-size="9.4" text-anchor="middle" textLength="13.80" lengthAdjust="spacingAndGlyphs" fill="#231f20">283</text>
<text x="438.10" y="422.36" font-size="9.4" textLength="20.80" lengthAdjust="spacingAndGlyphs" fill="#231f20">0.026</text>
<g stroke="#c65a64" stroke-width="0.75" stroke-linecap="butt"><line x1="460.45" y1="417.66" x2="463.15" y2="417.66"/><line x1="461.12" y1="416.49" x2="462.48" y2="418.83"/><line x1="462.48" y1="416.49" x2="461.12" y2="418.83"/></g>
<text x="73.40" y="430.50" font-size="9.0" text-anchor="end" textLength="33.10" lengthAdjust="spacingAndGlyphs" fill="#231f20">complex</text>
<text x="391.90" y="433.83" font-size="9.4" text-anchor="middle" textLength="13.80" lengthAdjust="spacingAndGlyphs" fill="#231f20">283</text>
<text x="438.10" y="433.83" font-size="9.4" textLength="20.80" lengthAdjust="spacingAndGlyphs" fill="#231f20">0.010</text>
<g stroke="#c65a64" stroke-width="0.75" stroke-linecap="butt"><line x1="460.45" y1="429.13" x2="463.15" y2="429.13"/><line x1="461.12" y1="427.96" x2="462.48" y2="430.30"/><line x1="462.48" y1="427.96" x2="461.12" y2="430.30"/></g>
<rect x="89.70" y="477.22" width="1.0" height="114.38" fill="#dedad8"/>
<rect x="95.70" y="477.22" width="1.0" height="114.38" fill="#dedad8"/>
<rect x="109.30" y="477.22" width="1.0" height="114.38" fill="#dedad8"/>
<rect x="129.50" y="477.22" width="1.0" height="114.38" fill="#dedad8"/>
<rect x="131.40" y="477.22" width="1.0" height="114.38" fill="#dedad8"/>
<rect x="194.30" y="477.22" width="1.0" height="114.38" fill="#dedad8"/>
<rect x="198.80" y="454.34" width="1.0" height="137.26" fill="#dedad8"/>
<rect x="221.90" y="477.22" width="1.0" height="114.38" fill="#dedad8"/>
<rect x="252.40" y="454.34" width="1.0" height="137.26" fill="#dedad8"/>
<rect x="284.70" y="454.34" width="1.0" height="137.26" fill="#dedad8"/>
<rect x="325.90" y="454.34" width="1.0" height="137.26" fill="#dedad8"/>
<rect x="83.20" y="443.20" width="1.0" height="10.84" fill="#7f9dd2"/>
<rect x="89.70" y="443.20" width="1.0" height="10.84" fill="#afc1e3"/>
<rect x="91.60" y="443.20" width="1.0" height="10.84" fill="#7f9dd2"/>
<rect x="95.70" y="443.20" width="1.0" height="10.84" fill="#7f9dd2"/>
<rect x="103.20" y="443.20" width="1.0" height="10.84" fill="#afc1e3"/>
<rect x="106.90" y="443.20" width="1.0" height="10.84" fill="#7f9dd2"/>
<rect x="112.50" y="443.20" width="1.0" height="10.84" fill="#7f9dd2"/>
<rect x="115.50" y="443.20" width="1.0" height="10.84" fill="#5579bc"/>
<rect x="117.00" y="443.20" width="1.0" height="10.84" fill="#5579bc"/>
<rect x="118.50" y="443.20" width="1.0" height="10.84" fill="#5579bc"/>
<rect x="121.50" y="443.20" width="1.0" height="10.84" fill="#7f9dd2"/>
<rect x="123.40" y="443.20" width="1.0" height="10.84" fill="#7f9dd2"/>
<rect x="125.70" y="443.20" width="1.0" height="10.84" fill="#7f9dd2"/>
<rect x="128.20" y="443.20" width="1.0" height="10.84" fill="#7f9dd2"/>
<rect x="129.10" y="443.20" width="1.0" height="10.84" fill="#7f9dd2"/>
<rect x="133.80" y="443.20" width="1.0" height="10.84" fill="#7f9dd2"/>
<rect x="137.50" y="443.20" width="1.0" height="10.84" fill="#7f9dd2"/>
<rect x="139.40" y="443.20" width="1.0" height="10.84" fill="#7f9dd2"/>
<rect x="141.30" y="443.20" width="1.0" height="10.84" fill="#7f9dd2"/>
<rect x="143.10" y="443.20" width="1.0" height="10.84" fill="#7f9dd2"/>
<rect x="153.40" y="443.20" width="1.0" height="10.84" fill="#7f9dd2"/>
<rect x="155.60" y="443.20" width="1.0" height="10.84" fill="#7f9dd2"/>
<rect x="165.00" y="443.20" width="1.0" height="10.84" fill="#7f9dd2"/>
<rect x="166.90" y="443.20" width="1.0" height="10.84" fill="#7f9dd2"/>
<rect x="168.90" y="443.20" width="1.0" height="10.84" fill="#7f9dd2"/>
<rect x="173.20" y="443.20" width="1.0" height="10.84" fill="#7f9dd2"/>
<rect x="176.00" y="443.20" width="1.0" height="10.84" fill="#7f9dd2"/>
<rect x="179.30" y="443.20" width="1.0" height="10.84" fill="#7f9dd2"/>
<rect x="183.10" y="443.20" width="1.0" height="10.84" fill="#7f9dd2"/>
<rect x="187.20" y="443.20" width="1.0" height="10.84" fill="#7f9dd2"/>
<rect x="191.30" y="443.20" width="1.0" height="10.84" fill="#7f9dd2"/>
<rect x="196.50" y="443.20" width="1.0" height="10.84" fill="#7f9dd2"/>
<rect x="202.50" y="443.20" width="1.0" height="10.84" fill="#7f9dd2"/>
<rect x="204.40" y="443.20" width="1.0" height="10.84" fill="#5579bc"/>
<rect x="214.40" y="443.20" width="1.0" height="10.84" fill="#7f9dd2"/>
<rect x="216.30" y="443.20" width="1.0" height="10.84" fill="#7f9dd2"/>
<rect x="218.20" y="443.20" width="1.0" height="10.84" fill="#7f9dd2"/>
<rect x="221.00" y="443.20" width="1.0" height="10.84" fill="#5579bc"/>
<rect x="225.60" y="443.20" width="1.0" height="10.84" fill="#7f9dd2"/>
<rect x="227.00" y="443.20" width="1.0" height="10.84" fill="#7f9dd2"/>
<rect x="239.30" y="443.20" width="1.0" height="10.84" fill="#7f9dd2"/>
<rect x="252.80" y="443.20" width="1.0" height="10.84" fill="#5579bc"/>
<rect x="254.60" y="443.20" width="1.0" height="10.84" fill="#5579bc"/>
<rect x="261.30" y="443.20" width="1.0" height="10.84" fill="#5579bc"/>
<rect x="272.50" y="443.20" width="1.0" height="10.84" fill="#7f9dd2"/>
<rect x="278.70" y="443.20" width="1.0" height="10.84" fill="#7f9dd2"/>
<rect x="281.30" y="443.20" width="1.0" height="10.84" fill="#7f9dd2"/>
<rect x="291.80" y="443.20" width="1.0" height="10.84" fill="#7f9dd2"/>
<rect x="303.40" y="443.20" width="1.0" height="10.84" fill="#7f9dd2"/>
<rect x="303.90" y="443.20" width="1.0" height="10.84" fill="#7f9dd2"/>
<rect x="306.30" y="443.20" width="1.0" height="10.84" fill="#7f9dd2"/>
<rect x="310.60" y="443.20" width="1.0" height="10.84" fill="#7f9dd2"/>
<rect x="311.90" y="443.20" width="1.0" height="10.84" fill="#7f9dd2"/>
<rect x="317.00" y="443.20" width="1.0" height="10.84" fill="#5579bc"/>
<rect x="319.90" y="443.20" width="1.0" height="10.84" fill="#7f9dd2"/>
<rect x="324.10" y="443.20" width="1.0" height="10.84" fill="#7f9dd2"/>
<rect x="327.80" y="443.20" width="1.0" height="10.84" fill="#5579bc"/>
<rect x="329.30" y="443.20" width="1.0" height="10.84" fill="#7f9dd2"/>
<rect x="339.00" y="443.20" width="1.0" height="10.84" fill="#7f9dd2"/>
<rect x="343.10" y="443.20" width="1.0" height="10.84" fill="#7f9dd2"/>
<rect x="90.10" y="454.64" width="1.0" height="10.84" fill="#afc1e3"/>
<rect x="98.70" y="454.64" width="1.0" height="10.84" fill="#7f9dd2"/>
<rect x="102.40" y="454.64" width="1.0" height="10.84" fill="#7f9dd2"/>
<rect x="109.30" y="454.64" width="1.0" height="10.84" fill="#7f9dd2"/>
<rect x="127.20" y="454.64" width="1.0" height="10.84" fill="#7f9dd2"/>
<rect x="131.90" y="454.64" width="1.0" height="10.84" fill="#7f9dd2"/>
<rect x="133.80" y="454.64" width="1.0" height="10.84" fill="#7f9dd2"/>
<rect x="137.50" y="454.64" width="1.0" height="10.84" fill="#7f9dd2"/>
<rect x="142.20" y="454.64" width="1.0" height="10.84" fill="#7f9dd2"/>
<rect x="144.10" y="454.64" width="1.0" height="10.84" fill="#7f9dd2"/>
<rect x="149.70" y="454.64" width="1.0" height="10.84" fill="#7f9dd2"/>
<rect x="153.40" y="454.64" width="1.0" height="10.84" fill="#7f9dd2"/>
<rect x="164.60" y="454.64" width="1.0" height="10.84" fill="#7f9dd2"/>
<rect x="179.30" y="454.64" width="1.0" height="10.84" fill="#7f9dd2"/>
<rect x="186.30" y="454.64" width="1.0" height="10.84" fill="#7f9dd2"/>
<rect x="191.90" y="454.64" width="1.0" height="10.84" fill="#5579bc"/>
<rect x="192.80" y="454.64" width="1.0" height="10.84" fill="#5579bc"/>
<rect x="194.70" y="454.64" width="1.0" height="10.84" fill="#5579bc"/>
<rect x="203.10" y="454.64" width="1.0" height="10.84" fill="#7f9dd2"/>
<rect x="213.90" y="454.64" width="1.0" height="10.84" fill="#7f9dd2"/>
<rect x="221.00" y="454.64" width="1.0" height="10.84" fill="#7f9dd2"/>
<rect x="244.30" y="454.64" width="1.0" height="10.84" fill="#7f9dd2"/>
<rect x="254.20" y="454.64" width="1.0" height="10.84" fill="#7f9dd2"/>
<rect x="278.70" y="454.64" width="1.0" height="10.84" fill="#7f9dd2"/>
<rect x="291.80" y="454.64" width="1.0" height="10.84" fill="#7f9dd2"/>
<rect x="295.90" y="454.64" width="1.0" height="10.84" fill="#7f9dd2"/>
<rect x="303.40" y="454.64" width="1.0" height="10.84" fill="#7f9dd2"/>
<rect x="305.00" y="454.64" width="1.0" height="10.84" fill="#7f9dd2"/>
<rect x="307.20" y="454.64" width="1.0" height="10.84" fill="#7f9dd2"/>
<rect x="316.60" y="454.64" width="1.0" height="10.84" fill="#7f9dd2"/>
<rect x="317.50" y="454.64" width="1.0" height="10.84" fill="#7f9dd2"/>
<rect x="323.10" y="454.64" width="1.0" height="10.84" fill="#7f9dd2"/>
<rect x="325.00" y="454.64" width="1.0" height="10.84" fill="#7f9dd2"/>
<rect x="328.70" y="454.64" width="1.0" height="10.84" fill="#7f9dd2"/>
<rect x="343.10" y="454.64" width="1.0" height="10.84" fill="#7f9dd2"/>
<rect x="80.70" y="466.08" width="1.0" height="10.84" fill="#7f9dd2"/>
<rect x="82.20" y="466.08" width="1.0" height="10.84" fill="#7f9dd2"/>
<rect x="86.90" y="466.08" width="1.0" height="10.84" fill="#7f9dd2"/>
<rect x="93.10" y="466.08" width="1.0" height="10.84" fill="#7f9dd2"/>
<rect x="94.90" y="466.08" width="1.0" height="10.84" fill="#7f9dd2"/>
<rect x="95.70" y="466.08" width="1.0" height="10.84" fill="#7f9dd2"/>
<rect x="101.90" y="466.08" width="1.0" height="10.84" fill="#7f9dd2"/>
<rect x="105.60" y="466.08" width="1.0" height="10.84" fill="#7f9dd2"/>
<rect x="109.30" y="466.08" width="1.0" height="10.84" fill="#7f9dd2"/>
<rect x="113.50" y="466.08" width="1.0" height="10.84" fill="#7f9dd2"/>
<rect x="115.90" y="466.08" width="1.0" height="10.84" fill="#7f9dd2"/>
<rect x="118.10" y="466.08" width="1.0" height="10.84" fill="#7f9dd2"/>
<rect x="120.50" y="466.08" width="1.0" height="10.84" fill="#7f9dd2"/>
<rect x="122.80" y="466.08" width="1.0" height="10.84" fill="#7f9dd2"/>
<rect x="127.20" y="466.08" width="1.0" height="10.84" fill="#7f9dd2"/>
<rect x="129.10" y="466.08" width="1.0" height="10.84" fill="#7f9dd2"/>
<rect x="134.70" y="466.08" width="1.0" height="10.84" fill="#7f9dd2"/>
<rect x="138.50" y="466.08" width="1.0" height="10.84" fill="#7f9dd2"/>
<rect x="143.10" y="466.08" width="1.0" height="10.84" fill="#7f9dd2"/>
<rect x="145.90" y="466.08" width="1.0" height="10.84" fill="#7f9dd2"/>
<rect x="151.50" y="466.08" width="1.0" height="10.84" fill="#7f9dd2"/>
<rect x="153.00" y="466.08" width="1.0" height="10.84" fill="#5579bc"/>
<rect x="156.20" y="466.08" width="1.0" height="10.84" fill="#7f9dd2"/>
<rect x="159.90" y="466.08" width="1.0" height="10.84" fill="#7f9dd2"/>
<rect x="166.50" y="466.08" width="1.0" height="10.84" fill="#7f9dd2"/>
<rect x="173.20" y="466.08" width="1.0" height="10.84" fill="#7f9dd2"/>
<rect x="176.00" y="466.08" width="1.0" height="10.84" fill="#7f9dd2"/>
<rect x="178.80" y="466.08" width="1.0" height="10.84" fill="#7f9dd2"/>
<rect x="183.10" y="466.08" width="1.0" height="10.84" fill="#7f9dd2"/>
<rect x="186.30" y="466.08" width="1.0" height="10.84" fill="#7f9dd2"/>
<rect x="190.00" y="466.08" width="1.0" height="10.84" fill="#7f9dd2"/>
<rect x="197.50" y="466.08" width="1.0" height="10.84" fill="#7f9dd2"/>
<rect x="199.30" y="466.08" width="1.0" height="10.84" fill="#7f9dd2"/>
<rect x="204.00" y="466.08" width="1.0" height="10.84" fill="#7f9dd2"/>
<rect x="206.80" y="466.08" width="1.0" height="10.84" fill="#7f9dd2"/>
<rect x="208.10" y="466.08" width="1.0" height="10.84" fill="#7f9dd2"/>
<rect x="210.00" y="466.08" width="1.0" height="10.84" fill="#7f9dd2"/>
<rect x="211.90" y="466.08" width="1.0" height="10.84" fill="#7f9dd2"/>
<rect x="215.70" y="466.08" width="1.0" height="10.84" fill="#7f9dd2"/>
<rect x="222.80" y="466.08" width="1.0" height="10.84" fill="#7f9dd2"/>
<rect x="225.60" y="466.08" width="1.0" height="10.84" fill="#7f9dd2"/>
<rect x="227.00" y="466.08" width="1.0" height="10.84" fill="#7f9dd2"/>
<rect x="229.90" y="466.08" width="1.0" height="10.84" fill="#7f9dd2"/>
<rect x="236.90" y="466.08" width="1.0" height="10.84" fill="#7f9dd2"/>
<rect x="239.70" y="466.08" width="1.0" height="10.84" fill="#7f9dd2"/>
<rect x="244.30" y="466.08" width="1.0" height="10.84" fill="#7f9dd2"/>
<rect x="252.80" y="466.08" width="1.0" height="10.84" fill="#7f9dd2"/>
<rect x="256.50" y="466.08" width="1.0" height="10.84" fill="#5579bc"/>
<rect x="261.30" y="466.08" width="1.0" height="10.84" fill="#7f9dd2"/>
<rect x="266.90" y="466.08" width="1.0" height="10.84" fill="#5579bc"/>
<rect x="272.50" y="466.08" width="1.0" height="10.84" fill="#7f9dd2"/>
<rect x="277.20" y="466.08" width="1.0" height="10.84" fill="#7f9dd2"/>
<rect x="281.30" y="466.08" width="1.0" height="10.84" fill="#7f9dd2"/>
<rect x="286.90" y="466.08" width="1.0" height="10.84" fill="#5579bc"/>
<rect x="295.90" y="466.08" width="1.0" height="10.84" fill="#5579bc"/>
<rect x="301.10" y="466.08" width="1.0" height="10.84" fill="#7f9dd2"/>
<rect x="310.00" y="466.08" width="1.0" height="10.84" fill="#7f9dd2"/>
<rect x="311.40" y="466.08" width="1.0" height="10.84" fill="#7f9dd2"/>
<rect x="317.50" y="466.08" width="1.0" height="10.84" fill="#5579bc"/>
<rect x="322.20" y="466.08" width="1.0" height="10.84" fill="#7f9dd2"/>
<rect x="323.70" y="466.08" width="1.0" height="10.84" fill="#7f9dd2"/>
<rect x="324.40" y="466.08" width="1.0" height="10.84" fill="#7f9dd2"/>
<rect x="327.80" y="466.08" width="1.0" height="10.84" fill="#5579bc"/>
<rect x="339.00" y="466.08" width="1.0" height="10.84" fill="#7f9dd2"/>
<rect x="94.90" y="477.52" width="1.0" height="10.84" fill="#7f9dd2"/>
<rect x="97.20" y="477.52" width="1.0" height="10.84" fill="#7f9dd2"/>
<rect x="125.40" y="477.52" width="1.0" height="10.84" fill="#7f9dd2"/>
<rect x="135.60" y="477.52" width="1.0" height="10.84" fill="#7f9dd2"/>
<rect x="140.30" y="477.52" width="1.0" height="10.84" fill="#7f9dd2"/>
<rect x="147.80" y="477.52" width="1.0" height="10.84" fill="#7f9dd2"/>
<rect x="154.30" y="477.52" width="1.0" height="10.84" fill="#7f9dd2"/>
<rect x="158.10" y="477.52" width="1.0" height="10.84" fill="#7f9dd2"/>
<rect x="203.10" y="477.52" width="1.0" height="10.84" fill="#7f9dd2"/>
<rect x="213.70" y="477.52" width="1.0" height="10.84" fill="#7f9dd2"/>
<rect x="214.40" y="477.52" width="1.0" height="10.84" fill="#7f9dd2"/>
<rect x="226.60" y="477.52" width="1.0" height="10.84" fill="#7f9dd2"/>
<rect x="229.90" y="477.52" width="1.0" height="10.84" fill="#7f9dd2"/>
<rect x="233.70" y="477.52" width="1.0" height="10.84" fill="#7f9dd2"/>
<rect x="236.90" y="477.52" width="1.0" height="10.84" fill="#7f9dd2"/>
<rect x="249.00" y="477.52" width="1.0" height="10.84" fill="#7f9dd2"/>
<rect x="250.90" y="477.52" width="1.0" height="10.84" fill="#7f9dd2"/>
<rect x="256.90" y="477.52" width="1.0" height="10.84" fill="#7f9dd2"/>
<rect x="258.90" y="477.52" width="1.0" height="10.84" fill="#7f9dd2"/>
<rect x="264.50" y="477.52" width="1.0" height="10.84" fill="#7f9dd2"/>
<rect x="265.60" y="477.52" width="1.0" height="10.84" fill="#7f9dd2"/>
<rect x="267.50" y="477.52" width="1.0" height="10.84" fill="#5579bc"/>
<rect x="284.30" y="477.52" width="1.0" height="10.84" fill="#7f9dd2"/>
<rect x="305.00" y="477.52" width="1.0" height="10.84" fill="#5579bc"/>
<rect x="311.90" y="477.52" width="1.0" height="10.84" fill="#7f9dd2"/>
<rect x="328.70" y="477.52" width="1.0" height="10.84" fill="#7f9dd2"/>
<rect x="97.20" y="488.95" width="1.0" height="10.84" fill="#7f9dd2"/>
<rect x="101.90" y="488.95" width="1.0" height="10.84" fill="#7f9dd2"/>
<rect x="106.50" y="488.95" width="1.0" height="10.84" fill="#7f9dd2"/>
<rect x="110.30" y="488.95" width="1.0" height="10.84" fill="#5579bc"/>
<rect x="115.30" y="488.95" width="1.0" height="10.84" fill="#7f9dd2"/>
<rect x="117.80" y="488.95" width="1.0" height="10.84" fill="#7f9dd2"/>
<rect x="126.30" y="488.95" width="1.0" height="10.84" fill="#7f9dd2"/>
<rect x="127.20" y="488.95" width="1.0" height="10.84" fill="#7f9dd2"/>
<rect x="131.90" y="488.95" width="1.0" height="10.84" fill="#7f9dd2"/>
<rect x="133.80" y="488.95" width="1.0" height="10.84" fill="#7f9dd2"/>
<rect x="137.50" y="488.95" width="1.0" height="10.84" fill="#7f9dd2"/>
<rect x="143.10" y="488.95" width="1.0" height="10.84" fill="#7f9dd2"/>
<rect x="148.70" y="488.95" width="1.0" height="10.84" fill="#7f9dd2"/>
<rect x="150.60" y="488.95" width="1.0" height="10.84" fill="#5579bc"/>
<rect x="155.30" y="488.95" width="1.0" height="10.84" fill="#7f9dd2"/>
<rect x="170.40" y="488.95" width="1.0" height="10.84" fill="#7f9dd2"/>
<rect x="171.30" y="488.95" width="1.0" height="10.84" fill="#7f9dd2"/>
<rect x="172.60" y="488.95" width="1.0" height="10.84" fill="#7f9dd2"/>
<rect x="174.10" y="488.95" width="1.0" height="10.84" fill="#7f9dd2"/>
<rect x="175.60" y="488.95" width="1.0" height="10.84" fill="#7f9dd2"/>
<rect x="177.80" y="488.95" width="1.0" height="10.84" fill="#7f9dd2"/>
<rect x="183.50" y="488.95" width="1.0" height="10.84" fill="#7f9dd2"/>
<rect x="190.00" y="488.95" width="1.0" height="10.84" fill="#7f9dd2"/>
<rect x="191.90" y="488.95" width="1.0" height="10.84" fill="#7f9dd2"/>
<rect x="196.20" y="488.95" width="1.0" height="10.84" fill="#7f9dd2"/>
<rect x="201.20" y="488.95" width="1.0" height="10.84" fill="#7f9dd2"/>
<rect x="202.50" y="488.95" width="1.0" height="10.84" fill="#7f9dd2"/>
<rect x="204.90" y="488.95" width="1.0" height="10.84" fill="#7f9dd2"/>
<rect x="206.80" y="488.95" width="1.0" height="10.84" fill="#7f9dd2"/>
<rect x="210.60" y="488.95" width="1.0" height="10.84" fill="#7f9dd2"/>
<rect x="218.20" y="488.95" width="1.0" height="10.84" fill="#7f9dd2"/>
<rect x="225.60" y="488.95" width="1.0" height="10.84" fill="#7f9dd2"/>
<rect x="227.00" y="488.95" width="1.0" height="10.84" fill="#7f9dd2"/>
<rect x="230.30" y="488.95" width="1.0" height="10.84" fill="#7f9dd2"/>
<rect x="236.90" y="488.95" width="1.0" height="10.84" fill="#7f9dd2"/>
<rect x="239.70" y="488.95" width="1.0" height="10.84" fill="#7f9dd2"/>
<rect x="244.30" y="488.95" width="1.0" height="10.84" fill="#5579bc"/>
<rect x="249.00" y="488.95" width="1.0" height="10.84" fill="#7f9dd2"/>
<rect x="253.70" y="488.95" width="1.0" height="10.84" fill="#7f9dd2"/>
<rect x="259.40" y="488.95" width="1.0" height="10.84" fill="#7f9dd2"/>
<rect x="260.70" y="488.95" width="1.0" height="10.84" fill="#7f9dd2"/>
<rect x="266.90" y="488.95" width="1.0" height="10.84" fill="#7f9dd2"/>
<rect x="276.30" y="488.95" width="1.0" height="10.84" fill="#7f9dd2"/>
<rect x="278.70" y="488.95" width="1.0" height="10.84" fill="#5579bc"/>
<rect x="292.10" y="488.95" width="1.0" height="10.84" fill="#7f9dd2"/>
<rect x="297.40" y="488.95" width="1.0" height="10.84" fill="#7f9dd2"/>
<rect x="310.60" y="488.95" width="1.0" height="10.84" fill="#7f9dd2"/>
<rect x="312.50" y="488.95" width="1.0" height="10.84" fill="#7f9dd2"/>
<rect x="318.10" y="488.95" width="1.0" height="10.84" fill="#5579bc"/>
<rect x="321.30" y="488.95" width="1.0" height="10.84" fill="#7f9dd2"/>
<rect x="322.60" y="488.95" width="1.0" height="10.84" fill="#7f9dd2"/>
<rect x="339.00" y="488.95" width="1.0" height="10.84" fill="#5579bc"/>
<rect x="102.40" y="500.39" width="1.0" height="10.84" fill="#7f9dd2"/>
<rect x="106.50" y="500.39" width="1.0" height="10.84" fill="#7f9dd2"/>
<rect x="115.90" y="500.39" width="1.0" height="10.84" fill="#7f9dd2"/>
<rect x="151.20" y="500.39" width="1.0" height="10.84" fill="#7f9dd2"/>
<rect x="166.50" y="500.39" width="1.0" height="10.84" fill="#7f9dd2"/>
<rect x="177.80" y="500.39" width="1.0" height="10.84" fill="#7f9dd2"/>
<rect x="199.90" y="500.39" width="1.0" height="10.84" fill="#7f9dd2"/>
<rect x="215.70" y="500.39" width="1.0" height="10.84" fill="#7f9dd2"/>
<rect x="224.70" y="500.39" width="1.0" height="10.84" fill="#7f9dd2"/>
<rect x="229.90" y="500.39" width="1.0" height="10.84" fill="#7f9dd2"/>
<rect x="234.10" y="500.39" width="1.0" height="10.84" fill="#7f9dd2"/>
<rect x="239.70" y="500.39" width="1.0" height="10.84" fill="#7f9dd2"/>
<rect x="243.80" y="500.39" width="1.0" height="10.84" fill="#7f9dd2"/>
<rect x="295.90" y="500.39" width="1.0" height="10.84" fill="#7f9dd2"/>
<rect x="296.80" y="500.39" width="1.0" height="10.84" fill="#7f9dd2"/>
<rect x="305.40" y="500.39" width="1.0" height="10.84" fill="#7f9dd2"/>
<rect x="311.00" y="500.39" width="1.0" height="10.84" fill="#5579bc"/>
<rect x="321.30" y="500.39" width="1.0" height="10.84" fill="#7f9dd2"/>
<rect x="348.40" y="500.39" width="1.0" height="10.84" fill="#7f9dd2"/>
<rect x="83.20" y="511.83" width="1.0" height="10.84" fill="#7f9dd2"/>
<rect x="85.60" y="511.83" width="1.0" height="10.84" fill="#5579bc"/>
<rect x="86.40" y="511.83" width="1.0" height="10.84" fill="#5579bc"/>
<rect x="90.10" y="511.83" width="1.0" height="10.84" fill="#7f9dd2"/>
<rect x="93.10" y="511.83" width="1.0" height="10.84" fill="#7f9dd2"/>
<rect x="94.40" y="511.83" width="1.0" height="10.84" fill="#7f9dd2"/>
<rect x="100.00" y="511.83" width="1.0" height="10.84" fill="#7f9dd2"/>
<rect x="100.90" y="511.83" width="1.0" height="10.84" fill="#7f9dd2"/>
<rect x="103.70" y="511.83" width="1.0" height="10.84" fill="#7f9dd2"/>
<rect x="118.70" y="511.83" width="1.0" height="10.84" fill="#7f9dd2"/>
<rect x="120.00" y="511.83" width="1.0" height="10.84" fill="#7f9dd2"/>
<rect x="147.40" y="511.83" width="1.0" height="10.84" fill="#7f9dd2"/>
<rect x="148.70" y="511.83" width="1.0" height="10.84" fill="#7f9dd2"/>
<rect x="153.00" y="511.83" width="1.0" height="10.84" fill="#7f9dd2"/>
<rect x="155.30" y="511.83" width="1.0" height="10.84" fill="#7f9dd2"/>
<rect x="159.90" y="511.83" width="1.0" height="10.84" fill="#7f9dd2"/>
<rect x="170.40" y="511.83" width="1.0" height="10.84" fill="#7f9dd2"/>
<rect x="173.70" y="511.83" width="1.0" height="10.84" fill="#7f9dd2"/>
<rect x="175.00" y="511.83" width="1.0" height="10.84" fill="#7f9dd2"/>
<rect x="190.90" y="511.83" width="1.0" height="10.84" fill="#afc1e3"/>
<rect x="191.90" y="511.83" width="1.0" height="10.84" fill="#afc1e3"/>
<rect x="201.80" y="511.83" width="1.0" height="10.84" fill="#7f9dd2"/>
<rect x="222.80" y="511.83" width="1.0" height="10.84" fill="#7f9dd2"/>
<rect x="232.20" y="511.83" width="1.0" height="10.84" fill="#7f9dd2"/>
<rect x="255.50" y="511.83" width="1.0" height="10.84" fill="#7f9dd2"/>
<rect x="258.00" y="511.83" width="1.0" height="10.84" fill="#7f9dd2"/>
<rect x="259.40" y="511.83" width="1.0" height="10.84" fill="#7f9dd2"/>
<rect x="274.40" y="511.83" width="1.0" height="10.84" fill="#7f9dd2"/>
<rect x="294.00" y="511.83" width="1.0" height="10.84" fill="#7f9dd2"/>
<rect x="299.20" y="511.83" width="1.0" height="10.84" fill="#7f9dd2"/>
<rect x="314.30" y="511.83" width="1.0" height="10.84" fill="#7f9dd2"/>
<rect x="322.60" y="511.83" width="1.0" height="10.84" fill="#7f9dd2"/>
<rect x="338.60" y="511.83" width="1.0" height="10.84" fill="#7f9dd2"/>
<rect x="98.10" y="523.27" width="1.0" height="10.84" fill="#7f9dd2"/>
<rect x="101.30" y="523.27" width="1.0" height="10.84" fill="#7f9dd2"/>
<rect x="104.70" y="523.27" width="1.0" height="10.84" fill="#7f9dd2"/>
<rect x="113.10" y="523.27" width="1.0" height="10.84" fill="#7f9dd2"/>
<rect x="115.50" y="523.27" width="1.0" height="10.84" fill="#7f9dd2"/>
<rect x="123.70" y="523.27" width="1.0" height="10.84" fill="#7f9dd2"/>
<rect x="123.50" y="523.27" width="1.0" height="10.84" fill="#7f9dd2"/>
<rect x="133.80" y="523.27" width="1.0" height="10.84" fill="#7f9dd2"/>
<rect x="135.60" y="523.27" width="1.0" height="10.84" fill="#7f9dd2"/>
<rect x="147.40" y="523.27" width="1.0" height="10.84" fill="#7f9dd2"/>
<rect x="158.10" y="523.27" width="1.0" height="10.84" fill="#7f9dd2"/>
<rect x="195.60" y="523.27" width="1.0" height="10.84" fill="#afc1e3"/>
<rect x="196.50" y="523.27" width="1.0" height="10.84" fill="#afc1e3"/>
<rect x="206.80" y="523.27" width="1.0" height="10.84" fill="#7f9dd2"/>
<rect x="211.10" y="523.27" width="1.0" height="10.84" fill="#7f9dd2"/>
<rect x="218.20" y="523.27" width="1.0" height="10.84" fill="#5579bc"/>
<rect x="228.10" y="523.27" width="1.0" height="10.84" fill="#7f9dd2"/>
<rect x="229.90" y="523.27" width="1.0" height="10.84" fill="#7f9dd2"/>
<rect x="244.30" y="523.27" width="1.0" height="10.84" fill="#7f9dd2"/>
<rect x="266.00" y="523.27" width="1.0" height="10.84" fill="#7f9dd2"/>
<rect x="268.80" y="523.27" width="1.0" height="10.84" fill="#7f9dd2"/>
<rect x="286.90" y="523.27" width="1.0" height="10.84" fill="#5579bc"/>
<rect x="294.90" y="523.27" width="1.0" height="10.84" fill="#7f9dd2"/>
<rect x="303.40" y="523.27" width="1.0" height="10.84" fill="#7f9dd2"/>
<rect x="303.90" y="523.27" width="1.0" height="10.84" fill="#7f9dd2"/>
<rect x="323.10" y="523.27" width="1.0" height="10.84" fill="#7f9dd2"/>
<rect x="336.20" y="523.27" width="1.0" height="10.84" fill="#7f9dd2"/>
<rect x="348.40" y="523.27" width="1.0" height="10.84" fill="#7f9dd2"/>
<rect x="87.80" y="534.71" width="1.0" height="10.84" fill="#7f9dd2"/>
<rect x="89.30" y="534.71" width="1.0" height="10.84" fill="#7f9dd2"/>
<rect x="98.70" y="534.71" width="1.0" height="10.84" fill="#7f9dd2"/>
<rect x="104.10" y="534.71" width="1.0" height="10.84" fill="#7f9dd2"/>
<rect x="111.20" y="534.71" width="1.0" height="10.84" fill="#7f9dd2"/>
<rect x="123.70" y="534.71" width="1.0" height="10.84" fill="#7f9dd2"/>
<rect x="123.90" y="534.71" width="1.0" height="10.84" fill="#5579bc"/>
<rect x="132.80" y="534.71" width="1.0" height="10.84" fill="#7f9dd2"/>
<rect x="149.70" y="534.71" width="1.0" height="10.84" fill="#7f9dd2"/>
<rect x="154.30" y="534.71" width="1.0" height="10.84" fill="#7f9dd2"/>
<rect x="159.00" y="534.71" width="1.0" height="10.84" fill="#7f9dd2"/>
<rect x="168.70" y="534.71" width="1.0" height="10.84" fill="#7f9dd2"/>
<rect x="168.90" y="534.71" width="1.0" height="10.84" fill="#7f9dd2"/>
<rect x="170.00" y="534.71" width="1.0" height="10.84" fill="#5579bc"/>
<rect x="173.20" y="534.71" width="1.0" height="10.84" fill="#7f9dd2"/>
<rect x="177.80" y="534.71" width="1.0" height="10.84" fill="#7f9dd2"/>
<rect x="218.20" y="534.71" width="1.0" height="10.84" fill="#7f9dd2"/>
<rect x="229.40" y="534.71" width="1.0" height="10.84" fill="#7f9dd2"/>
<rect x="234.40" y="534.71" width="1.0" height="10.84" fill="#7f9dd2"/>
<rect x="242.50" y="534.71" width="1.0" height="10.84" fill="#7f9dd2"/>
<rect x="248.10" y="534.71" width="1.0" height="10.84" fill="#7f9dd2"/>
<rect x="266.00" y="534.71" width="1.0" height="10.84" fill="#7f9dd2"/>
<rect x="280.60" y="534.71" width="1.0" height="10.84" fill="#7f9dd2"/>
<rect x="292.50" y="534.71" width="1.0" height="10.84" fill="#7f9dd2"/>
<rect x="316.20" y="534.71" width="1.0" height="10.84" fill="#7f9dd2"/>
<rect x="326.90" y="534.71" width="1.0" height="10.84" fill="#7f9dd2"/>
<rect x="334.90" y="534.71" width="1.0" height="10.84" fill="#7f9dd2"/>
<rect x="83.70" y="546.15" width="1.0" height="10.84" fill="#afc1e3"/>
<rect x="97.20" y="546.15" width="1.0" height="10.84" fill="#7f9dd2"/>
<rect x="174.10" y="546.15" width="1.0" height="10.84" fill="#7f9dd2"/>
<rect x="206.30" y="546.15" width="1.0" height="10.84" fill="#7f9dd2"/>
<rect x="236.30" y="546.15" width="1.0" height="10.84" fill="#7f9dd2"/>
<rect x="243.40" y="546.15" width="1.0" height="10.84" fill="#7f9dd2"/>
<rect x="270.60" y="546.15" width="1.0" height="10.84" fill="#7f9dd2"/>
<rect x="280.60" y="546.15" width="1.0" height="10.84" fill="#5579bc"/>
<rect x="285.60" y="546.15" width="1.0" height="10.84" fill="#7f9dd2"/>
<rect x="289.30" y="546.15" width="1.0" height="10.84" fill="#7f9dd2"/>
<rect x="290.60" y="546.15" width="1.0" height="10.84" fill="#7f9dd2"/>
<rect x="294.00" y="546.15" width="1.0" height="10.84" fill="#7f9dd2"/>
<rect x="303.40" y="546.15" width="1.0" height="10.84" fill="#7f9dd2"/>
<rect x="305.00" y="546.15" width="1.0" height="10.84" fill="#5579bc"/>
<rect x="334.30" y="546.15" width="1.0" height="10.84" fill="#7f9dd2"/>
<rect x="335.30" y="546.15" width="1.0" height="10.84" fill="#7f9dd2"/>
<rect x="336.80" y="546.15" width="1.0" height="10.84" fill="#7f9dd2"/>
<rect x="341.80" y="546.15" width="1.0" height="10.84" fill="#7f9dd2"/>
<rect x="343.70" y="546.15" width="1.0" height="10.84" fill="#5579bc"/>
<rect x="90.10" y="557.58" width="1.0" height="10.84" fill="#7f9dd2"/>
<rect x="101.30" y="557.58" width="1.0" height="10.84" fill="#7f9dd2"/>
<rect x="102.40" y="557.58" width="1.0" height="10.84" fill="#7f9dd2"/>
<rect x="104.70" y="557.58" width="1.0" height="10.84" fill="#7f9dd2"/>
<rect x="113.10" y="557.58" width="1.0" height="10.84" fill="#7f9dd2"/>
<rect x="130.60" y="557.58" width="1.0" height="10.84" fill="#7f9dd2"/>
<rect x="138.10" y="557.58" width="1.0" height="10.84" fill="#7f9dd2"/>
<rect x="170.40" y="557.58" width="1.0" height="10.84" fill="#7f9dd2"/>
<rect x="178.80" y="557.58" width="1.0" height="10.84" fill="#7f9dd2"/>
<rect x="189.10" y="557.58" width="1.0" height="10.84" fill="#7f9dd2"/>
<rect x="198.00" y="557.58" width="1.0" height="10.84" fill="#7f9dd2"/>
<rect x="207.80" y="557.58" width="1.0" height="10.84" fill="#5579bc"/>
<rect x="218.20" y="557.58" width="1.0" height="10.84" fill="#7f9dd2"/>
<rect x="228.50" y="557.58" width="1.0" height="10.84" fill="#7f9dd2"/>
<rect x="230.30" y="557.58" width="1.0" height="10.84" fill="#5579bc"/>
<rect x="231.30" y="557.58" width="1.0" height="10.84" fill="#5579bc"/>
<rect x="237.80" y="557.58" width="1.0" height="10.84" fill="#7f9dd2"/>
<rect x="245.60" y="557.58" width="1.0" height="10.84" fill="#7f9dd2"/>
<rect x="249.00" y="557.58" width="1.0" height="10.84" fill="#7f9dd2"/>
<rect x="250.50" y="557.58" width="1.0" height="10.84" fill="#5579bc"/>
<rect x="256.90" y="557.58" width="1.0" height="10.84" fill="#7f9dd2"/>
<rect x="264.10" y="557.58" width="1.0" height="10.84" fill="#7f9dd2"/>
<rect x="273.50" y="557.58" width="1.0" height="10.84" fill="#7f9dd2"/>
<rect x="278.70" y="557.58" width="1.0" height="10.84" fill="#7f9dd2"/>
<rect x="284.30" y="557.58" width="1.0" height="10.84" fill="#7f9dd2"/>
<rect x="292.10" y="557.58" width="1.0" height="10.84" fill="#7f9dd2"/>
<rect x="310.00" y="557.58" width="1.0" height="10.84" fill="#7f9dd2"/>
<rect x="313.80" y="557.58" width="1.0" height="10.84" fill="#5579bc"/>
<rect x="321.30" y="557.58" width="1.0" height="10.84" fill="#7f9dd2"/>
<rect x="333.00" y="557.58" width="1.0" height="10.84" fill="#7f9dd2"/>
<rect x="336.80" y="557.58" width="1.0" height="10.84" fill="#7f9dd2"/>
<rect x="341.30" y="557.58" width="1.0" height="10.84" fill="#5579bc"/>
<rect x="343.10" y="557.58" width="1.0" height="10.84" fill="#7f9dd2"/>
<rect x="345.60" y="557.58" width="1.0" height="10.84" fill="#5579bc"/>
<rect x="121.90" y="569.02" width="1.0" height="10.84" fill="#7f9dd2"/>
<rect x="168.70" y="569.02" width="1.0" height="10.84" fill="#7f9dd2"/>
<rect x="168.90" y="569.02" width="1.0" height="10.84" fill="#7f9dd2"/>
<rect x="187.20" y="569.02" width="1.0" height="10.84" fill="#7f9dd2"/>
<rect x="233.70" y="569.02" width="1.0" height="10.84" fill="#7f9dd2"/>
<rect x="272.00" y="569.02" width="1.0" height="10.84" fill="#7f9dd2"/>
<rect x="278.10" y="569.02" width="1.0" height="10.84" fill="#7f9dd2"/>
<rect x="293.60" y="569.02" width="1.0" height="10.84" fill="#7f9dd2"/>
<rect x="303.40" y="569.02" width="1.0" height="10.84" fill="#7f9dd2"/>
<rect x="306.30" y="569.02" width="1.0" height="10.84" fill="#7f9dd2"/>
<rect x="307.60" y="569.02" width="1.0" height="10.84" fill="#7f9dd2"/>
<rect x="314.70" y="569.02" width="1.0" height="10.84" fill="#7f9dd2"/>
<rect x="346.50" y="569.02" width="1.0" height="10.84" fill="#7f9dd2"/>
<rect x="87.80" y="580.46" width="1.0" height="10.84" fill="#5579bc"/>
<rect x="88.80" y="580.46" width="1.0" height="10.84" fill="#5579bc"/>
<rect x="90.10" y="580.46" width="1.0" height="10.84" fill="#7f9dd2"/>
<rect x="99.40" y="580.46" width="1.0" height="10.84" fill="#7f9dd2"/>
<rect x="114.00" y="580.46" width="1.0" height="10.84" fill="#7f9dd2"/>
<rect x="132.80" y="580.46" width="1.0" height="10.84" fill="#7f9dd2"/>
<rect x="137.00" y="580.46" width="1.0" height="10.84" fill="#7f9dd2"/>
<rect x="148.20" y="580.46" width="1.0" height="10.84" fill="#7f9dd2"/>
<rect x="170.00" y="580.46" width="1.0" height="10.84" fill="#7f9dd2"/>
<rect x="171.90" y="580.46" width="1.0" height="10.84" fill="#7f9dd2"/>
<rect x="179.30" y="580.46" width="1.0" height="10.84" fill="#7f9dd2"/>
<rect x="185.30" y="580.46" width="1.0" height="10.84" fill="#7f9dd2"/>
<rect x="194.70" y="580.46" width="1.0" height="10.84" fill="#7f9dd2"/>
<rect x="209.20" y="580.46" width="1.0" height="10.84" fill="#7f9dd2"/>
<rect x="225.60" y="580.46" width="1.0" height="10.84" fill="#7f9dd2"/>
<rect x="229.90" y="580.46" width="1.0" height="10.84" fill="#7f9dd2"/>
<rect x="242.50" y="580.46" width="1.0" height="10.84" fill="#5579bc"/>
<rect x="250.90" y="580.46" width="1.0" height="10.84" fill="#7f9dd2"/>
<rect x="264.10" y="580.46" width="1.0" height="10.84" fill="#7f9dd2"/>
<rect x="268.80" y="580.46" width="1.0" height="10.84" fill="#7f9dd2"/>
<rect x="270.60" y="580.46" width="1.0" height="10.84" fill="#7f9dd2"/>
<rect x="294.90" y="580.46" width="1.0" height="10.84" fill="#7f9dd2"/>
<rect x="299.20" y="580.46" width="1.0" height="10.84" fill="#7f9dd2"/>
<rect x="305.00" y="580.46" width="1.0" height="10.84" fill="#7f9dd2"/>
<rect x="334.30" y="580.46" width="1.0" height="10.84" fill="#7f9dd2"/>
<rect x="348.00" y="580.46" width="1.0" height="10.84" fill="#7f9dd2"/>
<rect x="79.50" y="442.90" width="270.00" height="148.70" fill="none" stroke="#2b2b2b" stroke-width="1"/>
<text x="73.30" y="451.70" font-size="9.0" text-anchor="end" textLength="34.55" lengthAdjust="spacingAndGlyphs" fill="#231f20">FLT3_ITD</text>
<text x="391.90" y="452.40" font-size="9.4" text-anchor="middle" textLength="13.80" lengthAdjust="spacingAndGlyphs" fill="#231f20">315</text>
<text x="438.10" y="452.40" font-size="9.4" textLength="20.80" lengthAdjust="spacingAndGlyphs" fill="#231f20">0.316</text>
<text x="73.30" y="463.14" font-size="9.0" text-anchor="end" textLength="42.30" lengthAdjust="spacingAndGlyphs" fill="#231f20">FLT3_D835</text>
<text x="391.90" y="463.84" font-size="9.4" text-anchor="middle" textLength="13.80" lengthAdjust="spacingAndGlyphs" fill="#231f20">307</text>
<text x="438.10" y="463.84" font-size="9.4" textLength="20.80" lengthAdjust="spacingAndGlyphs" fill="#231f20">0.843</text>
<text x="73.30" y="474.58" font-size="9.0" text-anchor="end" textLength="22.70" lengthAdjust="spacingAndGlyphs" fill="#231f20">NPM1</text>
<text x="391.90" y="475.28" font-size="9.4" text-anchor="middle" textLength="13.80" lengthAdjust="spacingAndGlyphs" fill="#231f20">315</text>
<text x="438.10" y="475.28" font-size="9.4" textLength="20.80" lengthAdjust="spacingAndGlyphs" fill="#231f20">0.268</text>
<text x="73.30" y="486.02" font-size="9.0" text-anchor="end" textLength="24.55" lengthAdjust="spacingAndGlyphs" fill="#231f20">CEBPA</text>
<text x="391.90" y="486.72" font-size="9.4" text-anchor="middle" textLength="13.80" lengthAdjust="spacingAndGlyphs" fill="#231f20">304</text>
<text x="438.10" y="486.72" font-size="9.4" textLength="20.80" lengthAdjust="spacingAndGlyphs" fill="#231f20">0.482</text>
<text x="73.30" y="497.45" font-size="9.0" text-anchor="end" textLength="34.30" lengthAdjust="spacingAndGlyphs" fill="#231f20">DNMT3A</text>
<text x="391.90" y="498.15" font-size="9.4" text-anchor="middle" textLength="13.80" lengthAdjust="spacingAndGlyphs" fill="#231f20">303</text>
<text x="438.10" y="498.15" font-size="9.4" textLength="20.80" lengthAdjust="spacingAndGlyphs" fill="#231f20">0.412</text>
<text x="73.30" y="508.89" font-size="9.0" text-anchor="end" textLength="18.90" lengthAdjust="spacingAndGlyphs" fill="#231f20">IDH1</text>
<text x="391.90" y="509.59" font-size="9.4" text-anchor="middle" textLength="13.80" lengthAdjust="spacingAndGlyphs" fill="#231f20">304</text>
<text x="438.10" y="509.59" font-size="9.4" textLength="20.80" lengthAdjust="spacingAndGlyphs" fill="#231f20">0.373</text>
<text x="73.30" y="520.33" font-size="9.0" text-anchor="end" textLength="19.30" lengthAdjust="spacingAndGlyphs" fill="#231f20">IDH2</text>
<text x="391.90" y="521.03" font-size="9.4" text-anchor="middle" textLength="13.80" lengthAdjust="spacingAndGlyphs" fill="#231f20">304</text>
<text x="438.10" y="521.03" font-size="9.4" textLength="20.80" lengthAdjust="spacingAndGlyphs" fill="#231f20">0.001</text>
<g stroke="#c65a64" stroke-width="0.75" stroke-linecap="butt"><line x1="460.45" y1="516.33" x2="463.15" y2="516.33"/><line x1="461.12" y1="515.16" x2="462.48" y2="517.50"/><line x1="462.48" y1="515.16" x2="461.12" y2="517.50"/></g>
<g stroke="#c65a64" stroke-width="0.75" stroke-linecap="butt"><line x1="464.38" y1="516.33" x2="467.08" y2="516.33"/><line x1="465.05" y1="515.16" x2="466.41" y2="517.50"/><line x1="466.41" y1="515.16" x2="465.05" y2="517.50"/></g>
<text x="73.30" y="531.77" font-size="9.0" text-anchor="end" textLength="17.90" lengthAdjust="spacingAndGlyphs" fill="#231f20">TET2</text>
<text x="391.90" y="532.47" font-size="9.4" text-anchor="middle" textLength="13.80" lengthAdjust="spacingAndGlyphs" fill="#231f20">303</text>
<text x="438.10" y="532.47" font-size="9.4" textLength="20.80" lengthAdjust="spacingAndGlyphs" fill="#231f20">0.668</text>
<text x="73.30" y="543.21" font-size="9.0" text-anchor="end" textLength="26.70" lengthAdjust="spacingAndGlyphs" fill="#231f20">RUNX1</text>
<text x="391.90" y="543.91" font-size="9.4" text-anchor="middle" textLength="13.80" lengthAdjust="spacingAndGlyphs" fill="#231f20">303</text>
<text x="438.10" y="543.91" font-size="9.4" textLength="20.80" lengthAdjust="spacingAndGlyphs" fill="#231f20">0.323</text>
<text x="73.30" y="554.65" font-size="9.0" text-anchor="end" textLength="18.55" lengthAdjust="spacingAndGlyphs" fill="#231f20">TP53</text>
<text x="391.90" y="555.35" font-size="9.4" text-anchor="middle" textLength="13.80" lengthAdjust="spacingAndGlyphs" fill="#231f20">303</text>
<text x="433.70" y="555.35" font-size="9.4" textLength="29.60" lengthAdjust="spacingAndGlyphs" fill="#231f20">&lt;0.0001</text>
<g stroke="#c65a64" stroke-width="0.75" stroke-linecap="butt"><line x1="464.85" y1="550.65" x2="467.55" y2="550.65"/><line x1="465.52" y1="549.48" x2="466.88" y2="551.82"/><line x1="466.88" y1="549.48" x2="465.52" y2="551.82"/></g>
<g stroke="#c65a64" stroke-width="0.75" stroke-linecap="butt"><line x1="468.78" y1="550.65" x2="471.48" y2="550.65"/><line x1="469.45" y1="549.48" x2="470.81" y2="551.82"/><line x1="470.81" y1="549.48" x2="469.45" y2="551.82"/></g>
<g stroke="#c65a64" stroke-width="0.75" stroke-linecap="butt"><line x1="472.71" y1="550.65" x2="475.41" y2="550.65"/><line x1="473.38" y1="549.48" x2="474.74" y2="551.82"/><line x1="474.74" y1="549.48" x2="473.38" y2="551.82"/></g>
<g stroke="#c65a64" stroke-width="0.75" stroke-linecap="butt"><line x1="476.64" y1="550.65" x2="479.34" y2="550.65"/><line x1="477.31" y1="549.48" x2="478.67" y2="551.82"/><line x1="478.67" y1="549.48" x2="477.31" y2="551.82"/></g>
<text x="73.30" y="566.08" font-size="9.0" text-anchor="end" textLength="21.40" lengthAdjust="spacingAndGlyphs" fill="#231f20">NRAS</text>
<text x="391.90" y="566.78" font-size="9.4" text-anchor="middle" textLength="13.80" lengthAdjust="spacingAndGlyphs" fill="#231f20">304</text>
<text x="438.10" y="566.78" font-size="9.4" textLength="20.80" lengthAdjust="spacingAndGlyphs" fill="#231f20">0.003</text>
<g stroke="#c65a64" stroke-width="0.75" stroke-linecap="butt"><line x1="460.45" y1="562.08" x2="463.15" y2="562.08"/><line x1="461.12" y1="560.91" x2="462.48" y2="563.25"/><line x1="462.48" y1="560.91" x2="461.12" y2="563.25"/></g>
<g stroke="#c65a64" stroke-width="0.75" stroke-linecap="butt"><line x1="464.38" y1="562.08" x2="467.08" y2="562.08"/><line x1="465.05" y1="560.91" x2="466.41" y2="563.25"/><line x1="466.41" y1="560.91" x2="465.05" y2="563.25"/></g>
<text x="73.30" y="577.52" font-size="9.0" text-anchor="end" textLength="19.80" lengthAdjust="spacingAndGlyphs" fill="#231f20">KRAS</text>
<text x="391.90" y="578.22" font-size="9.4" text-anchor="middle" textLength="13.80" lengthAdjust="spacingAndGlyphs" fill="#231f20">304</text>
<text x="438.10" y="578.22" font-size="9.4" textLength="20.80" lengthAdjust="spacingAndGlyphs" fill="#231f20">0.010</text>
<g stroke="#c65a64" stroke-width="0.75" stroke-linecap="butt"><line x1="460.45" y1="573.52" x2="463.15" y2="573.52"/><line x1="461.12" y1="572.35" x2="462.48" y2="574.69"/><line x1="462.48" y1="572.35" x2="461.12" y2="574.69"/></g>
<g stroke="#c65a64" stroke-width="0.75" stroke-linecap="butt"><line x1="464.38" y1="573.52" x2="467.08" y2="573.52"/><line x1="465.05" y1="572.35" x2="466.41" y2="574.69"/><line x1="466.41" y1="572.35" x2="465.05" y2="574.69"/></g>
<text x="73.30" y="588.96" font-size="9.0" text-anchor="end" textLength="24.20" lengthAdjust="spacingAndGlyphs" fill="#231f20">ASXL1</text>
<text x="391.90" y="589.66" font-size="9.4" text-anchor="middle" textLength="13.80" lengthAdjust="spacingAndGlyphs" fill="#231f20">298</text>
<text x="438.10" y="589.66" font-size="9.4" textLength="20.80" lengthAdjust="spacingAndGlyphs" fill="#231f20">0.835</text>
<rect x="116.30" y="598.20" width="9.70" height="9.40" fill="#6b8cc9" stroke="#2b2b2b" stroke-width="0.9"/>
<text x="128.80" y="606.00" font-size="9.0" textLength="30.00" lengthAdjust="spacingAndGlyphs" fill="#231f20">positive</text>
<rect x="180.00" y="598.20" width="9.60" height="9.40" fill="#ffffff" stroke="#2b2b2b" stroke-width="0.9"/>
<text x="192.40" y="606.00" font-size="9.0" textLength="32.80" lengthAdjust="spacingAndGlyphs" fill="#231f20">negative</text>
<rect x="244.20" y="598.20" width="9.60" height="9.40" fill="#c6c3c1" stroke="#2b2b2b" stroke-width="0.9"/>
<text x="256.80" y="606.00" font-size="9.0" textLength="50.20" lengthAdjust="spacingAndGlyphs" fill="#231f20">not available</text>
<text x="9.10" y="636.60" font-size="11.2" textLength="7.20" lengthAdjust="spacingAndGlyphs" fill="#231f20">B</text>
<text transform="translate(16.6,699.3) rotate(-90)" font-size="10.6" text-anchor="middle" textLength="64.9" lengthAdjust="spacingAndGlyphs" fill="#231f20">GW-2580 AUC</text>
<rect x="46.0" y="643.90" width="156.80" height="24.50" fill="#e9ae96"/>
<rect x="46.0" y="668.40" width="156.80" height="24.80" fill="#b4b4d8"/>
<rect x="46.0" y="693.20" width="156.80" height="65.30" fill="#c9dcb1"/>
<line x1="46.0" y1="643.90" x2="202.8" y2="643.90" stroke="#4a3f45" stroke-width="0.8" stroke-dasharray="2.5 1.5"/>
<line x1="46.0" y1="668.40" x2="202.8" y2="668.40" stroke="#4a3f45" stroke-width="0.8" stroke-dasharray="2.5 1.5"/>
<line x1="46.0" y1="693.20" x2="202.8" y2="693.20" stroke="#4a3f45" stroke-width="0.8" stroke-dasharray="2.5 1.5"/>
<text x="38.80" y="761.40" font-size="9.2" text-anchor="end" textLength="4.60" lengthAdjust="spacingAndGlyphs" fill="#231f20">0</text>
<line x1="41.9" y1="758.50" x2="45.6" y2="758.50" stroke="#231f20" stroke-width="1"/>
<text x="38.80" y="738.48" font-size="9.2" text-anchor="end" textLength="9.00" lengthAdjust="spacingAndGlyphs" fill="#231f20">20</text>
<line x1="41.9" y1="735.50" x2="45.6" y2="735.50" stroke="#231f20" stroke-width="1"/>
<text x="38.80" y="715.56" font-size="9.2" text-anchor="end" textLength="9.00" lengthAdjust="spacingAndGlyphs" fill="#231f20">40</text>
<line x1="41.9" y1="712.50" x2="45.6" y2="712.50" stroke="#231f20" stroke-width="1"/>
<text x="38.80" y="692.64" font-size="9.2" text-anchor="end" textLength="9.00" lengthAdjust="spacingAndGlyphs" fill="#231f20">60</text>
<line x1="41.9" y1="689.50" x2="45.6" y2="689.50" stroke="#231f20" stroke-width="1"/>
<text x="38.80" y="669.72" font-size="9.2" text-anchor="end" textLength="9.00" lengthAdjust="spacingAndGlyphs" fill="#231f20">80</text>
<line x1="41.9" y1="666.50" x2="45.6" y2="666.50" stroke="#231f20" stroke-width="1"/>
<text x="38.80" y="646.80" font-size="9.2" text-anchor="end" textLength="13.40" lengthAdjust="spacingAndGlyphs" fill="#231f20">100</text>
<line x1="41.9" y1="643.50" x2="45.6" y2="643.50" stroke="#231f20" stroke-width="1"/>
<line x1="45.6" y1="640.2" x2="45.6" y2="759" stroke="#231f20" stroke-width="1.1"/>
<line x1="45.1" y1="758.6" x2="202.6" y2="758.6" stroke="#231f20" stroke-width="1.1"/>
<line x1="77.0" y1="758.6" x2="77.0" y2="762.2" stroke="#231f20" stroke-width="0.9"/>
<line x1="124.3" y1="758.6" x2="124.3" y2="762.2" stroke="#231f20" stroke-width="0.9"/>
<line x1="170.9" y1="758.6" x2="170.9" y2="762.2" stroke="#231f20" stroke-width="0.9"/>
<text x="78.40" y="773.40" font-size="9.0" text-anchor="middle" textLength="31.10" lengthAdjust="spacingAndGlyphs" fill="#231f20">de novo</text>
<text x="125.10" y="773.40" font-size="9.0" text-anchor="middle" textLength="27.70" lengthAdjust="spacingAndGlyphs" fill="#231f20">relapse</text>
<text x="172.20" y="773.40" font-size="9.0" text-anchor="middle" textLength="40.20" lengthAdjust="spacingAndGlyphs" fill="#231f20">secondary</text>
<text x="100.60" y="633.50" font-size="9.0" text-anchor="middle" textLength="35.70" lengthAdjust="spacingAndGlyphs" fill="#231f20">p = 0.040</text>
<line x1="76.7" y1="639.2" x2="124.9" y2="639.2" stroke="#231f20" stroke-width="1"/>
<text x="206.80" y="658.60" font-size="9.0" textLength="32.60" lengthAdjust="spacingAndGlyphs" fill="#231f20">resistant</text>
<text x="206.80" y="683.30" font-size="9.0" textLength="55.10" lengthAdjust="spacingAndGlyphs" fill="#231f20">indeterminate</text>
<text x="206.80" y="728.40" font-size="9.0" textLength="33.30" lengthAdjust="spacingAndGlyphs" fill="#231f20">sensitive</text>
<path d="M77.90,649.30 C78.07,649.67 78.23,649.82 78.90,651.50 C79.57,653.18 80.77,656.65 81.90,659.40 C83.03,662.15 84.47,665.73 85.70,668.00 C86.93,670.27 88.33,671.50 89.30,673.00 C90.27,674.50 91.00,675.80 91.50,677.00 C92.00,678.20 92.58,679.28 92.30,680.20 C92.02,681.12 90.63,681.62 89.80,682.50 C88.97,683.38 88.05,683.85 87.30,685.50 C86.55,687.15 85.92,689.98 85.30,692.40 C84.68,694.82 84.18,697.73 83.60,700.00 C83.02,702.27 82.40,704.00 81.80,706.00 C81.20,708.00 80.48,709.67 80.00,712.00 C79.52,714.33 79.20,717.33 78.90,720.00 C78.60,722.67 78.42,725.40 78.20,728.00 C77.98,730.60 77.80,734.33 77.60,735.60 C77.40,736.87 77.20,736.87 77.00,735.60 C76.80,734.33 76.62,730.60 76.40,728.00 C76.18,725.40 76.00,722.67 75.70,720.00 C75.40,717.33 75.08,714.33 74.60,712.00 C74.12,709.67 73.40,708.00 72.80,706.00 C72.20,704.00 71.58,702.27 71.00,700.00 C70.42,697.73 69.92,694.82 69.30,692.40 C68.68,689.98 68.05,687.15 67.30,685.50 C66.55,683.85 65.63,683.38 64.80,682.50 C63.97,681.62 62.58,681.12 62.30,680.20 C62.02,679.28 62.60,678.20 63.10,677.00 C63.60,675.80 64.33,674.50 65.30,673.00 C66.27,671.50 67.67,670.27 68.90,668.00 C70.13,665.73 71.57,662.15 72.70,659.40 C73.83,656.65 75.03,653.18 75.70,651.50 C76.37,649.82 76.53,649.67 76.70,649.30 Z" fill="none" stroke="#3b3437" stroke-width="1.05"/>
<line x1="62.3" y1="680.2" x2="92.3" y2="680.2" stroke="#3b3437" stroke-width="1"/>
<path d="M127.30,651.50 C127.15,651.85 126.17,652.65 126.40,653.60 C126.63,654.55 127.67,655.77 128.70,657.20 C129.73,658.63 131.72,660.65 132.60,662.20 C133.48,663.75 133.67,665.28 134.00,666.50 C134.33,667.72 134.12,668.65 134.60,669.50 C135.08,670.35 136.10,670.90 136.90,671.60 C137.70,672.30 139.90,672.88 139.40,673.70 C138.90,674.52 135.32,675.45 133.90,676.50 C132.48,677.55 131.72,678.67 130.90,680.00 C130.08,681.33 129.75,683.00 129.00,684.50 C128.25,686.00 127.10,687.68 126.40,689.00 C125.70,690.32 125.20,691.83 124.80,692.40 C124.40,692.97 124.40,692.97 124.00,692.40 C123.60,691.83 123.10,690.32 122.40,689.00 C121.70,687.68 120.55,686.00 119.80,684.50 C119.05,683.00 118.72,681.33 117.90,680.00 C117.08,678.67 116.32,677.55 114.90,676.50 C113.48,675.45 109.90,674.52 109.40,673.70 C108.90,672.88 111.10,672.30 111.90,671.60 C112.70,670.90 113.72,670.35 114.20,669.50 C114.68,668.65 114.47,667.72 114.80,666.50 C115.13,665.28 115.32,663.75 116.20,662.20 C117.08,660.65 119.07,658.63 120.10,657.20 C121.13,655.77 122.17,654.55 122.40,653.60 C122.63,652.65 121.65,651.85 121.50,651.50 Z" fill="none" stroke="#3b3437" stroke-width="1.05"/>
<line x1="124.4" y1="692.4" x2="124.4" y2="706.8" stroke="#3b3437" stroke-width="0.9"/>
<path d="M124.4,706.8 L127.6,712.6 L121.2,712.6 Z" fill="none" stroke="#3b3437" stroke-width="1.05" stroke-linejoin="round"/>
<line x1="109.6" y1="673.0" x2="139.2" y2="673.0" stroke="#3b3437" stroke-width="1"/>
<path d="M175.30,649.30 C175.47,649.55 176.03,650.08 176.30,650.80 C176.57,651.52 176.70,652.17 176.90,653.60 C177.10,655.03 176.88,657.60 177.50,659.40 C178.12,661.20 179.67,662.85 180.60,664.40 C181.53,665.95 182.70,667.52 183.10,668.70 C183.50,669.88 183.20,670.58 183.00,671.50 C182.80,672.42 181.98,673.12 181.90,674.20 C181.82,675.28 181.77,676.52 182.50,678.00 C183.23,679.48 186.53,681.42 186.30,683.10 C186.07,684.78 182.82,686.55 181.10,688.10 C179.38,689.65 177.20,690.97 176.00,692.40 C174.80,693.83 174.48,695.18 173.90,696.70 C173.32,698.22 172.87,699.82 172.50,701.50 C172.13,703.18 171.60,704.97 171.70,706.80 C171.80,708.63 172.78,710.72 173.10,712.50 C173.42,714.28 173.53,716.42 173.60,717.50 C173.67,718.58 174.25,718.75 173.50,719.00 C172.75,719.25 169.85,719.25 169.10,719.00 C168.35,718.75 168.93,718.58 169.00,717.50 C169.07,716.42 169.18,714.28 169.50,712.50 C169.82,710.72 170.80,708.63 170.90,706.80 C171.00,704.97 170.47,703.18 170.10,701.50 C169.73,699.82 169.28,698.22 168.70,696.70 C168.12,695.18 167.80,693.83 166.60,692.40 C165.40,690.97 163.22,689.65 161.50,688.10 C159.78,686.55 156.53,684.78 156.30,683.10 C156.07,681.42 159.37,679.48 160.10,678.00 C160.83,676.52 160.78,675.28 160.70,674.20 C160.62,673.12 159.80,672.42 159.60,671.50 C159.40,670.58 159.10,669.88 159.50,668.70 C159.90,667.52 161.07,665.95 162.00,664.40 C162.93,662.85 164.48,661.20 165.10,659.40 C165.72,657.60 165.50,655.03 165.70,653.60 C165.90,652.17 166.03,651.52 166.30,650.80 C166.57,650.08 167.13,649.55 167.30,649.30 Z" fill="none" stroke="#3b3437" stroke-width="1.05"/>
<line x1="160.8" y1="674.2" x2="181.8" y2="674.2" stroke="#3b3437" stroke-width="1"/>
<text x="284.50" y="637.20" font-size="11.8" textLength="7.90" lengthAdjust="spacingAndGlyphs" fill="#231f20">C</text>
<text x="343.30" y="638.60" font-size="9.0" textLength="145.50" lengthAdjust="spacingAndGlyphs" fill="#231f20">de novo and secondary AML (n = 173)</text>
<text transform="translate(293.2,699.4) rotate(-90)" font-size="10.2" text-anchor="middle" textLength="92.7" lengthAdjust="spacingAndGlyphs" fill="#231f20">Overall survival (%)</text>
<text x="315.00" y="755.90" font-size="9.2" text-anchor="end" textLength="4.60" lengthAdjust="spacingAndGlyphs" fill="#231f20">0</text>
<line x1="318.2" y1="753.50" x2="322.3" y2="753.50" stroke="#231f20" stroke-width="1"/>
<text x="315.00" y="735.32" font-size="9.2" text-anchor="end" textLength="9.00" lengthAdjust="spacingAndGlyphs" fill="#231f20">20</text>
<line x1="318.2" y1="732.50" x2="322.3" y2="732.50" stroke="#231f20" stroke-width="1"/>
<text x="315.00" y="714.74" font-size="9.2" text-anchor="end" textLength="9.00" lengthAdjust="spacingAndGlyphs" fill="#231f20">40</text>
<line x1="318.2" y1="711.50" x2="322.3" y2="711.50" stroke="#231f20" stroke-width="1"/>
<text x="315.00" y="694.16" font-size="9.2" text-anchor="end" textLength="9.00" lengthAdjust="spacingAndGlyphs" fill="#231f20">60</text>
<line x1="318.2" y1="691.50" x2="322.3" y2="691.50" stroke="#231f20" stroke-width="1"/>
<text x="315.00" y="673.58" font-size="9.2" text-anchor="end" textLength="9.00" lengthAdjust="spacingAndGlyphs" fill="#231f20">80</text>
<line x1="318.2" y1="670.50" x2="322.3" y2="670.50" stroke="#231f20" stroke-width="1"/>
<text x="315.00" y="653.00" font-size="9.2" text-anchor="end" textLength="13.40" lengthAdjust="spacingAndGlyphs" fill="#231f20">100</text>
<line x1="318.2" y1="650.50" x2="322.3" y2="650.50" stroke="#231f20" stroke-width="1"/>
<line x1="322.3" y1="644.4" x2="322.3" y2="758.9" stroke="#231f20" stroke-width="1.1"/>
<line x1="321.8" y1="758.4" x2="510" y2="758.4" stroke="#231f20" stroke-width="1.1"/>
<line x1="330.40" y1="758.4" x2="330.40" y2="762.1" stroke="#231f20" stroke-width="0.9"/>
<text x="330.40" y="773.40" font-size="9.2" text-anchor="middle" textLength="4.60" lengthAdjust="spacingAndGlyphs" fill="#231f20">0</text>
<line x1="357.95" y1="758.4" x2="357.95" y2="762.1" stroke="#231f20" stroke-width="0.9"/>
<text x="357.95" y="773.40" font-size="9.2" text-anchor="middle" textLength="9.00" lengthAdjust="spacingAndGlyphs" fill="#231f20">12</text>
<line x1="385.50" y1="758.4" x2="385.50" y2="762.1" stroke="#231f20" stroke-width="0.9"/>
<text x="385.50" y="773.40" font-size="9.2" text-anchor="middle" textLength="9.00" lengthAdjust="spacingAndGlyphs" fill="#231f20">24</text>
<line x1="413.06" y1="758.4" x2="413.06" y2="762.1" stroke="#231f20" stroke-width="0.9"/>
<text x="413.06" y="773.40" font-size="9.2" text-anchor="middle" textLength="9.00" lengthAdjust="spacingAndGlyphs" fill="#231f20">36</text>
<line x1="440.61" y1="758.4" x2="440.61" y2="762.1" stroke="#231f20" stroke-width="0.9"/>
<text x="440.61" y="773.40" font-size="9.2" text-anchor="middle" textLength="9.00" lengthAdjust="spacingAndGlyphs" fill="#231f20">48</text>
<line x1="468.16" y1="758.4" x2="468.16" y2="762.1" stroke="#231f20" stroke-width="0.9"/>
<text x="468.16" y="773.40" font-size="9.2" text-anchor="middle" textLength="9.00" lengthAdjust="spacingAndGlyphs" fill="#231f20">60</text>
<line x1="495.71" y1="758.4" x2="495.71" y2="762.1" stroke="#231f20" stroke-width="0.9"/>
<text x="495.71" y="773.40" font-size="9.2" text-anchor="middle" textLength="9.00" lengthAdjust="spacingAndGlyphs" fill="#231f20">72</text>
<text x="363.80" y="789.30" font-size="10.8" textLength="105.90" lengthAdjust="spacingAndGlyphs" fill="#231f20">Months after diagnosis</text>
<text x="327.50" y="752.90" font-size="8.2" textLength="33.40" lengthAdjust="spacingAndGlyphs" fill="#231f20">p = 0.005</text>
<line x1="442.3" y1="652.1" x2="449.5" y2="652.1" stroke="#6aaa4f" stroke-width="1.1"/>
<text x="453.00" y="654.20" font-size="9.0" textLength="32.00" lengthAdjust="spacingAndGlyphs" fill="#231f20">sensitive</text>
<line x1="442.3" y1="665.4" x2="449.5" y2="665.4" stroke="#4466b0" stroke-width="1.1"/>
<text x="453.00" y="667.50" font-size="9.0" textLength="51.80" lengthAdjust="spacingAndGlyphs" fill="#231f20">indeterminate</text>
<line x1="442.3" y1="677.7" x2="449.5" y2="677.7" stroke="#d0463c" stroke-width="1.1"/>
<text x="453.00" y="679.80" font-size="9.0" textLength="30.30" lengthAdjust="spacingAndGlyphs" fill="#231f20">resistant</text>
<path d="M330.60,649.60 L331.00,649.60 L331.00,656.00 L331.50,656.00 L331.50,661.00 L332.00,661.00 L332.00,665.00 L333.50,665.00 L333.50,668.00 L335.00,668.00 L335.00,671.00 L336.50,671.00 L336.50,674.00 L338.20,674.00 L338.20,676.00 L339.60,676.00 L339.60,680.00 L340.80,680.00 L340.80,686.00 L342.70,686.00 L342.70,692.00 L346.90,692.00 L346.90,696.00 L349.20,696.00 L349.20,702.50 L354.20,702.50 L354.20,708.30 L360.00,708.30 L360.00,713.00 L371.50,713.00 L371.50,717.00 L378.30,717.00 L378.30,724.00 L476.00,724.00 L476.00,724.00" fill="none" stroke="#d0463c" stroke-width="1.25" stroke-linejoin="miter"/>
<path d="M330.60,649.60 L331.20,649.60 L331.20,653.00 L332.00,653.00 L332.00,657.00 L333.00,657.00 L333.00,659.50 L334.40,659.50 L334.40,662.50 L338.30,662.50 L338.30,664.60 L347.90,664.60 L347.90,667.90 L354.60,667.90 L354.60,671.00 L355.00,671.00 L355.00,681.30 L363.30,681.30 L363.30,685.40 L372.90,685.40 L372.90,688.50 L386.30,688.50 L386.30,696.70 L395.00,696.70 L395.00,703.50 L404.20,703.50 L404.20,712.10 L470.00,712.10 L470.00,712.10" fill="none" stroke="#6aaa4f" stroke-width="1.25" stroke-linejoin="miter"/>
<path d="M330.60,649.60 L331.20,649.60 L331.20,653.50 L332.00,653.50 L332.00,656.50 L333.50,656.50 L333.50,658.00 L335.50,658.00 L335.50,659.30 L338.50,659.30 L338.50,660.30 L340.50,660.30 L340.50,661.50 L342.00,661.50 L342.00,663.50 L343.50,663.50 L343.50,665.50 L345.00,665.50 L345.00,667.50 L346.50,667.50 L346.50,669.50 L348.00,669.50 L348.00,671.50 L349.50,671.50 L349.50,673.50 L351.00,673.50 L351.00,676.00 L352.50,676.00 L352.50,678.50 L354.00,678.50 L354.00,681.00 L355.50,681.00 L355.50,683.00 L357.00,683.00 L357.00,685.00 L360.50,685.00 L360.50,686.50 L365.40,686.50 L365.40,688.90 L377.70,688.90 L377.70,689.60 L383.00,689.60 L383.00,690.50 L384.60,690.50 L384.60,691.50 L396.00,691.50 L396.00,693.10 L423.20,693.10 L423.20,697.50 L427.40,697.50 L427.40,701.20 L490.80,701.20 L490.80,701.20" fill="none" stroke="#4466b0" stroke-width="1.25" stroke-linejoin="miter"/>
<line x1="390.8" y1="722.6" x2="390.8" y2="725.4" stroke="#d0463c" stroke-width="0.8"/>
<line x1="393.0" y1="722.6" x2="393.0" y2="725.4" stroke="#d0463c" stroke-width="0.8"/>
<line x1="399.2" y1="722.6" x2="399.2" y2="725.4" stroke="#d0463c" stroke-width="0.8"/>
<line x1="404.6" y1="722.6" x2="404.6" y2="725.4" stroke="#d0463c" stroke-width="0.8"/>
<line x1="414.6" y1="722.6" x2="414.6" y2="725.4" stroke="#d0463c" stroke-width="0.8"/>
<line x1="415.4" y1="722.6" x2="415.4" y2="725.4" stroke="#d0463c" stroke-width="0.8"/>
<line x1="423.0" y1="722.6" x2="423.0" y2="725.4" stroke="#d0463c" stroke-width="0.8"/>
<line x1="457.0" y1="722.6" x2="457.0" y2="725.4" stroke="#d0463c" stroke-width="0.8"/>
<line x1="476.0" y1="722.6" x2="476.0" y2="725.4" stroke="#d0463c" stroke-width="0.8"/>
<line x1="413.3" y1="710.7" x2="413.3" y2="713.5" stroke="#6aaa4f" stroke-width="0.8"/>
<line x1="424.5" y1="710.7" x2="424.5" y2="713.5" stroke="#6aaa4f" stroke-width="0.8"/>
<line x1="442.3" y1="710.7" x2="442.3" y2="713.5" stroke="#6aaa4f" stroke-width="0.8"/>
<line x1="470.0" y1="710.7" x2="470.0" y2="713.5" stroke="#6aaa4f" stroke-width="0.8"/>
<line x1="430.2" y1="699.8" x2="430.2" y2="702.6" stroke="#4466b0" stroke-width="0.8"/>
<line x1="436.9" y1="699.8" x2="436.9" y2="702.6" stroke="#4466b0" stroke-width="0.8"/>
<line x1="438.5" y1="699.8" x2="438.5" y2="702.6" stroke="#4466b0" stroke-width="0.8"/>
<line x1="444.6" y1="699.8" x2="444.6" y2="702.6" stroke="#4466b0" stroke-width="0.8"/>
<line x1="450.4" y1="699.8" x2="450.4" y2="702.6" stroke="#4466b0" stroke-width="0.8"/>
<line x1="464.2" y1="699.8" x2="464.2" y2="702.6" stroke="#4466b0" stroke-width="0.8"/>
<line x1="466.7" y1="699.8" x2="466.7" y2="702.6" stroke="#4466b0" stroke-width="0.8"/>
<line x1="490.8" y1="699.8" x2="490.8" y2="702.6" stroke="#4466b0" stroke-width="0.8"/>
<line x1="399.0" y1="691.7" x2="399.0" y2="694.5" stroke="#4466b0" stroke-width="0.8"/>
<line x1="401.5" y1="691.7" x2="401.5" y2="694.5" stroke="#4466b0" stroke-width="0.8"/>
<line x1="404.0" y1="691.7" x2="404.0" y2="694.5" stroke="#4466b0" stroke-width="0.8"/>
<line x1="406.5" y1="691.7" x2="406.5" y2="694.5" stroke="#4466b0" stroke-width="0.8"/>
<line x1="409.0" y1="691.7" x2="409.0" y2="694.5" stroke="#4466b0" stroke-width="0.8"/>
<line x1="411.5" y1="691.7" x2="411.5" y2="694.5" stroke="#4466b0" stroke-width="0.8"/>
<line x1="414.0" y1="691.7" x2="414.0" y2="694.5" stroke="#4466b0" stroke-width="0.8"/>
<line x1="416.5" y1="691.7" x2="416.5" y2="694.5" stroke="#4466b0" stroke-width="0.8"/>
<line x1="419.0" y1="691.7" x2="419.0" y2="694.5" stroke="#4466b0" stroke-width="0.8"/>
<line x1="421.5" y1="691.7" x2="421.5" y2="694.5" stroke="#4466b0" stroke-width="0.8"/>
<line x1="374.5" y1="688.2" x2="374.5" y2="691.0" stroke="#7f9ab0" stroke-width="0.8"/>
<line x1="377.0" y1="688.2" x2="377.0" y2="691.0" stroke="#7f9ab0" stroke-width="0.8"/>
<line x1="380.5" y1="688.2" x2="380.5" y2="691.0" stroke="#7f9ab0" stroke-width="0.8"/>
<line x1="366.5" y1="684.0" x2="366.5" y2="686.8" stroke="#6aaa4f" stroke-width="0.8"/>
<line x1="369.5" y1="684.0" x2="369.5" y2="686.8" stroke="#6aaa4f" stroke-width="0.8"/>
<rect x="0" y="0" width="1.2" height="801" fill="#000"/>
<rect x="0" y="0" width="520" height="2" fill="#5b5b5b"/>
<rect x="518" y="0" width="2" height="801" fill="#555"/>
<rect x="0" y="799" width="520" height="2" fill="#555"/>
</svg></body></html>
